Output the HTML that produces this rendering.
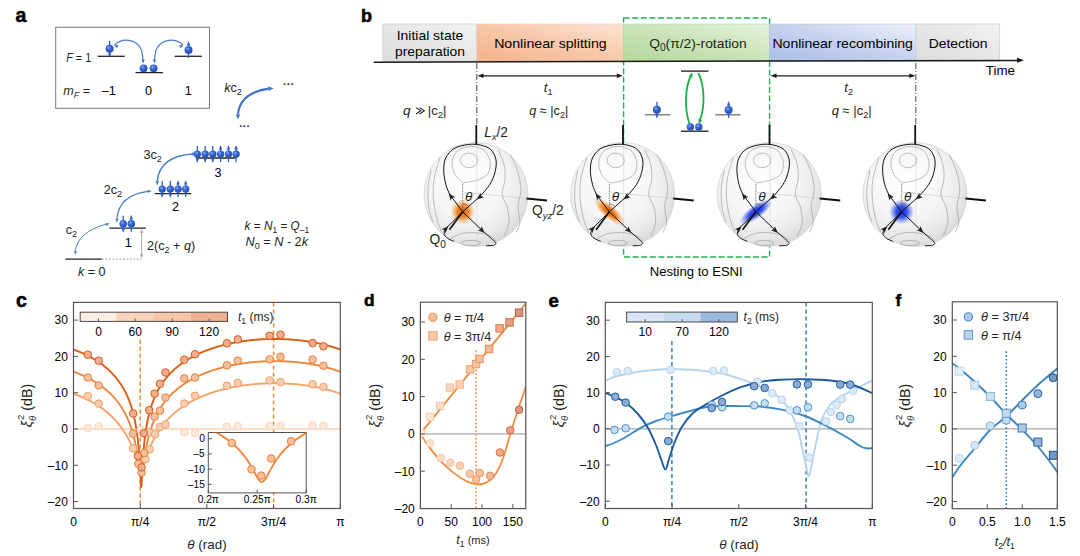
<!DOCTYPE html>
<html><head><meta charset="utf-8"><style>
html,body{margin:0;padding:0;background:#fff;overflow:hidden;width:1080px;height:556px;}
svg{display:block;font-family:"Liberation Sans", sans-serif;}
</style></head><body>
<svg width="1080" height="556" viewBox="0 0 1080 556">
<defs>
<radialGradient id="gAtom" cx="0.38" cy="0.35" r="0.7">
 <stop offset="0" stop-color="#8fb0f0"/><stop offset="0.35" stop-color="#3a6ad6"/><stop offset="1" stop-color="#1f49b0"/>
</radialGradient>
<radialGradient id="gSphere" cx="0.42" cy="0.38" r="0.62">
 <stop offset="0" stop-color="#ffffff"/><stop offset="0.55" stop-color="#f6f6f6"/><stop offset="0.85" stop-color="#e9e9e9"/><stop offset="1" stop-color="#dcdcdc"/>
</radialGradient>
<radialGradient id="gOr" cx="0.5" cy="0.5" r="0.5">
 <stop offset="0" stop-color="#e35f00" stop-opacity="1"/><stop offset="0.45" stop-color="#ee7a10" stop-opacity="0.9"/><stop offset="1" stop-color="#f39a40" stop-opacity="0"/>
</radialGradient>
<radialGradient id="gBl" cx="0.5" cy="0.5" r="0.5">
 <stop offset="0" stop-color="#1030e0" stop-opacity="1"/><stop offset="0.45" stop-color="#2040ee" stop-opacity="0.9"/><stop offset="1" stop-color="#4060f0" stop-opacity="0"/>
</radialGradient>
<linearGradient id="gGray" x1="0" y1="1" x2="1" y2="0">
 <stop offset="0" stop-color="#dcdcdc"/><stop offset="0.5" stop-color="#e6e6e6"/><stop offset="1" stop-color="#f3f3f3"/>
</linearGradient>
<linearGradient id="gOrg" x1="0" y1="1" x2="1" y2="0">
 <stop offset="0" stop-color="#f4b28c"/><stop offset="0.5" stop-color="#f8c8aa"/><stop offset="1" stop-color="#fbe4d6"/>
</linearGradient>
<linearGradient id="gGrn" x1="0" y1="1" x2="1" y2="0">
 <stop offset="0" stop-color="#b3d89a"/><stop offset="0.5" stop-color="#cae4b9"/><stop offset="1" stop-color="#e6f2de"/>
</linearGradient>
<linearGradient id="gBlu" x1="0" y1="1" x2="1" y2="0">
 <stop offset="0" stop-color="#abbfe7"/><stop offset="0.5" stop-color="#c5d1ee"/><stop offset="1" stop-color="#eef1f9"/>
</linearGradient>
</defs>
<rect width="1080" height="556" fill="#fff"/>

<text x="15.60" y="22.30" font-size="19.5" font-weight="bold" fill="#000" stroke="#000" stroke-width="0.55">a</text>
<text x="360.90" y="22.00" font-size="18" font-weight="bold" fill="#000" stroke="#000" stroke-width="0.55">b</text>
<text x="16.00" y="306.60" font-size="19.5" font-weight="bold" fill="#000" stroke="#000" stroke-width="0.55">c</text>
<text x="364.00" y="306.20" font-size="17.3" font-weight="bold" fill="#000" stroke="#000" stroke-width="0.55">d</text>
<text x="548.50" y="306.80" font-size="18.5" font-weight="bold" fill="#000" stroke="#000" stroke-width="0.55">e</text>
<text x="895.40" y="305.90" font-size="17" font-weight="bold" fill="#000" stroke="#000" stroke-width="0.55">f</text>
<rect x="55.7" y="27.3" width="153.8" height="81" fill="none" stroke="#7a7a7a" stroke-width="1"/>
<text x="66.2" y="62.4" font-size="12.6" fill="#231f20" textLength="25" lengthAdjust="spacingAndGlyphs"><tspan font-style="italic">F</tspan> = 1</text>
<text x="63.3" y="94.8" font-size="12.6" fill="#231f20"><tspan font-style="italic">m</tspan><tspan font-size="9" font-style="italic" dy="3">F</tspan><tspan dy="-3"> =</tspan></text>
<text x="108.70" y="94.80" font-size="12.6" text-anchor="middle">–1</text>
<text x="148.60" y="94.80" font-size="12.6" text-anchor="middle">0</text>
<text x="188.20" y="94.80" font-size="12.6" text-anchor="middle">1</text>
<line x1="97.8" y1="56.3" x2="124.8" y2="56.3" stroke="#222" stroke-width="1.3"/>
<line x1="135.5" y1="72.6" x2="162.9" y2="72.6" stroke="#222" stroke-width="1.3"/>
<line x1="174.7" y1="56.3" x2="201.9" y2="56.3" stroke="#222" stroke-width="1.3"/>
<path d="M114.5,45 C122,38 136,38 141.5,50 Q143,56 143,62" fill="none" stroke="#4a7cc8" stroke-width="1.2"/>
<path d="M114.00,45.30 L118.34,45.07 L117.18,48.27Z" fill="#4a7cc8"/>
<path d="M143.00,63.50 L141.44,59.44 L144.84,59.56Z" fill="#4a7cc8"/>
<path d="M183,45 C175.5,38 161.5,38 156,50 Q154.5,56 154.5,62" fill="none" stroke="#4a7cc8" stroke-width="1.2"/>
<path d="M183.50,45.30 L180.32,48.27 L179.16,45.07Z" fill="#4a7cc8"/>
<path d="M154.50,63.50 L152.66,59.56 L156.06,59.44Z" fill="#4a7cc8"/>
<line x1="109.60" y1="40.80" x2="109.60" y2="53.80" stroke="#2f5fc0" stroke-width="1.3"/>
<path d="M109.60,57.80 L107.90,53.30 L111.30,53.30Z" fill="#2f5fc0"/>
<circle cx="109.60" cy="48.80" r="4" fill="url(#gAtom)"/>
<line x1="188.50" y1="58.00" x2="188.50" y2="45.00" stroke="#2f5fc0" stroke-width="1.3"/>
<path d="M188.50,41.00 L190.20,45.50 L186.80,45.50Z" fill="#2f5fc0"/>
<circle cx="188.50" cy="50.00" r="4" fill="url(#gAtom)"/>
<circle cx="143.60" cy="68.30" r="3.9" fill="url(#gAtom)"/>
<circle cx="153.60" cy="68.30" r="3.9" fill="url(#gAtom)"/>
<line x1="65.3" y1="259.1" x2="101.8" y2="259.1" stroke="#222" stroke-width="1.3"/>
<line x1="101.8" y1="259.1" x2="141.6" y2="259.1" stroke="#999" stroke-width="0.9" stroke-dasharray="2,1.5"/>
<line x1="109.4" y1="228.1" x2="145.9" y2="228.1" stroke="#222" stroke-width="1.3"/>
<line x1="154.7" y1="193.6" x2="191.2" y2="193.6" stroke="#222" stroke-width="1.3"/>
<line x1="196.2" y1="158" x2="235.7" y2="158" stroke="#222" stroke-width="1.3"/>
<line x1="141.6" y1="232" x2="141.6" y2="255" stroke="#aaa" stroke-width="1"/>
<path d="M141.60,229.00 L143.20,233.00 L140.00,233.00Z" fill="#aaa"/>
<path d="M141.60,258.30 L140.00,254.30 L143.20,254.30Z" fill="#aaa"/>
<path d="M75.4,250.5 Q78,232 106,224.2" fill="none" stroke="#4a7cc8" stroke-width="1"/>
<path d="M75.20,254.80 L74.05,250.68 L77.04,250.95Z" fill="#4a7cc8"/>
<path d="M109.80,223.60 L106.20,225.90 L105.58,222.96Z" fill="#4a7cc8"/>
<path d="M116.9,218.5 Q119,195 148,191.3" fill="none" stroke="#4a7cc8" stroke-width="1.2"/>
<path d="M116.80,222.80 L115.42,218.52 L118.62,218.69Z" fill="#4a7cc8"/>
<path d="M151.80,191.00 L147.76,192.96 L147.48,189.77Z" fill="#4a7cc8"/>
<path d="M157.2,181 Q160,156 192.5,154" fill="none" stroke="#4a7cc8" stroke-width="1.4"/>
<path d="M157.10,185.50 L155.55,181.04 L158.95,181.16Z" fill="#4a7cc8"/>
<path d="M196.50,153.80 L192.20,155.73 L192.02,152.33Z" fill="#4a7cc8"/>
<path d="M238,114 Q240,93 268.5,88.6" fill="none" stroke="#3f72c6" stroke-width="2.1"/>
<path d="M237.80,119.50 L235.88,114.19 L240.27,114.42Z" fill="#3f72c6"/>
<path d="M273.60,88.20 L268.66,90.93 L268.20,86.56Z" fill="#3f72c6"/>
<line x1="123.20" y1="215.80" x2="123.20" y2="228.80" stroke="#2f5fc0" stroke-width="1.3"/>
<path d="M123.20,232.80 L121.50,228.30 L124.90,228.30Z" fill="#2f5fc0"/>
<circle cx="123.20" cy="223.80" r="3.8" fill="url(#gAtom)"/>
<line x1="131.30" y1="231.80" x2="131.30" y2="218.80" stroke="#2f5fc0" stroke-width="1.3"/>
<path d="M131.30,214.80 L133.00,219.30 L129.60,219.30Z" fill="#2f5fc0"/>
<circle cx="131.30" cy="223.80" r="3.8" fill="url(#gAtom)"/>
<line x1="162.20" y1="181.10" x2="162.20" y2="194.10" stroke="#2f5fc0" stroke-width="1.3"/>
<path d="M162.20,198.10 L160.50,193.60 L163.90,193.60Z" fill="#2f5fc0"/>
<circle cx="162.20" cy="189.10" r="3.7" fill="url(#gAtom)"/>
<line x1="170.30" y1="181.10" x2="170.30" y2="194.10" stroke="#2f5fc0" stroke-width="1.3"/>
<path d="M170.30,198.10 L168.60,193.60 L172.00,193.60Z" fill="#2f5fc0"/>
<circle cx="170.30" cy="189.10" r="3.7" fill="url(#gAtom)"/>
<line x1="178.10" y1="197.10" x2="178.10" y2="184.10" stroke="#2f5fc0" stroke-width="1.3"/>
<path d="M178.10,180.10 L179.80,184.60 L176.40,184.60Z" fill="#2f5fc0"/>
<circle cx="178.10" cy="189.10" r="3.7" fill="url(#gAtom)"/>
<line x1="185.70" y1="197.10" x2="185.70" y2="184.10" stroke="#2f5fc0" stroke-width="1.3"/>
<path d="M185.70,180.10 L187.40,184.60 L184.00,184.60Z" fill="#2f5fc0"/>
<circle cx="185.70" cy="189.10" r="3.7" fill="url(#gAtom)"/>
<line x1="197.30" y1="146.10" x2="197.30" y2="159.10" stroke="#2f5fc0" stroke-width="1.3"/>
<path d="M197.30,163.10 L195.60,158.60 L199.00,158.60Z" fill="#2f5fc0"/>
<circle cx="197.30" cy="154.10" r="3.7" fill="url(#gAtom)"/>
<line x1="205.20" y1="146.10" x2="205.20" y2="159.10" stroke="#2f5fc0" stroke-width="1.3"/>
<path d="M205.20,163.10 L203.50,158.60 L206.90,158.60Z" fill="#2f5fc0"/>
<circle cx="205.20" cy="154.10" r="3.7" fill="url(#gAtom)"/>
<line x1="212.80" y1="146.10" x2="212.80" y2="159.10" stroke="#2f5fc0" stroke-width="1.3"/>
<path d="M212.80,163.10 L211.10,158.60 L214.50,158.60Z" fill="#2f5fc0"/>
<circle cx="212.80" cy="154.10" r="3.7" fill="url(#gAtom)"/>
<line x1="220.60" y1="162.10" x2="220.60" y2="149.10" stroke="#2f5fc0" stroke-width="1.3"/>
<path d="M220.60,145.10 L222.30,149.60 L218.90,149.60Z" fill="#2f5fc0"/>
<circle cx="220.60" cy="154.10" r="3.7" fill="url(#gAtom)"/>
<line x1="228.50" y1="162.10" x2="228.50" y2="149.10" stroke="#2f5fc0" stroke-width="1.3"/>
<path d="M228.50,145.10 L230.20,149.60 L226.80,149.60Z" fill="#2f5fc0"/>
<circle cx="228.50" cy="154.10" r="3.7" fill="url(#gAtom)"/>
<line x1="236.10" y1="162.10" x2="236.10" y2="149.10" stroke="#2f5fc0" stroke-width="1.3"/>
<path d="M236.10,145.10 L237.80,149.60 L234.40,149.60Z" fill="#2f5fc0"/>
<circle cx="236.10" cy="154.10" r="3.7" fill="url(#gAtom)"/>
<text x="65.8" y="234.4" font-size="12.6" fill="#231f20">c<tspan font-size="9" dy="3">2</tspan></text>
<text x="103.8" y="194.1" font-size="12.6" fill="#231f20">2c<tspan font-size="9" dy="3">2</tspan></text>
<text x="143.4" y="158.9" font-size="12.6" fill="#231f20">3c<tspan font-size="9" dy="3">2</tspan></text>
<text x="224.2" y="91.6" font-size="12.6" fill="#231f20"><tspan font-style="italic">k</tspan>c<tspan font-size="9" dy="3">2</tspan></text>
<text x="128.20" y="247.00" font-size="12.6" text-anchor="middle">1</text>
<text x="175.40" y="211.00" font-size="12.6" text-anchor="middle">2</text>
<text x="218.00" y="176.80" font-size="12.6" text-anchor="middle">3</text>
<text x="77.9" y="276" font-size="12.6" fill="#231f20"><tspan font-style="italic">k</tspan> = 0</text>
<text x="147.1" y="249.5" font-size="12.6" fill="#231f20">2(c<tspan font-size="9" dy="3">2</tspan><tspan dy="-3"> + </tspan><tspan font-style="italic">q</tspan>)</text>
<text x="288.60" y="87.50" font-size="11" text-anchor="middle" font-weight="bold" fill="#222">···</text>
<text x="244.70" y="130.00" font-size="11" text-anchor="middle" font-weight="bold" fill="#222">···</text>
<text x="244.6" y="229.7" font-size="12.6" fill="#231f20" font-style="italic" textLength="64.5" lengthAdjust="spacingAndGlyphs">k<tspan font-style="normal"> = </tspan>N<tspan font-size="9" font-style="normal" dy="3">1</tspan><tspan font-style="normal" dy="-3"> = </tspan>Q<tspan font-size="9" font-style="normal" dy="3">–1</tspan></text>
<text x="245.6" y="245.8" font-size="12.6" fill="#231f20" font-style="italic" textLength="62.4" lengthAdjust="spacingAndGlyphs">N<tspan font-size="9" font-style="normal" dy="3">0</tspan><tspan font-style="normal" dy="-3"> = </tspan>N<tspan font-style="normal"> - 2</tspan>k</text>
<rect x="623.6" y="18" width="146" height="239" fill="none" stroke="#27ae50" stroke-width="1.4" stroke-dasharray="6,2.6"/>
<rect x="382.8" y="24" width="94" height="37.2" fill="url(#gGray)" stroke="#d0d0d0" stroke-width="0.8"/>
<rect x="476.8" y="24" width="146.5" height="37.2" fill="url(#gOrg)" stroke="#f3c9ae" stroke-width="0.6"/>
<rect x="623.3" y="24" width="146.4" height="37.2" fill="url(#gGrn)" stroke="#b5d6a2" stroke-width="0.6"/>
<rect x="769.7" y="24" width="146.1" height="37.2" fill="url(#gBlu)" stroke="#b3c2e4" stroke-width="0.6"/>
<rect x="915.8" y="24" width="83.9" height="37.2" fill="url(#gGray)" stroke="#d0d0d0" stroke-width="0.8"/>
<text x="430.00" y="40.00" font-size="13" text-anchor="middle" textLength="66.5" lengthAdjust="spacingAndGlyphs">Initial state</text>
<text x="430.00" y="55.60" font-size="13" text-anchor="middle" textLength="70" lengthAdjust="spacingAndGlyphs">preparation</text>
<text x="550.40" y="48.00" font-size="13" text-anchor="middle" textLength="112.5" lengthAdjust="spacingAndGlyphs">Nonlinear splitting</text>
<text x="649.2" y="47.8" font-size="13.6" fill="#231f20" textLength="97.5" lengthAdjust="spacingAndGlyphs">Q<tspan font-size="10" dy="3.2">0</tspan><tspan dy="-3.2">(π/2)-rotation</tspan></text>
<text x="842.70" y="48.00" font-size="13" text-anchor="middle" textLength="140.5" lengthAdjust="spacingAndGlyphs">Nonlinear recombining</text>
<text x="958.10" y="48.30" font-size="13" text-anchor="middle" textLength="58.8" lengthAdjust="spacingAndGlyphs">Detection</text>
<line x1="373.8" y1="62.2" x2="1018" y2="60.4" stroke="#1a1a1a" stroke-width="1.5"/>
<path d="M1024.00,60.30 L1017.01,62.82 L1016.99,57.82Z" fill="#1a1a1a"/>
<text x="1000.40" y="75.30" font-size="12.6" text-anchor="middle" textLength="29.2" lengthAdjust="spacingAndGlyphs">Time</text>
<line x1="476.8" y1="63" x2="476.8" y2="125" stroke="#333" stroke-width="0.9" stroke-dasharray="6,2,1,2"/>
<line x1="915.8" y1="63" x2="915.8" y2="125" stroke="#333" stroke-width="0.9" stroke-dasharray="6,2,1,2"/>
<line x1="481.5" y1="75.8" x2="618.8" y2="75.8" stroke="#1a1a1a" stroke-width="1.3"/>
<path d="M477.50,75.80 L483.50,73.60 L483.50,78.00Z" fill="#1a1a1a"/>
<path d="M622.80,75.80 L616.80,78.00 L616.80,73.60Z" fill="#1a1a1a"/>
<line x1="774.5" y1="75.8" x2="911.3" y2="75.8" stroke="#1a1a1a" stroke-width="1.3"/>
<path d="M770.50,75.80 L776.50,73.60 L776.50,78.00Z" fill="#1a1a1a"/>
<path d="M915.30,75.80 L909.30,78.00 L909.30,73.60Z" fill="#1a1a1a"/>
<text x="543.8" y="91.6" font-size="13.4" fill="#231f20" font-style="italic">t<tspan font-size="9" font-style="normal" dy="3">1</tspan></text>
<text x="844.3" y="91.6" font-size="13.4" fill="#231f20" font-style="italic">t<tspan font-size="9" font-style="normal" dy="3">2</tspan></text>
<text x="403" y="115" font-size="13.6" fill="#231f20" font-style="italic">q</text>
<path d="M416,107.6 L420.8,110.8 L416,114 M419.6,107.6 L424.4,110.8 L419.6,114" fill="none" stroke="#231f20" stroke-width="1.05"/>
<text x="427.8" y="115" font-size="13" fill="#231f20">|c<tspan font-size="9.4" dy="3">2</tspan><tspan dy="-3">|</tspan></text>
<text x="529.3" y="115" font-size="12.6" fill="#231f20" textLength="39" lengthAdjust="spacingAndGlyphs"><tspan font-style="italic">q</tspan> ≈ |c<tspan font-size="9" dy="3">2</tspan><tspan dy="-3">|</tspan></text>
<text x="831.7" y="115" font-size="12.6" fill="#231f20" textLength="40" lengthAdjust="spacingAndGlyphs"><tspan font-style="italic">q</tspan> ≈ |c<tspan font-size="9" dy="3">2</tspan><tspan dy="-3">|</tspan></text>
<line x1="681" y1="71.1" x2="708.4" y2="71.1" stroke="#1a1a1a" stroke-width="1.3"/>
<line x1="681" y1="131.2" x2="708.4" y2="131.2" stroke="#1a1a1a" stroke-width="1.3"/>
<line x1="645" y1="114.8" x2="670.3" y2="114.8" stroke="#666" stroke-width="1.2"/>
<line x1="715.2" y1="114.8" x2="740.5" y2="114.8" stroke="#666" stroke-width="1.2"/>
<path d="M689.7,124.5 C684.5,110 684.5,88 691.2,75" fill="none" stroke="#1fae48" stroke-width="1.8"/>
<path d="M692.20,72.30 L692.37,77.68 L688.61,76.31Z" fill="#1fae48"/>
<path d="M698.3,73 C705,86 705,108 699.6,120.5" fill="none" stroke="#1fae48" stroke-width="1.8"/>
<path d="M698.80,124.20 L698.44,118.83 L702.25,120.06Z" fill="#1fae48"/>
<line x1="656.90" y1="101.70" x2="656.90" y2="114.70" stroke="#2f5fc0" stroke-width="1.3"/>
<path d="M656.90,118.70 L655.20,114.20 L658.60,114.20Z" fill="#2f5fc0"/>
<circle cx="656.90" cy="109.70" r="4" fill="url(#gAtom)"/>
<line x1="728.60" y1="118.10" x2="728.60" y2="105.10" stroke="#2f5fc0" stroke-width="1.3"/>
<path d="M728.60,101.10 L730.30,105.60 L726.90,105.60Z" fill="#2f5fc0"/>
<circle cx="728.60" cy="110.10" r="4" fill="url(#gAtom)"/>
<circle cx="690.40" cy="126.90" r="3.7" fill="url(#gAtom)"/>
<circle cx="698.80" cy="126.90" r="3.7" fill="url(#gAtom)"/>
<text x="696.20" y="276.00" font-size="13.2" text-anchor="middle" textLength="93" lengthAdjust="spacingAndGlyphs">Nesting to ESNI</text>
<g transform="translate(476.0,194.4)">
<circle r="52" fill="url(#gSphere)" stroke="#d4d4d4" stroke-width="0.8"/>
<line x1="1" y1="-52" x2="1" y2="52" stroke="#d8d8d8" stroke-width="0.7"/>
<line x1="-12" y1="-2" x2="51" y2="4" stroke="#d0d0d0" stroke-width="0.8"/>
<ellipse cx="-7" cy="-34" rx="8.6" ry="7.3" fill="none" stroke="#9a9a9a" stroke-width="0.65"/>
<path d="M-12.50,-11.50 C-13.83,-12.75 -18.58,-15.58 -20.50,-19.00 C-22.42,-22.42 -24.33,-27.92 -24.00,-32.00 C-23.67,-36.08 -21.67,-40.83 -18.50,-43.50 C-15.33,-46.17 -9.42,-47.92 -5.00,-48.00 C-0.58,-48.08 4.83,-46.50 8.00,-44.00 C11.17,-41.50 13.33,-36.83 14.00,-33.00 C14.67,-29.17 14.00,-24.08 12.00,-21.00 C10.00,-17.92 6.08,-16.08 2.00,-14.50 C-2.08,-12.92 -10.08,-12.00 -12.50,-11.50" fill="none" stroke="#9a9a9a" stroke-width="0.65"/>
<ellipse cx="-5" cy="48.6" rx="9.5" ry="2.6" fill="none" stroke="#9a9a9a" stroke-width="0.65"/>
<path d="M-25.00,44.00 C-23.17,43.17 -18.50,39.92 -14.00,39.00 C-9.50,38.08 -2.83,38.00 2.00,38.50 C6.83,39.00 12.00,40.58 15.00,42.00 C18.00,43.42 19.17,46.17 20.00,47.00" fill="none" stroke="#9a9a9a" stroke-width="0.65"/>
<path d="M-36.00,-37.00 C-37.00,-33.33 -40.92,-22.00 -42.00,-15.00 C-43.08,-8.00 -43.00,-1.67 -42.50,5.00 C-42.00,11.67 -40.42,19.50 -39.00,25.00 C-37.58,30.50 -34.83,35.83 -34.00,38.00" fill="none" stroke="#9a9a9a" stroke-width="0.65"/>
<path d="M-45.00,-24.00 C-45.50,-20.83 -47.67,-11.33 -48.00,-5.00 C-48.33,1.33 -47.83,8.50 -47.00,14.00 C-46.17,19.50 -43.67,25.67 -43.00,28.00" fill="none" stroke="#9a9a9a" stroke-width="0.65"/>
<path d="M22.00,-45.00 C23.00,-42.50 26.83,-35.00 28.00,-30.00 C29.17,-25.00 29.33,-20.00 29.00,-15.00 C28.67,-10.00 25.67,-4.50 26.00,0.00 C26.33,4.50 29.83,7.33 31.00,12.00 C32.17,16.67 33.50,23.00 33.00,28.00 C32.50,33.00 28.83,39.67 28.00,42.00" fill="none" stroke="#9a9a9a" stroke-width="0.65"/>
<path d="M34.00,-40.00 C35.17,-37.50 39.17,-30.83 41.00,-25.00 C42.83,-19.17 44.83,-11.17 45.00,-5.00 C45.17,1.17 42.17,6.50 42.00,12.00 C41.83,17.50 44.33,23.67 44.00,28.00 C43.67,32.33 40.67,36.33 40.00,38.00" fill="none" stroke="#9a9a9a" stroke-width="0.65"/>
<g transform="translate(0,1.4)">
<circle cx="-13.3" cy="16" r="12.5" fill="url(#gOr)"/>
<path d="M-13.3,16 L-26.1,-1 C-26.78,-2.72 -29.17,-7.20 -30.20,-11.30 C-31.23,-15.40 -32.30,-21.17 -32.30,-25.60 C-32.30,-30.03 -31.92,-34.30 -30.20,-37.90 C-28.48,-41.50 -25.75,-44.97 -22.00,-47.20 C-18.25,-49.43 -12.13,-50.72 -7.70,-51.30 C-3.27,-51.88 0.83,-51.57 4.60,-50.70 C8.37,-49.83 12.33,-48.57 14.90,-46.10 C17.47,-43.63 19.32,-39.65 20.00,-35.90 C20.68,-32.15 20.03,-27.70 19.00,-23.60 C17.97,-19.50 16.20,-15.23 13.80,-11.30 C11.40,-7.37 6.13,-1.88 4.60,0.00 L-13.3,16" fill="none" stroke="#111" stroke-width="1.0"/>
<path d="M-13.3,16 L6.9,35.3 C8.08,36.33 12.07,39.80 14.00,41.50 C15.93,43.20 17.52,44.42 18.50,45.50 C19.48,46.58 20.23,47.32 19.90,48.00 C19.57,48.68 18.15,49.27 16.50,49.60 C14.85,49.93 11.08,49.93 10.00,50.00" fill="none" stroke="#111" stroke-width="1.0"/>
<path d="M-22.00,45.60 C-23.08,45.08 -26.87,43.68 -28.50,42.50 C-30.13,41.32 -31.38,40.00 -31.80,38.50 C-32.22,37.00 -31.13,34.33 -31.00,33.50 L-13.3,16" fill="none" stroke="#111" stroke-width="1.0"/>
<line x1="-13.3" y1="16" x2="-26.6" y2="33.9" stroke="#111" stroke-width="1.7"/>
<path d="M-27.20,-2.60 L-20.89,1.53 L-24.07,1.87 L-25.48,4.74Z" fill="#231f20"/>
<path d="M0.80,3.60 L4.48,-2.98 L5.04,0.16 L8.00,1.37Z" fill="#231f20"/>
<path d="M8.80,37.20 L1.77,34.47 L4.81,33.48 L5.59,30.38Z" fill="#231f20"/>
<path d="M-27.60,30.40 L-30.57,37.33 L-31.46,34.26 L-34.53,33.37Z" fill="#231f20"/>
<line x1="-13.3" y1="-12" x2="-13.3" y2="16" stroke="#555" stroke-width="0.8" stroke-dasharray="1,0.8"/>
<path d="M-13.3,8 A8,8 0 0 1 -7.2,10.8" fill="none" stroke="#555" stroke-width="0.7"/>
<text x="-10.9" y="5.6" font-size="13.6" font-style="italic" fill="#1a1a1a">θ</text>
</g>
<line x1="0.3" y1="-69.5" x2="0.3" y2="-50" stroke="#111" stroke-width="1.8"/>
<line x1="50.5" y1="4.2" x2="71" y2="6" stroke="#111" stroke-width="2"/>
</g>
<g transform="translate(622.7,194.4)">
<circle r="52" fill="url(#gSphere)" stroke="#d4d4d4" stroke-width="0.8"/>
<line x1="1" y1="-52" x2="1" y2="52" stroke="#d8d8d8" stroke-width="0.7"/>
<line x1="-12" y1="-2" x2="51" y2="4" stroke="#d0d0d0" stroke-width="0.8"/>
<ellipse cx="-7" cy="-34" rx="8.6" ry="7.3" fill="none" stroke="#9a9a9a" stroke-width="0.65"/>
<path d="M-12.50,-11.50 C-13.83,-12.75 -18.58,-15.58 -20.50,-19.00 C-22.42,-22.42 -24.33,-27.92 -24.00,-32.00 C-23.67,-36.08 -21.67,-40.83 -18.50,-43.50 C-15.33,-46.17 -9.42,-47.92 -5.00,-48.00 C-0.58,-48.08 4.83,-46.50 8.00,-44.00 C11.17,-41.50 13.33,-36.83 14.00,-33.00 C14.67,-29.17 14.00,-24.08 12.00,-21.00 C10.00,-17.92 6.08,-16.08 2.00,-14.50 C-2.08,-12.92 -10.08,-12.00 -12.50,-11.50" fill="none" stroke="#9a9a9a" stroke-width="0.65"/>
<ellipse cx="-5" cy="48.6" rx="9.5" ry="2.6" fill="none" stroke="#9a9a9a" stroke-width="0.65"/>
<path d="M-25.00,44.00 C-23.17,43.17 -18.50,39.92 -14.00,39.00 C-9.50,38.08 -2.83,38.00 2.00,38.50 C6.83,39.00 12.00,40.58 15.00,42.00 C18.00,43.42 19.17,46.17 20.00,47.00" fill="none" stroke="#9a9a9a" stroke-width="0.65"/>
<path d="M-36.00,-37.00 C-37.00,-33.33 -40.92,-22.00 -42.00,-15.00 C-43.08,-8.00 -43.00,-1.67 -42.50,5.00 C-42.00,11.67 -40.42,19.50 -39.00,25.00 C-37.58,30.50 -34.83,35.83 -34.00,38.00" fill="none" stroke="#9a9a9a" stroke-width="0.65"/>
<path d="M-45.00,-24.00 C-45.50,-20.83 -47.67,-11.33 -48.00,-5.00 C-48.33,1.33 -47.83,8.50 -47.00,14.00 C-46.17,19.50 -43.67,25.67 -43.00,28.00" fill="none" stroke="#9a9a9a" stroke-width="0.65"/>
<path d="M22.00,-45.00 C23.00,-42.50 26.83,-35.00 28.00,-30.00 C29.17,-25.00 29.33,-20.00 29.00,-15.00 C28.67,-10.00 25.67,-4.50 26.00,0.00 C26.33,4.50 29.83,7.33 31.00,12.00 C32.17,16.67 33.50,23.00 33.00,28.00 C32.50,33.00 28.83,39.67 28.00,42.00" fill="none" stroke="#9a9a9a" stroke-width="0.65"/>
<path d="M34.00,-40.00 C35.17,-37.50 39.17,-30.83 41.00,-25.00 C42.83,-19.17 44.83,-11.17 45.00,-5.00 C45.17,1.17 42.17,6.50 42.00,12.00 C41.83,17.50 44.33,23.67 44.00,28.00 C43.67,32.33 40.67,36.33 40.00,38.00" fill="none" stroke="#9a9a9a" stroke-width="0.65"/>
<g transform="translate(0,1.4)">
<ellipse cx="-13.3" cy="16" rx="20" ry="7" transform="rotate(41 -13.3 16)" fill="url(#gOr)"/>
<path d="M-13.3,16 L-26.1,-1 C-26.78,-2.72 -29.17,-7.20 -30.20,-11.30 C-31.23,-15.40 -32.30,-21.17 -32.30,-25.60 C-32.30,-30.03 -31.92,-34.30 -30.20,-37.90 C-28.48,-41.50 -25.75,-44.97 -22.00,-47.20 C-18.25,-49.43 -12.13,-50.72 -7.70,-51.30 C-3.27,-51.88 0.83,-51.57 4.60,-50.70 C8.37,-49.83 12.33,-48.57 14.90,-46.10 C17.47,-43.63 19.32,-39.65 20.00,-35.90 C20.68,-32.15 20.03,-27.70 19.00,-23.60 C17.97,-19.50 16.20,-15.23 13.80,-11.30 C11.40,-7.37 6.13,-1.88 4.60,0.00 L-13.3,16" fill="none" stroke="#111" stroke-width="1.0"/>
<path d="M-13.3,16 L6.9,35.3 C8.08,36.33 12.07,39.80 14.00,41.50 C15.93,43.20 17.52,44.42 18.50,45.50 C19.48,46.58 20.23,47.32 19.90,48.00 C19.57,48.68 18.15,49.27 16.50,49.60 C14.85,49.93 11.08,49.93 10.00,50.00" fill="none" stroke="#111" stroke-width="1.0"/>
<path d="M-22.00,45.60 C-23.08,45.08 -26.87,43.68 -28.50,42.50 C-30.13,41.32 -31.38,40.00 -31.80,38.50 C-32.22,37.00 -31.13,34.33 -31.00,33.50 L-13.3,16" fill="none" stroke="#111" stroke-width="1.0"/>
<line x1="-13.3" y1="16" x2="-26.6" y2="33.9" stroke="#111" stroke-width="1.7"/>
<path d="M-27.20,-2.60 L-20.89,1.53 L-24.07,1.87 L-25.48,4.74Z" fill="#231f20"/>
<path d="M0.80,3.60 L4.48,-2.98 L5.04,0.16 L8.00,1.37Z" fill="#231f20"/>
<path d="M8.80,37.20 L1.77,34.47 L4.81,33.48 L5.59,30.38Z" fill="#231f20"/>
<path d="M-27.60,30.40 L-30.57,37.33 L-31.46,34.26 L-34.53,33.37Z" fill="#231f20"/>
<line x1="-13.3" y1="-12" x2="-13.3" y2="16" stroke="#555" stroke-width="0.8" stroke-dasharray="1,0.8"/>
<path d="M-13.3,8 A8,8 0 0 1 -7.2,10.8" fill="none" stroke="#555" stroke-width="0.7"/>
<text x="-10.9" y="5.6" font-size="13.6" font-style="italic" fill="#1a1a1a">θ</text>
</g>
<line x1="0.3" y1="-69.5" x2="0.3" y2="-50" stroke="#111" stroke-width="1.8"/>
<line x1="50.5" y1="4.2" x2="71" y2="6" stroke="#111" stroke-width="2"/>
</g>
<g transform="translate(769.2,194.4)">
<circle r="52" fill="url(#gSphere)" stroke="#d4d4d4" stroke-width="0.8"/>
<line x1="1" y1="-52" x2="1" y2="52" stroke="#d8d8d8" stroke-width="0.7"/>
<line x1="-12" y1="-2" x2="51" y2="4" stroke="#d0d0d0" stroke-width="0.8"/>
<ellipse cx="-7" cy="-34" rx="8.6" ry="7.3" fill="none" stroke="#9a9a9a" stroke-width="0.65"/>
<path d="M-12.50,-11.50 C-13.83,-12.75 -18.58,-15.58 -20.50,-19.00 C-22.42,-22.42 -24.33,-27.92 -24.00,-32.00 C-23.67,-36.08 -21.67,-40.83 -18.50,-43.50 C-15.33,-46.17 -9.42,-47.92 -5.00,-48.00 C-0.58,-48.08 4.83,-46.50 8.00,-44.00 C11.17,-41.50 13.33,-36.83 14.00,-33.00 C14.67,-29.17 14.00,-24.08 12.00,-21.00 C10.00,-17.92 6.08,-16.08 2.00,-14.50 C-2.08,-12.92 -10.08,-12.00 -12.50,-11.50" fill="none" stroke="#9a9a9a" stroke-width="0.65"/>
<ellipse cx="-5" cy="48.6" rx="9.5" ry="2.6" fill="none" stroke="#9a9a9a" stroke-width="0.65"/>
<path d="M-25.00,44.00 C-23.17,43.17 -18.50,39.92 -14.00,39.00 C-9.50,38.08 -2.83,38.00 2.00,38.50 C6.83,39.00 12.00,40.58 15.00,42.00 C18.00,43.42 19.17,46.17 20.00,47.00" fill="none" stroke="#9a9a9a" stroke-width="0.65"/>
<path d="M-36.00,-37.00 C-37.00,-33.33 -40.92,-22.00 -42.00,-15.00 C-43.08,-8.00 -43.00,-1.67 -42.50,5.00 C-42.00,11.67 -40.42,19.50 -39.00,25.00 C-37.58,30.50 -34.83,35.83 -34.00,38.00" fill="none" stroke="#9a9a9a" stroke-width="0.65"/>
<path d="M-45.00,-24.00 C-45.50,-20.83 -47.67,-11.33 -48.00,-5.00 C-48.33,1.33 -47.83,8.50 -47.00,14.00 C-46.17,19.50 -43.67,25.67 -43.00,28.00" fill="none" stroke="#9a9a9a" stroke-width="0.65"/>
<path d="M22.00,-45.00 C23.00,-42.50 26.83,-35.00 28.00,-30.00 C29.17,-25.00 29.33,-20.00 29.00,-15.00 C28.67,-10.00 25.67,-4.50 26.00,0.00 C26.33,4.50 29.83,7.33 31.00,12.00 C32.17,16.67 33.50,23.00 33.00,28.00 C32.50,33.00 28.83,39.67 28.00,42.00" fill="none" stroke="#9a9a9a" stroke-width="0.65"/>
<path d="M34.00,-40.00 C35.17,-37.50 39.17,-30.83 41.00,-25.00 C42.83,-19.17 44.83,-11.17 45.00,-5.00 C45.17,1.17 42.17,6.50 42.00,12.00 C41.83,17.50 44.33,23.67 44.00,28.00 C43.67,32.33 40.67,36.33 40.00,38.00" fill="none" stroke="#9a9a9a" stroke-width="0.65"/>
<g transform="translate(0,1.4)">
<ellipse cx="-13.3" cy="16" rx="19.5" ry="7" transform="rotate(-36 -13.3 16)" fill="url(#gBl)"/>
<path d="M-13.3,16 L-26.1,-1 C-26.78,-2.72 -29.17,-7.20 -30.20,-11.30 C-31.23,-15.40 -32.30,-21.17 -32.30,-25.60 C-32.30,-30.03 -31.92,-34.30 -30.20,-37.90 C-28.48,-41.50 -25.75,-44.97 -22.00,-47.20 C-18.25,-49.43 -12.13,-50.72 -7.70,-51.30 C-3.27,-51.88 0.83,-51.57 4.60,-50.70 C8.37,-49.83 12.33,-48.57 14.90,-46.10 C17.47,-43.63 19.32,-39.65 20.00,-35.90 C20.68,-32.15 20.03,-27.70 19.00,-23.60 C17.97,-19.50 16.20,-15.23 13.80,-11.30 C11.40,-7.37 6.13,-1.88 4.60,0.00 L-13.3,16" fill="none" stroke="#111" stroke-width="1.0"/>
<path d="M-13.3,16 L6.9,35.3 C8.08,36.33 12.07,39.80 14.00,41.50 C15.93,43.20 17.52,44.42 18.50,45.50 C19.48,46.58 20.23,47.32 19.90,48.00 C19.57,48.68 18.15,49.27 16.50,49.60 C14.85,49.93 11.08,49.93 10.00,50.00" fill="none" stroke="#111" stroke-width="1.0"/>
<path d="M-22.00,45.60 C-23.08,45.08 -26.87,43.68 -28.50,42.50 C-30.13,41.32 -31.38,40.00 -31.80,38.50 C-32.22,37.00 -31.13,34.33 -31.00,33.50 L-13.3,16" fill="none" stroke="#111" stroke-width="1.0"/>
<line x1="-13.3" y1="16" x2="-26.6" y2="33.9" stroke="#111" stroke-width="1.7"/>
<path d="M-27.20,-2.60 L-20.89,1.53 L-24.07,1.87 L-25.48,4.74Z" fill="#231f20"/>
<path d="M0.80,3.60 L4.48,-2.98 L5.04,0.16 L8.00,1.37Z" fill="#231f20"/>
<path d="M8.80,37.20 L1.77,34.47 L4.81,33.48 L5.59,30.38Z" fill="#231f20"/>
<path d="M-27.60,30.40 L-30.57,37.33 L-31.46,34.26 L-34.53,33.37Z" fill="#231f20"/>
<line x1="-13.3" y1="-12" x2="-13.3" y2="16" stroke="#555" stroke-width="0.8" stroke-dasharray="1,0.8"/>
<path d="M-13.3,8 A8,8 0 0 1 -7.2,10.8" fill="none" stroke="#555" stroke-width="0.7"/>
<text x="-10.9" y="5.6" font-size="13.6" font-style="italic" fill="#1a1a1a">θ</text>
</g>
<line x1="0.3" y1="-69.5" x2="0.3" y2="-50" stroke="#111" stroke-width="1.8"/>
<line x1="50.5" y1="4.2" x2="71" y2="6" stroke="#111" stroke-width="2"/>
</g>
<g transform="translate(914.9,194.4)">
<circle r="52" fill="url(#gSphere)" stroke="#d4d4d4" stroke-width="0.8"/>
<line x1="1" y1="-52" x2="1" y2="52" stroke="#d8d8d8" stroke-width="0.7"/>
<line x1="-12" y1="-2" x2="51" y2="4" stroke="#d0d0d0" stroke-width="0.8"/>
<ellipse cx="-7" cy="-34" rx="8.6" ry="7.3" fill="none" stroke="#9a9a9a" stroke-width="0.65"/>
<path d="M-12.50,-11.50 C-13.83,-12.75 -18.58,-15.58 -20.50,-19.00 C-22.42,-22.42 -24.33,-27.92 -24.00,-32.00 C-23.67,-36.08 -21.67,-40.83 -18.50,-43.50 C-15.33,-46.17 -9.42,-47.92 -5.00,-48.00 C-0.58,-48.08 4.83,-46.50 8.00,-44.00 C11.17,-41.50 13.33,-36.83 14.00,-33.00 C14.67,-29.17 14.00,-24.08 12.00,-21.00 C10.00,-17.92 6.08,-16.08 2.00,-14.50 C-2.08,-12.92 -10.08,-12.00 -12.50,-11.50" fill="none" stroke="#9a9a9a" stroke-width="0.65"/>
<ellipse cx="-5" cy="48.6" rx="9.5" ry="2.6" fill="none" stroke="#9a9a9a" stroke-width="0.65"/>
<path d="M-25.00,44.00 C-23.17,43.17 -18.50,39.92 -14.00,39.00 C-9.50,38.08 -2.83,38.00 2.00,38.50 C6.83,39.00 12.00,40.58 15.00,42.00 C18.00,43.42 19.17,46.17 20.00,47.00" fill="none" stroke="#9a9a9a" stroke-width="0.65"/>
<path d="M-36.00,-37.00 C-37.00,-33.33 -40.92,-22.00 -42.00,-15.00 C-43.08,-8.00 -43.00,-1.67 -42.50,5.00 C-42.00,11.67 -40.42,19.50 -39.00,25.00 C-37.58,30.50 -34.83,35.83 -34.00,38.00" fill="none" stroke="#9a9a9a" stroke-width="0.65"/>
<path d="M-45.00,-24.00 C-45.50,-20.83 -47.67,-11.33 -48.00,-5.00 C-48.33,1.33 -47.83,8.50 -47.00,14.00 C-46.17,19.50 -43.67,25.67 -43.00,28.00" fill="none" stroke="#9a9a9a" stroke-width="0.65"/>
<path d="M22.00,-45.00 C23.00,-42.50 26.83,-35.00 28.00,-30.00 C29.17,-25.00 29.33,-20.00 29.00,-15.00 C28.67,-10.00 25.67,-4.50 26.00,0.00 C26.33,4.50 29.83,7.33 31.00,12.00 C32.17,16.67 33.50,23.00 33.00,28.00 C32.50,33.00 28.83,39.67 28.00,42.00" fill="none" stroke="#9a9a9a" stroke-width="0.65"/>
<path d="M34.00,-40.00 C35.17,-37.50 39.17,-30.83 41.00,-25.00 C42.83,-19.17 44.83,-11.17 45.00,-5.00 C45.17,1.17 42.17,6.50 42.00,12.00 C41.83,17.50 44.33,23.67 44.00,28.00 C43.67,32.33 40.67,36.33 40.00,38.00" fill="none" stroke="#9a9a9a" stroke-width="0.65"/>
<g transform="translate(0,1.4)">
<circle cx="-13.3" cy="16" r="12.5" fill="url(#gBl)"/>
<path d="M-13.3,16 L-26.1,-1 C-26.78,-2.72 -29.17,-7.20 -30.20,-11.30 C-31.23,-15.40 -32.30,-21.17 -32.30,-25.60 C-32.30,-30.03 -31.92,-34.30 -30.20,-37.90 C-28.48,-41.50 -25.75,-44.97 -22.00,-47.20 C-18.25,-49.43 -12.13,-50.72 -7.70,-51.30 C-3.27,-51.88 0.83,-51.57 4.60,-50.70 C8.37,-49.83 12.33,-48.57 14.90,-46.10 C17.47,-43.63 19.32,-39.65 20.00,-35.90 C20.68,-32.15 20.03,-27.70 19.00,-23.60 C17.97,-19.50 16.20,-15.23 13.80,-11.30 C11.40,-7.37 6.13,-1.88 4.60,0.00 L-13.3,16" fill="none" stroke="#111" stroke-width="1.0"/>
<path d="M-13.3,16 L6.9,35.3 C8.08,36.33 12.07,39.80 14.00,41.50 C15.93,43.20 17.52,44.42 18.50,45.50 C19.48,46.58 20.23,47.32 19.90,48.00 C19.57,48.68 18.15,49.27 16.50,49.60 C14.85,49.93 11.08,49.93 10.00,50.00" fill="none" stroke="#111" stroke-width="1.0"/>
<path d="M-22.00,45.60 C-23.08,45.08 -26.87,43.68 -28.50,42.50 C-30.13,41.32 -31.38,40.00 -31.80,38.50 C-32.22,37.00 -31.13,34.33 -31.00,33.50 L-13.3,16" fill="none" stroke="#111" stroke-width="1.0"/>
<line x1="-13.3" y1="16" x2="-26.6" y2="33.9" stroke="#111" stroke-width="1.7"/>
<path d="M-27.20,-2.60 L-20.89,1.53 L-24.07,1.87 L-25.48,4.74Z" fill="#231f20"/>
<path d="M0.80,3.60 L4.48,-2.98 L5.04,0.16 L8.00,1.37Z" fill="#231f20"/>
<path d="M8.80,37.20 L1.77,34.47 L4.81,33.48 L5.59,30.38Z" fill="#231f20"/>
<path d="M-27.60,30.40 L-30.57,37.33 L-31.46,34.26 L-34.53,33.37Z" fill="#231f20"/>
<line x1="-13.3" y1="-12" x2="-13.3" y2="16" stroke="#555" stroke-width="0.8" stroke-dasharray="1,0.8"/>
<path d="M-13.3,8 A8,8 0 0 1 -7.2,10.8" fill="none" stroke="#555" stroke-width="0.7"/>
<text x="-10.9" y="5.6" font-size="13.6" font-style="italic" fill="#1a1a1a">θ</text>
</g>
<line x1="0.3" y1="-69.5" x2="0.3" y2="-50" stroke="#111" stroke-width="1.8"/>
<line x1="50.5" y1="4.2" x2="71" y2="6" stroke="#111" stroke-width="2"/>
</g>
<text x="484.2" y="137.2" font-size="13.8" fill="#231f20" font-style="italic">L<tspan font-size="9" dy="3">x</tspan><tspan font-style="normal" dy="-3">/2</tspan></text>
<text x="532" y="215.3" font-size="13.8" fill="#231f20">Q<tspan font-size="9.5" font-style="italic" dy="3.2">yz</tspan><tspan dy="-3.2">/2</tspan></text>
<text x="429.4" y="244.3" font-size="13.8" fill="#231f20">Q<tspan font-size="10" dy="3.2">0</tspan></text>
<clipPath id="clipC"><rect x="73.5" y="302.4" width="266.8" height="206.10000000000002"/></clipPath>
<clipPath id="clipD"><rect x="420.4" y="302.2" width="105.4" height="206.4"/></clipPath>
<clipPath id="clipE"><rect x="605.3" y="302.4" width="267" height="206.1"/></clipPath>
<clipPath id="clipF"><rect x="952.3" y="301.8" width="105" height="206.9"/></clipPath>
<rect x="80.2" y="312.2" width="36.20" height="9.2" fill="#fdeee4"/>
<rect x="116.4" y="312.2" width="37.50" height="9.2" fill="#f9d3b9"/>
<rect x="153.9" y="312.2" width="36.70" height="9.2" fill="#f7c6a6"/>
<rect x="190.6" y="312.2" width="36.90" height="9.2" fill="#f0b090"/>
<rect x="80.2" y="312.2" width="147.3" height="9.2" fill="none" stroke="#4a4a4a" stroke-width="1"/>
<line x1="98.5" y1="321.4" x2="98.5" y2="318.6" stroke="#4a4a4a" stroke-width="0.9"/>
<text x="98.50" y="335.60" font-size="12" text-anchor="middle">0</text>
<line x1="135.2" y1="321.4" x2="135.2" y2="318.6" stroke="#4a4a4a" stroke-width="0.9"/>
<text x="135.20" y="335.60" font-size="12" text-anchor="middle">60</text>
<line x1="172.3" y1="321.4" x2="172.3" y2="318.6" stroke="#4a4a4a" stroke-width="0.9"/>
<text x="172.30" y="335.60" font-size="12" text-anchor="middle">90</text>
<line x1="209.1" y1="321.4" x2="209.1" y2="318.6" stroke="#4a4a4a" stroke-width="0.9"/>
<text x="209.10" y="335.60" font-size="12" text-anchor="middle">120</text>
<text x="238" y="321.4" font-size="12" fill="#231f20"><tspan font-style="italic">t</tspan><tspan font-size="8.5" dy="3">1</tspan><tspan dy="-3"> (ms)</tspan></text>
<line x1="140.20" y1="339.5" x2="140.20" y2="508.5" stroke="#f08a30" stroke-width="1.5" stroke-dasharray="4.2,2.8"/>
<line x1="273.60" y1="302.4" x2="273.60" y2="508.5" stroke="#f08a30" stroke-width="1.5" stroke-dasharray="4.2,2.8"/>
<g clip-path="url(#clipC)">
<path d="M73.50,429.00 L73.67,429.00 L73.83,429.00 L74.00,429.00 L74.17,429.00 L74.33,429.00 L74.50,429.00 L74.67,429.00 L74.83,429.00 L75.00,429.00 L75.17,429.00 L75.33,429.00 L75.50,429.00 L75.67,429.00 L75.83,429.00 L76.00,429.00 L76.17,429.00 L76.33,429.00 L76.50,429.00 L76.67,429.00 L76.83,429.00 L77.00,429.00 L77.17,429.00 L77.34,429.00 L77.50,429.00 L77.67,429.00 L77.84,429.00 L78.00,429.00 L78.17,429.00 L78.34,429.00 L78.50,429.00 L78.67,429.00 L78.84,429.00 L79.00,429.00 L79.17,429.00 L79.34,429.00 L79.50,429.00 L79.67,429.00 L79.84,429.00 L80.00,429.00 L80.17,429.00 L80.34,429.00 L80.50,429.00 L80.67,429.00 L80.84,429.00 L81.00,429.00 L81.17,429.00 L81.34,429.00 L81.50,429.00 L81.67,429.00 L81.84,429.00 L82.00,429.00 L82.17,429.00 L82.34,429.00 L82.50,429.00 L82.67,429.00 L82.84,429.00 L83.00,429.00 L83.17,429.00 L83.34,429.00 L83.50,429.00 L83.67,429.00 L83.84,429.00 L84.01,429.00 L84.17,429.00 L84.34,429.00 L84.51,429.00 L84.67,429.00 L84.84,429.00 L85.01,429.00 L85.17,429.00 L85.34,429.00 L85.51,429.00 L85.67,429.00 L85.84,429.00 L86.01,429.00 L86.17,429.00 L86.34,429.00 L86.51,429.00 L86.67,429.00 L86.84,429.00 L87.01,429.00 L87.17,429.00 L87.34,429.00 L87.51,429.00 L87.67,429.00 L87.84,429.00 L88.01,429.00 L88.17,429.00 L88.34,429.00 L88.51,429.00 L88.67,429.00 L88.84,429.00 L89.01,429.00 L89.17,429.00 L89.34,429.00 L89.51,429.00 L89.67,429.00 L89.84,429.00 L90.01,429.00 L90.17,429.00 L90.34,429.00 L90.51,429.00 L90.68,429.00 L90.84,429.00 L91.01,429.00 L91.18,429.00 L91.34,429.00 L91.51,429.00 L91.68,429.00 L91.84,429.00 L92.01,429.00 L92.18,429.00 L92.34,429.00 L92.51,429.00 L92.68,429.00 L92.84,429.00 L93.01,429.00 L93.18,429.00 L93.34,429.00 L93.51,429.00 L93.68,429.00 L93.84,429.00 L94.01,429.00 L94.18,429.00 L94.34,429.00 L94.51,429.00 L94.68,429.00 L94.84,429.00 L95.01,429.00 L95.18,429.00 L95.34,429.00 L95.51,429.00 L95.68,429.00 L95.84,429.00 L96.01,429.00 L96.18,429.00 L96.34,429.00 L96.51,429.00 L96.68,429.00 L96.84,429.00 L97.01,429.00 L97.18,429.00 L97.35,429.00 L97.51,429.00 L97.68,429.00 L97.85,429.00 L98.01,429.00 L98.18,429.00 L98.35,429.00 L98.51,429.00 L98.68,429.00 L98.85,429.00 L99.01,429.00 L99.18,429.00 L99.35,429.00 L99.51,429.00 L99.68,429.00 L99.85,429.00 L100.01,429.00 L100.18,429.00 L100.35,429.00 L100.51,429.00 L100.68,429.00 L100.85,429.00 L101.01,429.00 L101.18,429.00 L101.35,429.00 L101.51,429.00 L101.68,429.00 L101.85,429.00 L102.01,429.00 L102.18,429.00 L102.35,429.00 L102.51,429.00 L102.68,429.00 L102.85,429.00 L103.01,429.00 L103.18,429.00 L103.35,429.00 L103.52,429.00 L103.68,429.00 L103.85,429.00 L104.02,429.00 L104.18,429.00 L104.35,429.00 L104.52,429.00 L104.68,429.00 L104.85,429.00 L105.02,429.00 L105.18,429.00 L105.35,429.00 L105.52,429.00 L105.68,429.00 L105.85,429.00 L106.02,429.00 L106.18,429.00 L106.35,429.00 L106.52,429.00 L106.68,429.00 L106.85,429.00 L107.02,429.00 L107.18,429.00 L107.35,429.00 L107.52,429.00 L107.68,429.00 L107.85,429.00 L108.02,429.00 L108.18,429.00 L108.35,429.00 L108.52,429.00 L108.68,429.00 L108.85,429.00 L109.02,429.00 L109.18,429.00 L109.35,429.00 L109.52,429.00 L109.68,429.00 L109.85,429.00 L110.02,429.00 L110.19,429.00 L110.35,429.00 L110.52,429.00 L110.69,429.00 L110.85,429.00 L111.02,429.00 L111.19,429.00 L111.35,429.00 L111.52,429.00 L111.69,429.00 L111.85,429.00 L112.02,429.00 L112.19,429.00 L112.35,429.00 L112.52,429.00 L112.69,429.00 L112.85,429.00 L113.02,429.00 L113.19,429.00 L113.35,429.00 L113.52,429.00 L113.69,429.00 L113.85,429.00 L114.02,429.00 L114.19,429.00 L114.35,429.00 L114.52,429.00 L114.69,429.00 L114.85,429.00 L115.02,429.00 L115.19,429.00 L115.35,429.00 L115.52,429.00 L115.69,429.00 L115.85,429.00 L116.02,429.00 L116.19,429.00 L116.35,429.00 L116.52,429.00 L116.69,429.00 L116.86,429.00 L117.02,429.00 L117.19,429.00 L117.36,429.00 L117.52,429.00 L117.69,429.00 L117.86,429.00 L118.02,429.00 L118.19,429.00 L118.36,429.00 L118.52,429.00 L118.69,429.00 L118.86,429.00 L119.02,429.00 L119.19,429.00 L119.36,429.00 L119.52,429.00 L119.69,429.00 L119.86,429.00 L120.02,429.00 L120.19,429.00 L120.36,429.00 L120.52,429.00 L120.69,429.00 L120.86,429.00 L121.02,429.00 L121.19,429.00 L121.36,429.00 L121.52,429.00 L121.69,429.00 L121.86,429.00 L122.02,429.00 L122.19,429.00 L122.36,429.00 L122.52,429.00 L122.69,429.00 L122.86,429.00 L123.02,429.00 L123.19,429.00 L123.36,429.00 L123.53,429.00 L123.69,429.00 L123.86,429.00 L124.03,429.00 L124.19,429.00 L124.36,429.00 L124.53,429.00 L124.69,429.00 L124.86,429.00 L125.03,429.00 L125.19,429.00 L125.36,429.00 L125.53,429.00 L125.69,429.00 L125.86,429.00 L126.03,429.00 L126.19,429.00 L126.36,429.00 L126.53,429.00 L126.69,429.00 L126.86,429.00 L127.03,429.00 L127.19,429.00 L127.36,429.00 L127.53,429.00 L127.69,429.00 L127.86,429.00 L128.03,429.00 L128.19,429.00 L128.36,429.00 L128.53,429.00 L128.69,429.00 L128.86,429.00 L129.03,429.00 L129.19,429.00 L129.36,429.00 L129.53,429.00 L129.69,429.00 L129.86,429.00 L130.03,429.00 L130.19,429.00 L130.36,429.00 L130.53,429.00 L130.70,429.00 L130.86,429.00 L131.03,429.00 L131.20,429.00 L131.36,429.00 L131.53,429.00 L131.70,429.00 L131.86,429.00 L132.03,429.00 L132.20,429.00 L132.36,429.00 L132.53,429.00 L132.70,429.00 L132.86,429.00 L133.03,429.00 L133.20,429.00 L133.36,429.00 L133.53,429.00 L133.70,429.00 L133.86,429.00 L134.03,429.00 L134.20,429.00 L134.36,429.00 L134.53,429.00 L134.70,429.00 L134.86,429.00 L135.03,429.00 L135.20,429.00 L135.36,429.00 L135.53,429.00 L135.70,429.00 L135.86,429.00 L136.03,429.00 L136.20,429.00 L136.36,429.00 L136.53,429.00 L136.70,429.00 L136.87,429.00 L137.03,429.00 L137.20,429.00 L137.37,429.00 L137.53,429.00 L137.70,429.00 L137.87,429.00 L138.03,429.00 L138.20,429.00 L138.37,429.00 L138.53,429.00 L138.70,429.00 L138.87,429.00 L139.03,429.00 L139.20,429.00 L139.37,429.00 L139.53,429.00 L139.70,429.00 L139.87,429.00 L140.03,429.00 L140.20,429.00 L140.37,429.00 L140.53,429.00 L140.70,429.00 L140.87,429.00 L141.03,429.00 L141.20,429.00 L141.37,429.00 L141.53,429.00 L141.70,429.00 L141.87,429.00 L142.03,429.00 L142.20,429.00 L142.37,429.00 L142.53,429.00 L142.70,429.00 L142.87,429.00 L143.03,429.00 L143.20,429.00 L143.37,429.00 L143.54,429.00 L143.70,429.00 L143.87,429.00 L144.04,429.00 L144.20,429.00 L144.37,429.00 L144.54,429.00 L144.70,429.00 L144.87,429.00 L145.04,429.00 L145.20,429.00 L145.37,429.00 L145.54,429.00 L145.70,429.00 L145.87,429.00 L146.04,429.00 L146.20,429.00 L146.37,429.00 L146.54,429.00 L146.70,429.00 L146.87,429.00 L147.04,429.00 L147.20,429.00 L147.37,429.00 L147.54,429.00 L147.70,429.00 L147.87,429.00 L148.04,429.00 L148.20,429.00 L148.37,429.00 L148.54,429.00 L148.70,429.00 L148.87,429.00 L149.04,429.00 L149.20,429.00 L149.37,429.00 L149.54,429.00 L149.70,429.00 L149.87,429.00 L150.04,429.00 L150.21,429.00 L150.37,429.00 L150.54,429.00 L150.71,429.00 L150.87,429.00 L151.04,429.00 L151.21,429.00 L151.37,429.00 L151.54,429.00 L151.71,429.00 L151.87,429.00 L152.04,429.00 L152.21,429.00 L152.37,429.00 L152.54,429.00 L152.71,429.00 L152.87,429.00 L153.04,429.00 L153.21,429.00 L153.37,429.00 L153.54,429.00 L153.71,429.00 L153.87,429.00 L154.04,429.00 L154.21,429.00 L154.37,429.00 L154.54,429.00 L154.71,429.00 L154.87,429.00 L155.04,429.00 L155.21,429.00 L155.37,429.00 L155.54,429.00 L155.71,429.00 L155.87,429.00 L156.04,429.00 L156.21,429.00 L156.37,429.00 L156.54,429.00 L156.71,429.00 L156.88,429.00 L157.04,429.00 L157.21,429.00 L157.38,429.00 L157.54,429.00 L157.71,429.00 L157.88,429.00 L158.04,429.00 L158.21,429.00 L158.38,429.00 L158.54,429.00 L158.71,429.00 L158.88,429.00 L159.04,429.00 L159.21,429.00 L159.38,429.00 L159.54,429.00 L159.71,429.00 L159.88,429.00 L160.04,429.00 L160.21,429.00 L160.38,429.00 L160.54,429.00 L160.71,429.00 L160.88,429.00 L161.04,429.00 L161.21,429.00 L161.38,429.00 L161.54,429.00 L161.71,429.00 L161.88,429.00 L162.04,429.00 L162.21,429.00 L162.38,429.00 L162.54,429.00 L162.71,429.00 L162.88,429.00 L163.04,429.00 L163.21,429.00 L163.38,429.00 L163.55,429.00 L163.71,429.00 L163.88,429.00 L164.05,429.00 L164.21,429.00 L164.38,429.00 L164.55,429.00 L164.71,429.00 L164.88,429.00 L165.05,429.00 L165.21,429.00 L165.38,429.00 L165.55,429.00 L165.71,429.00 L165.88,429.00 L166.05,429.00 L166.21,429.00 L166.38,429.00 L166.55,429.00 L166.71,429.00 L166.88,429.00 L167.05,429.00 L167.21,429.00 L167.38,429.00 L167.55,429.00 L167.71,429.00 L167.88,429.00 L168.05,429.00 L168.21,429.00 L168.38,429.00 L168.55,429.00 L168.71,429.00 L168.88,429.00 L169.05,429.00 L169.21,429.00 L169.38,429.00 L169.55,429.00 L169.71,429.00 L169.88,429.00 L170.05,429.00 L170.22,429.00 L170.38,429.00 L170.55,429.00 L170.72,429.00 L170.88,429.00 L171.05,429.00 L171.22,429.00 L171.38,429.00 L171.55,429.00 L171.72,429.00 L171.88,429.00 L172.05,429.00 L172.22,429.00 L172.38,429.00 L172.55,429.00 L172.72,429.00 L172.88,429.00 L173.05,429.00 L173.22,429.00 L173.38,429.00 L173.55,429.00 L173.72,429.00 L173.88,429.00 L174.05,429.00 L174.22,429.00 L174.38,429.00 L174.55,429.00 L174.72,429.00 L174.88,429.00 L175.05,429.00 L175.22,429.00 L175.38,429.00 L175.55,429.00 L175.72,429.00 L175.88,429.00 L176.05,429.00 L176.22,429.00 L176.38,429.00 L176.55,429.00 L176.72,429.00 L176.88,429.00 L177.05,429.00 L177.22,429.00 L177.39,429.00 L177.55,429.00 L177.72,429.00 L177.89,429.00 L178.05,429.00 L178.22,429.00 L178.39,429.00 L178.55,429.00 L178.72,429.00 L178.89,429.00 L179.05,429.00 L179.22,429.00 L179.39,429.00 L179.55,429.00 L179.72,429.00 L179.89,429.00 L180.05,429.00 L180.22,429.00 L180.39,429.00 L180.55,429.00 L180.72,429.00 L180.89,429.00 L181.05,429.00 L181.22,429.00 L181.39,429.00 L181.55,429.00 L181.72,429.00 L181.89,429.00 L182.05,429.00 L182.22,429.00 L182.39,429.00 L182.55,429.00 L182.72,429.00 L182.89,429.00 L183.05,429.00 L183.22,429.00 L183.39,429.00 L183.55,429.00 L183.72,429.00 L183.89,429.00 L184.06,429.00 L184.22,429.00 L184.39,429.00 L184.56,429.00 L184.72,429.00 L184.89,429.00 L185.06,429.00 L185.22,429.00 L185.39,429.00 L185.56,429.00 L185.72,429.00 L185.89,429.00 L186.06,429.00 L186.22,429.00 L186.39,429.00 L186.56,429.00 L186.72,429.00 L186.89,429.00 L187.06,429.00 L187.22,429.00 L187.39,429.00 L187.56,429.00 L187.72,429.00 L187.89,429.00 L188.06,429.00 L188.22,429.00 L188.39,429.00 L188.56,429.00 L188.72,429.00 L188.89,429.00 L189.06,429.00 L189.22,429.00 L189.39,429.00 L189.56,429.00 L189.72,429.00 L189.89,429.00 L190.06,429.00 L190.22,429.00 L190.39,429.00 L190.56,429.00 L190.73,429.00 L190.89,429.00 L191.06,429.00 L191.23,429.00 L191.39,429.00 L191.56,429.00 L191.73,429.00 L191.89,429.00 L192.06,429.00 L192.23,429.00 L192.39,429.00 L192.56,429.00 L192.73,429.00 L192.89,429.00 L193.06,429.00 L193.23,429.00 L193.39,429.00 L193.56,429.00 L193.73,429.00 L193.89,429.00 L194.06,429.00 L194.23,429.00 L194.39,429.00 L194.56,429.00 L194.73,429.00 L194.89,429.00 L195.06,429.00 L195.23,429.00 L195.39,429.00 L195.56,429.00 L195.73,429.00 L195.89,429.00 L196.06,429.00 L196.23,429.00 L196.39,429.00 L196.56,429.00 L196.73,429.00 L196.90,429.00 L197.06,429.00 L197.23,429.00 L197.40,429.00 L197.56,429.00 L197.73,429.00 L197.90,429.00 L198.06,429.00 L198.23,429.00 L198.40,429.00 L198.56,429.00 L198.73,429.00 L198.90,429.00 L199.06,429.00 L199.23,429.00 L199.40,429.00 L199.56,429.00 L199.73,429.00 L199.90,429.00 L200.06,429.00 L200.23,429.00 L200.40,429.00 L200.56,429.00 L200.73,429.00 L200.90,429.00 L201.06,429.00 L201.23,429.00 L201.40,429.00 L201.56,429.00 L201.73,429.00 L201.90,429.00 L202.06,429.00 L202.23,429.00 L202.40,429.00 L202.56,429.00 L202.73,429.00 L202.90,429.00 L203.06,429.00 L203.23,429.00 L203.40,429.00 L203.56,429.00 L203.73,429.00 L203.90,429.00 L204.07,429.00 L204.23,429.00 L204.40,429.00 L204.57,429.00 L204.73,429.00 L204.90,429.00 L205.07,429.00 L205.23,429.00 L205.40,429.00 L205.57,429.00 L205.73,429.00 L205.90,429.00 L206.07,429.00 L206.23,429.00 L206.40,429.00 L206.57,429.00 L206.73,429.00 L206.90,429.00 L207.07,429.00 L207.23,429.00 L207.40,429.00 L207.57,429.00 L207.73,429.00 L207.90,429.00 L208.07,429.00 L208.23,429.00 L208.40,429.00 L208.57,429.00 L208.73,429.00 L208.90,429.00 L209.07,429.00 L209.23,429.00 L209.40,429.00 L209.57,429.00 L209.73,429.00 L209.90,429.00 L210.07,429.00 L210.23,429.00 L210.40,429.00 L210.57,429.00 L210.74,429.00 L210.90,429.00 L211.07,429.00 L211.24,429.00 L211.40,429.00 L211.57,429.00 L211.74,429.00 L211.90,429.00 L212.07,429.00 L212.24,429.00 L212.40,429.00 L212.57,429.00 L212.74,429.00 L212.90,429.00 L213.07,429.00 L213.24,429.00 L213.40,429.00 L213.57,429.00 L213.74,429.00 L213.90,429.00 L214.07,429.00 L214.24,429.00 L214.40,429.00 L214.57,429.00 L214.74,429.00 L214.90,429.00 L215.07,429.00 L215.24,429.00 L215.40,429.00 L215.57,429.00 L215.74,429.00 L215.90,429.00 L216.07,429.00 L216.24,429.00 L216.40,429.00 L216.57,429.00 L216.74,429.00 L216.91,429.00 L217.07,429.00 L217.24,429.00 L217.41,429.00 L217.57,429.00 L217.74,429.00 L217.91,429.00 L218.07,429.00 L218.24,429.00 L218.41,429.00 L218.57,429.00 L218.74,429.00 L218.91,429.00 L219.07,429.00 L219.24,429.00 L219.41,429.00 L219.57,429.00 L219.74,429.00 L219.91,429.00 L220.07,429.00 L220.24,429.00 L220.41,429.00 L220.57,429.00 L220.74,429.00 L220.91,429.00 L221.07,429.00 L221.24,429.00 L221.41,429.00 L221.57,429.00 L221.74,429.00 L221.91,429.00 L222.07,429.00 L222.24,429.00 L222.41,429.00 L222.57,429.00 L222.74,429.00 L222.91,429.00 L223.07,429.00 L223.24,429.00 L223.41,429.00 L223.58,429.00 L223.74,429.00 L223.91,429.00 L224.08,429.00 L224.24,429.00 L224.41,429.00 L224.58,429.00 L224.74,429.00 L224.91,429.00 L225.08,429.00 L225.24,429.00 L225.41,429.00 L225.58,429.00 L225.74,429.00 L225.91,429.00 L226.08,429.00 L226.24,429.00 L226.41,429.00 L226.58,429.00 L226.74,429.00 L226.91,429.00 L227.08,429.00 L227.24,429.00 L227.41,429.00 L227.58,429.00 L227.74,429.00 L227.91,429.00 L228.08,429.00 L228.24,429.00 L228.41,429.00 L228.58,429.00 L228.74,429.00 L228.91,429.00 L229.08,429.00 L229.24,429.00 L229.41,429.00 L229.58,429.00 L229.74,429.00 L229.91,429.00 L230.08,429.00 L230.25,429.00 L230.41,429.00 L230.58,429.00 L230.75,429.00 L230.91,429.00 L231.08,429.00 L231.25,429.00 L231.41,429.00 L231.58,429.00 L231.75,429.00 L231.91,429.00 L232.08,429.00 L232.25,429.00 L232.41,429.00 L232.58,429.00 L232.75,429.00 L232.91,429.00 L233.08,429.00 L233.25,429.00 L233.41,429.00 L233.58,429.00 L233.75,429.00 L233.91,429.00 L234.08,429.00 L234.25,429.00 L234.41,429.00 L234.58,429.00 L234.75,429.00 L234.91,429.00 L235.08,429.00 L235.25,429.00 L235.41,429.00 L235.58,429.00 L235.75,429.00 L235.91,429.00 L236.08,429.00 L236.25,429.00 L236.41,429.00 L236.58,429.00 L236.75,429.00 L236.92,429.00 L237.08,429.00 L237.25,429.00 L237.42,429.00 L237.58,429.00 L237.75,429.00 L237.92,429.00 L238.08,429.00 L238.25,429.00 L238.42,429.00 L238.58,429.00 L238.75,429.00 L238.92,429.00 L239.08,429.00 L239.25,429.00 L239.42,429.00 L239.58,429.00 L239.75,429.00 L239.92,429.00 L240.08,429.00 L240.25,429.00 L240.42,429.00 L240.58,429.00 L240.75,429.00 L240.92,429.00 L241.08,429.00 L241.25,429.00 L241.42,429.00 L241.58,429.00 L241.75,429.00 L241.92,429.00 L242.08,429.00 L242.25,429.00 L242.42,429.00 L242.58,429.00 L242.75,429.00 L242.92,429.00 L243.08,429.00 L243.25,429.00 L243.42,429.00 L243.59,429.00 L243.75,429.00 L243.92,429.00 L244.09,429.00 L244.25,429.00 L244.42,429.00 L244.59,429.00 L244.75,429.00 L244.92,429.00 L245.09,429.00 L245.25,429.00 L245.42,429.00 L245.59,429.00 L245.75,429.00 L245.92,429.00 L246.09,429.00 L246.25,429.00 L246.42,429.00 L246.59,429.00 L246.75,429.00 L246.92,429.00 L247.09,429.00 L247.25,429.00 L247.42,429.00 L247.59,429.00 L247.75,429.00 L247.92,429.00 L248.09,429.00 L248.25,429.00 L248.42,429.00 L248.59,429.00 L248.75,429.00 L248.92,429.00 L249.09,429.00 L249.25,429.00 L249.42,429.00 L249.59,429.00 L249.75,429.00 L249.92,429.00 L250.09,429.00 L250.26,429.00 L250.42,429.00 L250.59,429.00 L250.76,429.00 L250.92,429.00 L251.09,429.00 L251.26,429.00 L251.42,429.00 L251.59,429.00 L251.76,429.00 L251.92,429.00 L252.09,429.00 L252.26,429.00 L252.42,429.00 L252.59,429.00 L252.76,429.00 L252.92,429.00 L253.09,429.00 L253.26,429.00 L253.42,429.00 L253.59,429.00 L253.76,429.00 L253.92,429.00 L254.09,429.00 L254.26,429.00 L254.42,429.00 L254.59,429.00 L254.76,429.00 L254.92,429.00 L255.09,429.00 L255.26,429.00 L255.42,429.00 L255.59,429.00 L255.76,429.00 L255.92,429.00 L256.09,429.00 L256.26,429.00 L256.42,429.00 L256.59,429.00 L256.76,429.00 L256.93,429.00 L257.09,429.00 L257.26,429.00 L257.43,429.00 L257.59,429.00 L257.76,429.00 L257.93,429.00 L258.09,429.00 L258.26,429.00 L258.43,429.00 L258.59,429.00 L258.76,429.00 L258.93,429.00 L259.09,429.00 L259.26,429.00 L259.43,429.00 L259.59,429.00 L259.76,429.00 L259.93,429.00 L260.09,429.00 L260.26,429.00 L260.43,429.00 L260.59,429.00 L260.76,429.00 L260.93,429.00 L261.09,429.00 L261.26,429.00 L261.43,429.00 L261.59,429.00 L261.76,429.00 L261.93,429.00 L262.09,429.00 L262.26,429.00 L262.43,429.00 L262.59,429.00 L262.76,429.00 L262.93,429.00 L263.09,429.00 L263.26,429.00 L263.43,429.00 L263.60,429.00 L263.76,429.00 L263.93,429.00 L264.10,429.00 L264.26,429.00 L264.43,429.00 L264.60,429.00 L264.76,429.00 L264.93,429.00 L265.10,429.00 L265.26,429.00 L265.43,429.00 L265.60,429.00 L265.76,429.00 L265.93,429.00 L266.10,429.00 L266.26,429.00 L266.43,429.00 L266.60,429.00 L266.76,429.00 L266.93,429.00 L267.10,429.00 L267.26,429.00 L267.43,429.00 L267.60,429.00 L267.76,429.00 L267.93,429.00 L268.10,429.00 L268.26,429.00 L268.43,429.00 L268.60,429.00 L268.76,429.00 L268.93,429.00 L269.10,429.00 L269.26,429.00 L269.43,429.00 L269.60,429.00 L269.76,429.00 L269.93,429.00 L270.10,429.00 L270.26,429.00 L270.43,429.00 L270.60,429.00 L270.77,429.00 L270.93,429.00 L271.10,429.00 L271.27,429.00 L271.43,429.00 L271.60,429.00 L271.77,429.00 L271.93,429.00 L272.10,429.00 L272.27,429.00 L272.43,429.00 L272.60,429.00 L272.77,429.00 L272.93,429.00 L273.10,429.00 L273.27,429.00 L273.43,429.00 L273.60,429.00 L273.77,429.00 L273.93,429.00 L274.10,429.00 L274.27,429.00 L274.43,429.00 L274.60,429.00 L274.77,429.00 L274.93,429.00 L275.10,429.00 L275.27,429.00 L275.43,429.00 L275.60,429.00 L275.77,429.00 L275.93,429.00 L276.10,429.00 L276.27,429.00 L276.43,429.00 L276.60,429.00 L276.77,429.00 L276.94,429.00 L277.10,429.00 L277.27,429.00 L277.44,429.00 L277.60,429.00 L277.77,429.00 L277.94,429.00 L278.10,429.00 L278.27,429.00 L278.44,429.00 L278.60,429.00 L278.77,429.00 L278.94,429.00 L279.10,429.00 L279.27,429.00 L279.44,429.00 L279.60,429.00 L279.77,429.00 L279.94,429.00 L280.10,429.00 L280.27,429.00 L280.44,429.00 L280.60,429.00 L280.77,429.00 L280.94,429.00 L281.10,429.00 L281.27,429.00 L281.44,429.00 L281.60,429.00 L281.77,429.00 L281.94,429.00 L282.10,429.00 L282.27,429.00 L282.44,429.00 L282.60,429.00 L282.77,429.00 L282.94,429.00 L283.10,429.00 L283.27,429.00 L283.44,429.00 L283.61,429.00 L283.77,429.00 L283.94,429.00 L284.11,429.00 L284.27,429.00 L284.44,429.00 L284.61,429.00 L284.77,429.00 L284.94,429.00 L285.11,429.00 L285.27,429.00 L285.44,429.00 L285.61,429.00 L285.77,429.00 L285.94,429.00 L286.11,429.00 L286.27,429.00 L286.44,429.00 L286.61,429.00 L286.77,429.00 L286.94,429.00 L287.11,429.00 L287.27,429.00 L287.44,429.00 L287.61,429.00 L287.77,429.00 L287.94,429.00 L288.11,429.00 L288.27,429.00 L288.44,429.00 L288.61,429.00 L288.77,429.00 L288.94,429.00 L289.11,429.00 L289.27,429.00 L289.44,429.00 L289.61,429.00 L289.77,429.00 L289.94,429.00 L290.11,429.00 L290.27,429.00 L290.44,429.00 L290.61,429.00 L290.78,429.00 L290.94,429.00 L291.11,429.00 L291.28,429.00 L291.44,429.00 L291.61,429.00 L291.78,429.00 L291.94,429.00 L292.11,429.00 L292.28,429.00 L292.44,429.00 L292.61,429.00 L292.78,429.00 L292.94,429.00 L293.11,429.00 L293.28,429.00 L293.44,429.00 L293.61,429.00 L293.78,429.00 L293.94,429.00 L294.11,429.00 L294.28,429.00 L294.44,429.00 L294.61,429.00 L294.78,429.00 L294.94,429.00 L295.11,429.00 L295.28,429.00 L295.44,429.00 L295.61,429.00 L295.78,429.00 L295.94,429.00 L296.11,429.00 L296.28,429.00 L296.44,429.00 L296.61,429.00 L296.78,429.00 L296.94,429.00 L297.11,429.00 L297.28,429.00 L297.45,429.00 L297.61,429.00 L297.78,429.00 L297.95,429.00 L298.11,429.00 L298.28,429.00 L298.45,429.00 L298.61,429.00 L298.78,429.00 L298.95,429.00 L299.11,429.00 L299.28,429.00 L299.45,429.00 L299.61,429.00 L299.78,429.00 L299.95,429.00 L300.11,429.00 L300.28,429.00 L300.45,429.00 L300.61,429.00 L300.78,429.00 L300.95,429.00 L301.11,429.00 L301.28,429.00 L301.45,429.00 L301.61,429.00 L301.78,429.00 L301.95,429.00 L302.11,429.00 L302.28,429.00 L302.45,429.00 L302.61,429.00 L302.78,429.00 L302.95,429.00 L303.11,429.00 L303.28,429.00 L303.45,429.00 L303.62,429.00 L303.78,429.00 L303.95,429.00 L304.12,429.00 L304.28,429.00 L304.45,429.00 L304.62,429.00 L304.78,429.00 L304.95,429.00 L305.12,429.00 L305.28,429.00 L305.45,429.00 L305.62,429.00 L305.78,429.00 L305.95,429.00 L306.12,429.00 L306.28,429.00 L306.45,429.00 L306.62,429.00 L306.78,429.00 L306.95,429.00 L307.12,429.00 L307.28,429.00 L307.45,429.00 L307.62,429.00 L307.78,429.00 L307.95,429.00 L308.12,429.00 L308.28,429.00 L308.45,429.00 L308.62,429.00 L308.78,429.00 L308.95,429.00 L309.12,429.00 L309.28,429.00 L309.45,429.00 L309.62,429.00 L309.78,429.00 L309.95,429.00 L310.12,429.00 L310.28,429.00 L310.45,429.00 L310.62,429.00 L310.79,429.00 L310.95,429.00 L311.12,429.00 L311.29,429.00 L311.45,429.00 L311.62,429.00 L311.79,429.00 L311.95,429.00 L312.12,429.00 L312.29,429.00 L312.45,429.00 L312.62,429.00 L312.79,429.00 L312.95,429.00 L313.12,429.00 L313.29,429.00 L313.45,429.00 L313.62,429.00 L313.79,429.00 L313.95,429.00 L314.12,429.00 L314.29,429.00 L314.45,429.00 L314.62,429.00 L314.79,429.00 L314.95,429.00 L315.12,429.00 L315.29,429.00 L315.45,429.00 L315.62,429.00 L315.79,429.00 L315.95,429.00 L316.12,429.00 L316.29,429.00 L316.45,429.00 L316.62,429.00 L316.79,429.00 L316.96,429.00 L317.12,429.00 L317.29,429.00 L317.46,429.00 L317.62,429.00 L317.79,429.00 L317.96,429.00 L318.12,429.00 L318.29,429.00 L318.46,429.00 L318.62,429.00 L318.79,429.00 L318.96,429.00 L319.12,429.00 L319.29,429.00 L319.46,429.00 L319.62,429.00 L319.79,429.00 L319.96,429.00 L320.12,429.00 L320.29,429.00 L320.46,429.00 L320.62,429.00 L320.79,429.00 L320.96,429.00 L321.12,429.00 L321.29,429.00 L321.46,429.00 L321.62,429.00 L321.79,429.00 L321.96,429.00 L322.12,429.00 L322.29,429.00 L322.46,429.00 L322.62,429.00 L322.79,429.00 L322.96,429.00 L323.12,429.00 L323.29,429.00 L323.46,429.00 L323.62,429.00 L323.79,429.00 L323.96,429.00 L324.13,429.00 L324.29,429.00 L324.46,429.00 L324.63,429.00 L324.79,429.00 L324.96,429.00 L325.13,429.00 L325.29,429.00 L325.46,429.00 L325.63,429.00 L325.79,429.00 L325.96,429.00 L326.13,429.00 L326.29,429.00 L326.46,429.00 L326.63,429.00 L326.79,429.00 L326.96,429.00 L327.13,429.00 L327.29,429.00 L327.46,429.00 L327.63,429.00 L327.79,429.00 L327.96,429.00 L328.13,429.00 L328.29,429.00 L328.46,429.00 L328.63,429.00 L328.79,429.00 L328.96,429.00 L329.13,429.00 L329.29,429.00 L329.46,429.00 L329.63,429.00 L329.79,429.00 L329.96,429.00 L330.13,429.00 L330.30,429.00 L330.46,429.00 L330.63,429.00 L330.80,429.00 L330.96,429.00 L331.13,429.00 L331.30,429.00 L331.46,429.00 L331.63,429.00 L331.80,429.00 L331.96,429.00 L332.13,429.00 L332.30,429.00 L332.46,429.00 L332.63,429.00 L332.80,429.00 L332.96,429.00 L333.13,429.00 L333.30,429.00 L333.46,429.00 L333.63,429.00 L333.80,429.00 L333.96,429.00 L334.13,429.00 L334.30,429.00 L334.46,429.00 L334.63,429.00 L334.80,429.00 L334.96,429.00 L335.13,429.00 L335.30,429.00 L335.46,429.00 L335.63,429.00 L335.80,429.00 L335.96,429.00 L336.13,429.00 L336.30,429.00 L336.46,429.00 L336.63,429.00 L336.80,429.00 L336.96,429.00 L337.13,429.00 L337.30,429.00 L337.47,429.00 L337.63,429.00 L337.80,429.00 L337.97,429.00 L338.13,429.00 L338.30,429.00 L338.47,429.00 L338.63,429.00 L338.80,429.00 L338.97,429.00 L339.13,429.00 L339.30,429.00 L339.47,429.00 L339.63,429.00 L339.80,429.00 L339.97,429.00 L340.13,429.00 L340.30,429.00" fill="none" stroke="#fcdcc6" stroke-width="1.9" stroke-linejoin="round" stroke-linecap="round" />
<path d="M73.50,393.71 L73.67,393.77 L73.83,393.83 L74.00,393.89 L74.17,393.95 L74.33,394.01 L74.50,394.07 L74.67,394.14 L74.83,394.20 L75.00,394.26 L75.17,394.32 L75.33,394.38 L75.50,394.44 L75.67,394.51 L75.83,394.57 L76.00,394.63 L76.17,394.70 L76.33,394.76 L76.50,394.82 L76.67,394.89 L76.83,394.95 L77.00,395.02 L77.17,395.08 L77.34,395.15 L77.50,395.21 L77.67,395.28 L77.84,395.34 L78.00,395.41 L78.17,395.48 L78.34,395.54 L78.50,395.61 L78.67,395.68 L78.84,395.74 L79.00,395.81 L79.17,395.88 L79.34,395.95 L79.50,396.02 L79.67,396.08 L79.84,396.15 L80.00,396.22 L80.17,396.29 L80.34,396.36 L80.50,396.43 L80.67,396.50 L80.84,396.57 L81.00,396.64 L81.17,396.71 L81.34,396.79 L81.50,396.86 L81.67,396.93 L81.84,397.00 L82.00,397.07 L82.17,397.15 L82.34,397.22 L82.50,397.29 L82.67,397.37 L82.84,397.44 L83.00,397.52 L83.17,397.59 L83.34,397.67 L83.50,397.74 L83.67,397.82 L83.84,397.89 L84.01,397.97 L84.17,398.04 L84.34,398.12 L84.51,398.20 L84.67,398.27 L84.84,398.35 L85.01,398.43 L85.17,398.51 L85.34,398.59 L85.51,398.67 L85.67,398.74 L85.84,398.82 L86.01,398.90 L86.17,398.98 L86.34,399.06 L86.51,399.14 L86.67,399.23 L86.84,399.31 L87.01,399.39 L87.17,399.47 L87.34,399.55 L87.51,399.64 L87.67,399.72 L87.84,399.80 L88.01,399.89 L88.17,399.97 L88.34,400.05 L88.51,400.14 L88.67,400.22 L88.84,400.31 L89.01,400.39 L89.17,400.48 L89.34,400.57 L89.51,400.65 L89.67,400.74 L89.84,400.83 L90.01,400.92 L90.17,401.00 L90.34,401.09 L90.51,401.18 L90.68,401.27 L90.84,401.36 L91.01,401.45 L91.18,401.54 L91.34,401.63 L91.51,401.72 L91.68,401.81 L91.84,401.91 L92.01,402.00 L92.18,402.09 L92.34,402.18 L92.51,402.28 L92.68,402.37 L92.84,402.47 L93.01,402.56 L93.18,402.66 L93.34,402.75 L93.51,402.85 L93.68,402.94 L93.84,403.04 L94.01,403.14 L94.18,403.23 L94.34,403.33 L94.51,403.43 L94.68,403.53 L94.84,403.63 L95.01,403.73 L95.18,403.83 L95.34,403.93 L95.51,404.03 L95.68,404.13 L95.84,404.23 L96.01,404.33 L96.18,404.44 L96.34,404.54 L96.51,404.64 L96.68,404.75 L96.84,404.85 L97.01,404.96 L97.18,405.06 L97.35,405.17 L97.51,405.27 L97.68,405.38 L97.85,405.49 L98.01,405.59 L98.18,405.70 L98.35,405.81 L98.51,405.92 L98.68,406.03 L98.85,406.14 L99.01,406.25 L99.18,406.36 L99.35,406.47 L99.51,406.58 L99.68,406.70 L99.85,406.81 L100.01,406.92 L100.18,407.04 L100.35,407.15 L100.51,407.27 L100.68,407.38 L100.85,407.50 L101.01,407.62 L101.18,407.73 L101.35,407.85 L101.51,407.97 L101.68,408.09 L101.85,408.21 L102.01,408.33 L102.18,408.45 L102.35,408.57 L102.51,408.69 L102.68,408.81 L102.85,408.94 L103.01,409.06 L103.18,409.18 L103.35,409.31 L103.52,409.43 L103.68,409.56 L103.85,409.68 L104.02,409.81 L104.18,409.94 L104.35,410.07 L104.52,410.20 L104.68,410.32 L104.85,410.45 L105.02,410.59 L105.18,410.72 L105.35,410.85 L105.52,410.98 L105.68,411.11 L105.85,411.25 L106.02,411.38 L106.18,411.52 L106.35,411.65 L106.52,411.79 L106.68,411.93 L106.85,412.07 L107.02,412.20 L107.18,412.34 L107.35,412.48 L107.52,412.62 L107.68,412.77 L107.85,412.91 L108.02,413.05 L108.18,413.20 L108.35,413.34 L108.52,413.49 L108.68,413.63 L108.85,413.78 L109.02,413.93 L109.18,414.07 L109.35,414.22 L109.52,414.37 L109.68,414.52 L109.85,414.67 L110.02,414.83 L110.19,414.98 L110.35,415.13 L110.52,415.29 L110.69,415.44 L110.85,415.60 L111.02,415.76 L111.19,415.92 L111.35,416.07 L111.52,416.23 L111.69,416.39 L111.85,416.56 L112.02,416.72 L112.19,416.88 L112.35,417.05 L112.52,417.21 L112.69,417.38 L112.85,417.54 L113.02,417.71 L113.19,417.88 L113.35,418.05 L113.52,418.22 L113.69,418.39 L113.85,418.57 L114.02,418.74 L114.19,418.92 L114.35,419.09 L114.52,419.27 L114.69,419.45 L114.85,419.63 L115.02,419.81 L115.19,419.99 L115.35,420.17 L115.52,420.35 L115.69,420.54 L115.85,420.72 L116.02,420.91 L116.19,421.10 L116.35,421.29 L116.52,421.48 L116.69,421.67 L116.86,421.86 L117.02,422.05 L117.19,422.25 L117.36,422.44 L117.52,422.64 L117.69,422.84 L117.86,423.04 L118.02,423.24 L118.19,423.44 L118.36,423.65 L118.52,423.85 L118.69,424.06 L118.86,424.27 L119.02,424.47 L119.19,424.68 L119.36,424.90 L119.52,425.11 L119.69,425.32 L119.86,425.54 L120.02,425.76 L120.19,425.98 L120.36,426.20 L120.52,426.42 L120.69,426.64 L120.86,426.87 L121.02,427.09 L121.19,427.32 L121.36,427.55 L121.52,427.78 L121.69,428.01 L121.86,428.25 L122.02,428.48 L122.19,428.72 L122.36,428.96 L122.52,429.20 L122.69,429.44 L122.86,429.68 L123.02,429.93 L123.19,430.18 L123.36,430.43 L123.53,430.68 L123.69,430.93 L123.86,431.18 L124.03,431.44 L124.19,431.70 L124.36,431.96 L124.53,432.22 L124.69,432.48 L124.86,432.75 L125.03,433.02 L125.19,433.29 L125.36,433.56 L125.53,433.83 L125.69,434.11 L125.86,434.39 L126.03,434.67 L126.19,434.95 L126.36,435.23 L126.53,435.52 L126.69,435.80 L126.86,436.09 L127.03,436.39 L127.19,436.68 L127.36,436.98 L127.53,437.28 L127.69,437.58 L127.86,437.88 L128.03,438.18 L128.19,438.49 L128.36,438.80 L128.53,439.11 L128.69,439.43 L128.86,439.74 L129.03,440.06 L129.19,440.38 L129.36,440.71 L129.53,441.03 L129.69,441.36 L129.86,441.69 L130.03,442.02 L130.19,442.35 L130.36,442.69 L130.53,443.03 L130.70,443.37 L130.86,443.71 L131.03,444.05 L131.20,444.40 L131.36,444.75 L131.53,445.10 L131.70,445.45 L131.86,445.81 L132.03,446.16 L132.20,446.52 L132.36,446.88 L132.53,447.24 L132.70,447.60 L132.86,447.97 L133.03,448.33 L133.20,448.70 L133.36,449.06 L133.53,449.43 L133.70,449.80 L133.86,450.17 L134.03,450.54 L134.20,450.91 L134.36,451.28 L134.53,451.65 L134.70,452.02 L134.86,452.38 L135.03,452.75 L135.20,453.12 L135.36,453.48 L135.53,453.84 L135.70,454.20 L135.86,454.56 L136.03,454.91 L136.20,455.27 L136.36,455.61 L136.53,455.96 L136.70,456.29 L136.87,456.63 L137.03,456.95 L137.20,457.28 L137.37,457.59 L137.53,457.90 L137.70,458.20 L137.87,458.49 L138.03,458.77 L138.20,459.04 L138.37,459.30 L138.53,459.55 L138.70,459.79 L138.87,460.02 L139.03,460.24 L139.20,460.44 L139.37,460.63 L139.53,460.80 L139.70,460.96 L139.87,461.11 L140.03,461.23 L140.20,461.35 L140.37,461.44 L140.53,461.52 L140.70,461.59 L140.87,461.63 L141.03,461.66 L141.20,461.67 L141.37,461.66 L141.53,461.64 L141.70,461.60 L141.87,461.54 L142.03,461.46 L142.20,461.37 L142.37,461.26 L142.53,461.14 L142.70,461.00 L142.87,460.84 L143.03,460.67 L143.20,460.48 L143.37,460.28 L143.54,460.07 L143.70,459.85 L143.87,459.61 L144.04,459.36 L144.20,459.10 L144.37,458.83 L144.54,458.55 L144.70,458.26 L144.87,457.96 L145.04,457.66 L145.20,457.35 L145.37,457.03 L145.54,456.70 L145.70,456.37 L145.87,456.03 L146.04,455.69 L146.20,455.34 L146.37,454.99 L146.54,454.64 L146.70,454.28 L146.87,453.92 L147.04,453.56 L147.20,453.20 L147.37,452.83 L147.54,452.47 L147.70,452.10 L147.87,451.73 L148.04,451.36 L148.20,450.99 L148.37,450.62 L148.54,450.25 L148.70,449.88 L148.87,449.51 L149.04,449.15 L149.20,448.78 L149.37,448.41 L149.54,448.05 L149.70,447.68 L149.87,447.32 L150.04,446.96 L150.21,446.60 L150.37,446.24 L150.54,445.89 L150.71,445.53 L150.87,445.18 L151.04,444.83 L151.21,444.48 L151.37,444.13 L151.54,443.79 L151.71,443.44 L151.87,443.10 L152.04,442.76 L152.21,442.43 L152.37,442.09 L152.54,441.76 L152.71,441.43 L152.87,441.10 L153.04,440.78 L153.21,440.45 L153.37,440.13 L153.54,439.81 L153.71,439.50 L153.87,439.18 L154.04,438.87 L154.21,438.56 L154.37,438.25 L154.54,437.95 L154.71,437.64 L154.87,437.34 L155.04,437.04 L155.21,436.75 L155.37,436.45 L155.54,436.16 L155.71,435.87 L155.87,435.58 L156.04,435.29 L156.21,435.01 L156.37,434.73 L156.54,434.45 L156.71,434.17 L156.88,433.89 L157.04,433.62 L157.21,433.35 L157.38,433.08 L157.54,432.81 L157.71,432.54 L157.88,432.28 L158.04,432.02 L158.21,431.76 L158.38,431.50 L158.54,431.24 L158.71,430.99 L158.88,430.73 L159.04,430.48 L159.21,430.23 L159.38,429.98 L159.54,429.74 L159.71,429.49 L159.88,429.25 L160.04,429.01 L160.21,428.77 L160.38,428.53 L160.54,428.30 L160.71,428.06 L160.88,427.83 L161.04,427.60 L161.21,427.37 L161.38,427.14 L161.54,426.92 L161.71,426.69 L161.88,426.47 L162.04,426.25 L162.21,426.02 L162.38,425.81 L162.54,425.59 L162.71,425.37 L162.88,425.16 L163.04,424.94 L163.21,424.73 L163.38,424.52 L163.55,424.31 L163.71,424.10 L163.88,423.90 L164.05,423.69 L164.21,423.49 L164.38,423.29 L164.55,423.08 L164.71,422.88 L164.88,422.69 L165.05,422.49 L165.21,422.29 L165.38,422.10 L165.55,421.90 L165.71,421.71 L165.88,421.52 L166.05,421.33 L166.21,421.14 L166.38,420.95 L166.55,420.76 L166.71,420.58 L166.88,420.39 L167.05,420.21 L167.21,420.03 L167.38,419.85 L167.55,419.67 L167.71,419.49 L167.88,419.31 L168.05,419.13 L168.21,418.96 L168.38,418.78 L168.55,418.61 L168.71,418.43 L168.88,418.26 L169.05,418.09 L169.21,417.92 L169.38,417.75 L169.55,417.58 L169.71,417.41 L169.88,417.25 L170.05,417.08 L170.22,416.92 L170.38,416.75 L170.55,416.59 L170.72,416.43 L170.88,416.27 L171.05,416.11 L171.22,415.95 L171.38,415.79 L171.55,415.63 L171.72,415.48 L171.88,415.32 L172.05,415.17 L172.22,415.01 L172.38,414.86 L172.55,414.71 L172.72,414.56 L172.88,414.41 L173.05,414.26 L173.22,414.11 L173.38,413.96 L173.55,413.81 L173.72,413.66 L173.88,413.52 L174.05,413.37 L174.22,413.23 L174.38,413.08 L174.55,412.94 L174.72,412.80 L174.88,412.66 L175.05,412.52 L175.22,412.38 L175.38,412.24 L175.55,412.10 L175.72,411.96 L175.88,411.82 L176.05,411.68 L176.22,411.55 L176.38,411.41 L176.55,411.28 L176.72,411.14 L176.88,411.01 L177.05,410.88 L177.22,410.75 L177.39,410.61 L177.55,410.48 L177.72,410.35 L177.89,410.22 L178.05,410.10 L178.22,409.97 L178.39,409.84 L178.55,409.71 L178.72,409.59 L178.89,409.46 L179.05,409.33 L179.22,409.21 L179.39,409.09 L179.55,408.96 L179.72,408.84 L179.89,408.72 L180.05,408.60 L180.22,408.47 L180.39,408.35 L180.55,408.23 L180.72,408.11 L180.89,408.00 L181.05,407.88 L181.22,407.76 L181.39,407.64 L181.55,407.52 L181.72,407.41 L181.89,407.29 L182.05,407.18 L182.22,407.06 L182.39,406.95 L182.55,406.84 L182.72,406.72 L182.89,406.61 L183.05,406.50 L183.22,406.39 L183.39,406.27 L183.55,406.16 L183.72,406.05 L183.89,405.94 L184.06,405.84 L184.22,405.73 L184.39,405.62 L184.56,405.51 L184.72,405.40 L184.89,405.30 L185.06,405.19 L185.22,405.08 L185.39,404.98 L185.56,404.87 L185.72,404.77 L185.89,404.67 L186.06,404.56 L186.22,404.46 L186.39,404.36 L186.56,404.25 L186.72,404.15 L186.89,404.05 L187.06,403.95 L187.22,403.85 L187.39,403.75 L187.56,403.65 L187.72,403.55 L187.89,403.45 L188.06,403.35 L188.22,403.26 L188.39,403.16 L188.56,403.06 L188.72,402.96 L188.89,402.87 L189.06,402.77 L189.22,402.68 L189.39,402.58 L189.56,402.49 L189.72,402.39 L189.89,402.30 L190.06,402.21 L190.22,402.11 L190.39,402.02 L190.56,401.93 L190.73,401.84 L190.89,401.74 L191.06,401.65 L191.23,401.56 L191.39,401.47 L191.56,401.38 L191.73,401.29 L191.89,401.20 L192.06,401.11 L192.23,401.02 L192.39,400.94 L192.56,400.85 L192.73,400.76 L192.89,400.67 L193.06,400.59 L193.23,400.50 L193.39,400.41 L193.56,400.33 L193.73,400.24 L193.89,400.16 L194.06,400.07 L194.23,399.99 L194.39,399.90 L194.56,399.82 L194.73,399.74 L194.89,399.65 L195.06,399.57 L195.23,399.49 L195.39,399.41 L195.56,399.33 L195.73,399.24 L195.89,399.16 L196.06,399.08 L196.23,399.00 L196.39,398.92 L196.56,398.84 L196.73,398.76 L196.90,398.68 L197.06,398.60 L197.23,398.53 L197.40,398.45 L197.56,398.37 L197.73,398.29 L197.90,398.21 L198.06,398.14 L198.23,398.06 L198.40,397.98 L198.56,397.91 L198.73,397.83 L198.90,397.76 L199.06,397.68 L199.23,397.61 L199.40,397.53 L199.56,397.46 L199.73,397.38 L199.90,397.31 L200.06,397.24 L200.23,397.16 L200.40,397.09 L200.56,397.02 L200.73,396.95 L200.90,396.87 L201.06,396.80 L201.23,396.73 L201.40,396.66 L201.56,396.59 L201.73,396.52 L201.90,396.45 L202.06,396.38 L202.23,396.31 L202.40,396.24 L202.56,396.17 L202.73,396.10 L202.90,396.03 L203.06,395.96 L203.23,395.89 L203.40,395.83 L203.56,395.76 L203.73,395.69 L203.90,395.62 L204.07,395.56 L204.23,395.49 L204.40,395.42 L204.57,395.36 L204.73,395.29 L204.90,395.23 L205.07,395.16 L205.23,395.10 L205.40,395.03 L205.57,394.97 L205.73,394.90 L205.90,394.84 L206.07,394.77 L206.23,394.71 L206.40,394.65 L206.57,394.58 L206.73,394.52 L206.90,394.46 L207.07,394.40 L207.23,394.33 L207.40,394.27 L207.57,394.21 L207.73,394.15 L207.90,394.09 L208.07,394.03 L208.23,393.97 L208.40,393.91 L208.57,393.85 L208.73,393.79 L208.90,393.73 L209.07,393.67 L209.23,393.61 L209.40,393.55 L209.57,393.49 L209.73,393.43 L209.90,393.37 L210.07,393.31 L210.23,393.26 L210.40,393.20 L210.57,393.14 L210.74,393.08 L210.90,393.03 L211.07,392.97 L211.24,392.91 L211.40,392.86 L211.57,392.80 L211.74,392.74 L211.90,392.69 L212.07,392.63 L212.24,392.58 L212.40,392.52 L212.57,392.47 L212.74,392.41 L212.90,392.36 L213.07,392.30 L213.24,392.25 L213.40,392.20 L213.57,392.14 L213.74,392.09 L213.90,392.04 L214.07,391.98 L214.24,391.93 L214.40,391.88 L214.57,391.82 L214.74,391.77 L214.90,391.72 L215.07,391.67 L215.24,391.62 L215.40,391.57 L215.57,391.51 L215.74,391.46 L215.90,391.41 L216.07,391.36 L216.24,391.31 L216.40,391.26 L216.57,391.21 L216.74,391.16 L216.91,391.11 L217.07,391.06 L217.24,391.01 L217.41,390.97 L217.57,390.92 L217.74,390.87 L217.91,390.82 L218.07,390.77 L218.24,390.72 L218.41,390.68 L218.57,390.63 L218.74,390.58 L218.91,390.53 L219.07,390.49 L219.24,390.44 L219.41,390.39 L219.57,390.35 L219.74,390.30 L219.91,390.25 L220.07,390.21 L220.24,390.16 L220.41,390.12 L220.57,390.07 L220.74,390.03 L220.91,389.98 L221.07,389.94 L221.24,389.89 L221.41,389.85 L221.57,389.80 L221.74,389.76 L221.91,389.72 L222.07,389.67 L222.24,389.63 L222.41,389.58 L222.57,389.54 L222.74,389.50 L222.91,389.46 L223.07,389.41 L223.24,389.37 L223.41,389.33 L223.58,389.29 L223.74,389.24 L223.91,389.20 L224.08,389.16 L224.24,389.12 L224.41,389.08 L224.58,389.04 L224.74,389.00 L224.91,388.96 L225.08,388.91 L225.24,388.87 L225.41,388.83 L225.58,388.79 L225.74,388.75 L225.91,388.71 L226.08,388.68 L226.24,388.64 L226.41,388.60 L226.58,388.56 L226.74,388.52 L226.91,388.48 L227.08,388.44 L227.24,388.40 L227.41,388.37 L227.58,388.33 L227.74,388.29 L227.91,388.25 L228.08,388.21 L228.24,388.18 L228.41,388.14 L228.58,388.10 L228.74,388.07 L228.91,388.03 L229.08,387.99 L229.24,387.96 L229.41,387.92 L229.58,387.88 L229.74,387.85 L229.91,387.81 L230.08,387.78 L230.25,387.74 L230.41,387.71 L230.58,387.67 L230.75,387.64 L230.91,387.60 L231.08,387.57 L231.25,387.53 L231.41,387.50 L231.58,387.46 L231.75,387.43 L231.91,387.40 L232.08,387.36 L232.25,387.33 L232.41,387.30 L232.58,387.26 L232.75,387.23 L232.91,387.20 L233.08,387.16 L233.25,387.13 L233.41,387.10 L233.58,387.07 L233.75,387.03 L233.91,387.00 L234.08,386.97 L234.25,386.94 L234.41,386.91 L234.58,386.88 L234.75,386.84 L234.91,386.81 L235.08,386.78 L235.25,386.75 L235.41,386.72 L235.58,386.69 L235.75,386.66 L235.91,386.63 L236.08,386.60 L236.25,386.57 L236.41,386.54 L236.58,386.51 L236.75,386.48 L236.92,386.45 L237.08,386.42 L237.25,386.39 L237.42,386.37 L237.58,386.34 L237.75,386.31 L237.92,386.28 L238.08,386.25 L238.25,386.22 L238.42,386.20 L238.58,386.17 L238.75,386.14 L238.92,386.11 L239.08,386.09 L239.25,386.06 L239.42,386.03 L239.58,386.00 L239.75,385.98 L239.92,385.95 L240.08,385.92 L240.25,385.90 L240.42,385.87 L240.58,385.85 L240.75,385.82 L240.92,385.79 L241.08,385.77 L241.25,385.74 L241.42,385.72 L241.58,385.69 L241.75,385.67 L241.92,385.64 L242.08,385.62 L242.25,385.59 L242.42,385.57 L242.58,385.54 L242.75,385.52 L242.92,385.49 L243.08,385.47 L243.25,385.45 L243.42,385.42 L243.59,385.40 L243.75,385.38 L243.92,385.35 L244.09,385.33 L244.25,385.31 L244.42,385.28 L244.59,385.26 L244.75,385.24 L244.92,385.22 L245.09,385.19 L245.25,385.17 L245.42,385.15 L245.59,385.13 L245.75,385.11 L245.92,385.08 L246.09,385.06 L246.25,385.04 L246.42,385.02 L246.59,385.00 L246.75,384.98 L246.92,384.96 L247.09,384.94 L247.25,384.92 L247.42,384.90 L247.59,384.88 L247.75,384.85 L247.92,384.83 L248.09,384.82 L248.25,384.80 L248.42,384.78 L248.59,384.76 L248.75,384.74 L248.92,384.72 L249.09,384.70 L249.25,384.68 L249.42,384.66 L249.59,384.64 L249.75,384.62 L249.92,384.60 L250.09,384.59 L250.26,384.57 L250.42,384.55 L250.59,384.53 L250.76,384.51 L250.92,384.50 L251.09,384.48 L251.26,384.46 L251.42,384.44 L251.59,384.43 L251.76,384.41 L251.92,384.39 L252.09,384.38 L252.26,384.36 L252.42,384.34 L252.59,384.33 L252.76,384.31 L252.92,384.29 L253.09,384.28 L253.26,384.26 L253.42,384.25 L253.59,384.23 L253.76,384.22 L253.92,384.20 L254.09,384.19 L254.26,384.17 L254.42,384.16 L254.59,384.14 L254.76,384.13 L254.92,384.11 L255.09,384.10 L255.26,384.08 L255.42,384.07 L255.59,384.05 L255.76,384.04 L255.92,384.03 L256.09,384.01 L256.26,384.00 L256.42,383.99 L256.59,383.97 L256.76,383.96 L256.93,383.95 L257.09,383.93 L257.26,383.92 L257.43,383.91 L257.59,383.90 L257.76,383.88 L257.93,383.87 L258.09,383.86 L258.26,383.85 L258.43,383.83 L258.59,383.82 L258.76,383.81 L258.93,383.80 L259.09,383.79 L259.26,383.78 L259.43,383.77 L259.59,383.75 L259.76,383.74 L259.93,383.73 L260.09,383.72 L260.26,383.71 L260.43,383.70 L260.59,383.69 L260.76,383.68 L260.93,383.67 L261.09,383.66 L261.26,383.65 L261.43,383.64 L261.59,383.63 L261.76,383.62 L261.93,383.61 L262.09,383.60 L262.26,383.59 L262.43,383.59 L262.59,383.58 L262.76,383.57 L262.93,383.56 L263.09,383.55 L263.26,383.54 L263.43,383.53 L263.60,383.53 L263.76,383.52 L263.93,383.51 L264.10,383.50 L264.26,383.50 L264.43,383.49 L264.60,383.48 L264.76,383.47 L264.93,383.47 L265.10,383.46 L265.26,383.45 L265.43,383.45 L265.60,383.44 L265.76,383.43 L265.93,383.43 L266.10,383.42 L266.26,383.41 L266.43,383.41 L266.60,383.40 L266.76,383.40 L266.93,383.39 L267.10,383.38 L267.26,383.38 L267.43,383.37 L267.60,383.37 L267.76,383.36 L267.93,383.36 L268.10,383.35 L268.26,383.35 L268.43,383.35 L268.60,383.34 L268.76,383.34 L268.93,383.33 L269.10,383.33 L269.26,383.32 L269.43,383.32 L269.60,383.32 L269.76,383.31 L269.93,383.31 L270.10,383.31 L270.26,383.30 L270.43,383.30 L270.60,383.30 L270.77,383.29 L270.93,383.29 L271.10,383.29 L271.27,383.29 L271.43,383.28 L271.60,383.28 L271.77,383.28 L271.93,383.28 L272.10,383.28 L272.27,383.27 L272.43,383.27 L272.60,383.27 L272.77,383.27 L272.93,383.27 L273.10,383.27 L273.27,383.27 L273.43,383.27 L273.60,383.26 L273.77,383.26 L273.93,383.26 L274.10,383.26 L274.27,383.26 L274.43,383.26 L274.60,383.26 L274.77,383.26 L274.93,383.26 L275.10,383.26 L275.27,383.26 L275.43,383.26 L275.60,383.26 L275.77,383.26 L275.93,383.27 L276.10,383.27 L276.27,383.27 L276.43,383.27 L276.60,383.27 L276.77,383.27 L276.94,383.27 L277.10,383.28 L277.27,383.28 L277.44,383.28 L277.60,383.28 L277.77,383.28 L277.94,383.29 L278.10,383.29 L278.27,383.29 L278.44,383.29 L278.60,383.30 L278.77,383.30 L278.94,383.30 L279.10,383.31 L279.27,383.31 L279.44,383.31 L279.60,383.32 L279.77,383.32 L279.94,383.32 L280.10,383.33 L280.27,383.33 L280.44,383.34 L280.60,383.34 L280.77,383.34 L280.94,383.35 L281.10,383.35 L281.27,383.36 L281.44,383.36 L281.60,383.37 L281.77,383.37 L281.94,383.38 L282.10,383.38 L282.27,383.39 L282.44,383.39 L282.60,383.40 L282.77,383.41 L282.94,383.41 L283.10,383.42 L283.27,383.42 L283.44,383.43 L283.61,383.44 L283.77,383.44 L283.94,383.45 L284.11,383.46 L284.27,383.46 L284.44,383.47 L284.61,383.48 L284.77,383.49 L284.94,383.49 L285.11,383.50 L285.27,383.51 L285.44,383.52 L285.61,383.52 L285.77,383.53 L285.94,383.54 L286.11,383.55 L286.27,383.56 L286.44,383.57 L286.61,383.57 L286.77,383.58 L286.94,383.59 L287.11,383.60 L287.27,383.61 L287.44,383.62 L287.61,383.63 L287.77,383.64 L287.94,383.65 L288.11,383.66 L288.27,383.67 L288.44,383.68 L288.61,383.69 L288.77,383.70 L288.94,383.71 L289.11,383.72 L289.27,383.73 L289.44,383.74 L289.61,383.75 L289.77,383.76 L289.94,383.77 L290.11,383.79 L290.27,383.80 L290.44,383.81 L290.61,383.82 L290.78,383.83 L290.94,383.84 L291.11,383.86 L291.28,383.87 L291.44,383.88 L291.61,383.89 L291.78,383.91 L291.94,383.92 L292.11,383.93 L292.28,383.94 L292.44,383.96 L292.61,383.97 L292.78,383.98 L292.94,384.00 L293.11,384.01 L293.28,384.02 L293.44,384.04 L293.61,384.05 L293.78,384.07 L293.94,384.08 L294.11,384.09 L294.28,384.11 L294.44,384.12 L294.61,384.14 L294.78,384.15 L294.94,384.17 L295.11,384.18 L295.28,384.20 L295.44,384.21 L295.61,384.23 L295.78,384.24 L295.94,384.26 L296.11,384.28 L296.28,384.29 L296.44,384.31 L296.61,384.32 L296.78,384.34 L296.94,384.36 L297.11,384.37 L297.28,384.39 L297.45,384.41 L297.61,384.42 L297.78,384.44 L297.95,384.46 L298.11,384.48 L298.28,384.49 L298.45,384.51 L298.61,384.53 L298.78,384.55 L298.95,384.56 L299.11,384.58 L299.28,384.60 L299.45,384.62 L299.61,384.64 L299.78,384.66 L299.95,384.68 L300.11,384.69 L300.28,384.71 L300.45,384.73 L300.61,384.75 L300.78,384.77 L300.95,384.79 L301.11,384.81 L301.28,384.83 L301.45,384.85 L301.61,384.87 L301.78,384.89 L301.95,384.91 L302.11,384.93 L302.28,384.95 L302.45,384.97 L302.61,384.99 L302.78,385.02 L302.95,385.04 L303.11,385.06 L303.28,385.08 L303.45,385.10 L303.62,385.12 L303.78,385.14 L303.95,385.17 L304.12,385.19 L304.28,385.21 L304.45,385.23 L304.62,385.26 L304.78,385.28 L304.95,385.30 L305.12,385.32 L305.28,385.35 L305.45,385.37 L305.62,385.39 L305.78,385.42 L305.95,385.44 L306.12,385.47 L306.28,385.49 L306.45,385.51 L306.62,385.54 L306.78,385.56 L306.95,385.59 L307.12,385.61 L307.28,385.64 L307.45,385.66 L307.62,385.69 L307.78,385.71 L307.95,385.74 L308.12,385.76 L308.28,385.79 L308.45,385.81 L308.62,385.84 L308.78,385.87 L308.95,385.89 L309.12,385.92 L309.28,385.94 L309.45,385.97 L309.62,386.00 L309.78,386.02 L309.95,386.05 L310.12,386.08 L310.28,386.11 L310.45,386.13 L310.62,386.16 L310.79,386.19 L310.95,386.22 L311.12,386.25 L311.29,386.27 L311.45,386.30 L311.62,386.33 L311.79,386.36 L311.95,386.39 L312.12,386.42 L312.29,386.45 L312.45,386.48 L312.62,386.50 L312.79,386.53 L312.95,386.56 L313.12,386.59 L313.29,386.62 L313.45,386.65 L313.62,386.68 L313.79,386.71 L313.95,386.75 L314.12,386.78 L314.29,386.81 L314.45,386.84 L314.62,386.87 L314.79,386.90 L314.95,386.93 L315.12,386.96 L315.29,387.00 L315.45,387.03 L315.62,387.06 L315.79,387.09 L315.95,387.12 L316.12,387.16 L316.29,387.19 L316.45,387.22 L316.62,387.25 L316.79,387.29 L316.96,387.32 L317.12,387.35 L317.29,387.39 L317.46,387.42 L317.62,387.46 L317.79,387.49 L317.96,387.52 L318.12,387.56 L318.29,387.59 L318.46,387.63 L318.62,387.66 L318.79,387.70 L318.96,387.73 L319.12,387.77 L319.29,387.80 L319.46,387.84 L319.62,387.88 L319.79,387.91 L319.96,387.95 L320.12,387.98 L320.29,388.02 L320.46,388.06 L320.62,388.09 L320.79,388.13 L320.96,388.17 L321.12,388.21 L321.29,388.24 L321.46,388.28 L321.62,388.32 L321.79,388.36 L321.96,388.39 L322.12,388.43 L322.29,388.47 L322.46,388.51 L322.62,388.55 L322.79,388.59 L322.96,388.63 L323.12,388.67 L323.29,388.71 L323.46,388.75 L323.62,388.79 L323.79,388.83 L323.96,388.87 L324.13,388.91 L324.29,388.95 L324.46,388.99 L324.63,389.03 L324.79,389.07 L324.96,389.11 L325.13,389.15 L325.29,389.19 L325.46,389.23 L325.63,389.28 L325.79,389.32 L325.96,389.36 L326.13,389.40 L326.29,389.45 L326.46,389.49 L326.63,389.53 L326.79,389.57 L326.96,389.62 L327.13,389.66 L327.29,389.71 L327.46,389.75 L327.63,389.79 L327.79,389.84 L327.96,389.88 L328.13,389.93 L328.29,389.97 L328.46,390.02 L328.63,390.06 L328.79,390.11 L328.96,390.15 L329.13,390.20 L329.29,390.24 L329.46,390.29 L329.63,390.34 L329.79,390.38 L329.96,390.43 L330.13,390.48 L330.30,390.52 L330.46,390.57 L330.63,390.62 L330.80,390.66 L330.96,390.71 L331.13,390.76 L331.30,390.81 L331.46,390.86 L331.63,390.91 L331.80,390.95 L331.96,391.00 L332.13,391.05 L332.30,391.10 L332.46,391.15 L332.63,391.20 L332.80,391.25 L332.96,391.30 L333.13,391.35 L333.30,391.40 L333.46,391.45 L333.63,391.50 L333.80,391.55 L333.96,391.61 L334.13,391.66 L334.30,391.71 L334.46,391.76 L334.63,391.81 L334.80,391.87 L334.96,391.92 L335.13,391.97 L335.30,392.02 L335.46,392.08 L335.63,392.13 L335.80,392.18 L335.96,392.24 L336.13,392.29 L336.30,392.35 L336.46,392.40 L336.63,392.45 L336.80,392.51 L336.96,392.56 L337.13,392.62 L337.30,392.68 L337.47,392.73 L337.63,392.79 L337.80,392.84 L337.97,392.90 L338.13,392.96 L338.30,393.01 L338.47,393.07 L338.63,393.13 L338.80,393.18 L338.97,393.24 L339.13,393.30 L339.30,393.36 L339.47,393.42 L339.63,393.48 L339.80,393.53 L339.97,393.59 L340.13,393.65 L340.30,393.71" fill="none" stroke="#f6a468" stroke-width="1.9" stroke-linejoin="round" stroke-linecap="round" />
<path d="M73.50,371.66 L73.67,371.72 L73.83,371.78 L74.00,371.85 L74.17,371.91 L74.33,371.97 L74.50,372.03 L74.67,372.09 L74.83,372.15 L75.00,372.22 L75.17,372.28 L75.33,372.34 L75.50,372.41 L75.67,372.47 L75.83,372.53 L76.00,372.60 L76.17,372.66 L76.33,372.72 L76.50,372.79 L76.67,372.85 L76.83,372.92 L77.00,372.98 L77.17,373.05 L77.34,373.12 L77.50,373.18 L77.67,373.25 L77.84,373.32 L78.00,373.38 L78.17,373.45 L78.34,373.52 L78.50,373.59 L78.67,373.65 L78.84,373.72 L79.00,373.79 L79.17,373.86 L79.34,373.93 L79.50,374.00 L79.67,374.07 L79.84,374.14 L80.00,374.21 L80.17,374.28 L80.34,374.35 L80.50,374.42 L80.67,374.49 L80.84,374.56 L81.00,374.63 L81.17,374.71 L81.34,374.78 L81.50,374.85 L81.67,374.93 L81.84,375.00 L82.00,375.07 L82.17,375.15 L82.34,375.22 L82.50,375.30 L82.67,375.37 L82.84,375.45 L83.00,375.52 L83.17,375.60 L83.34,375.67 L83.50,375.75 L83.67,375.83 L83.84,375.90 L84.01,375.98 L84.17,376.06 L84.34,376.14 L84.51,376.21 L84.67,376.29 L84.84,376.37 L85.01,376.45 L85.17,376.53 L85.34,376.61 L85.51,376.69 L85.67,376.77 L85.84,376.85 L86.01,376.93 L86.17,377.01 L86.34,377.10 L86.51,377.18 L86.67,377.26 L86.84,377.34 L87.01,377.43 L87.17,377.51 L87.34,377.59 L87.51,377.68 L87.67,377.76 L87.84,377.85 L88.01,377.93 L88.17,378.02 L88.34,378.10 L88.51,378.19 L88.67,378.28 L88.84,378.36 L89.01,378.45 L89.17,378.54 L89.34,378.63 L89.51,378.71 L89.67,378.80 L89.84,378.89 L90.01,378.98 L90.17,379.07 L90.34,379.16 L90.51,379.25 L90.68,379.34 L90.84,379.44 L91.01,379.53 L91.18,379.62 L91.34,379.71 L91.51,379.81 L91.68,379.90 L91.84,379.99 L92.01,380.09 L92.18,380.18 L92.34,380.28 L92.51,380.37 L92.68,380.47 L92.84,380.56 L93.01,380.66 L93.18,380.76 L93.34,380.85 L93.51,380.95 L93.68,381.05 L93.84,381.15 L94.01,381.25 L94.18,381.35 L94.34,381.45 L94.51,381.55 L94.68,381.65 L94.84,381.75 L95.01,381.85 L95.18,381.96 L95.34,382.06 L95.51,382.16 L95.68,382.27 L95.84,382.37 L96.01,382.47 L96.18,382.58 L96.34,382.69 L96.51,382.79 L96.68,382.90 L96.84,383.00 L97.01,383.11 L97.18,383.22 L97.35,383.33 L97.51,383.44 L97.68,383.55 L97.85,383.66 L98.01,383.77 L98.18,383.88 L98.35,383.99 L98.51,384.10 L98.68,384.21 L98.85,384.33 L99.01,384.44 L99.18,384.56 L99.35,384.67 L99.51,384.79 L99.68,384.90 L99.85,385.02 L100.01,385.13 L100.18,385.25 L100.35,385.37 L100.51,385.49 L100.68,385.61 L100.85,385.73 L101.01,385.85 L101.18,385.97 L101.35,386.09 L101.51,386.21 L101.68,386.33 L101.85,386.46 L102.01,386.58 L102.18,386.70 L102.35,386.83 L102.51,386.96 L102.68,387.08 L102.85,387.21 L103.01,387.34 L103.18,387.46 L103.35,387.59 L103.52,387.72 L103.68,387.85 L103.85,387.98 L104.02,388.11 L104.18,388.25 L104.35,388.38 L104.52,388.51 L104.68,388.65 L104.85,388.78 L105.02,388.92 L105.18,389.05 L105.35,389.19 L105.52,389.33 L105.68,389.47 L105.85,389.60 L106.02,389.74 L106.18,389.89 L106.35,390.03 L106.52,390.17 L106.68,390.31 L106.85,390.45 L107.02,390.60 L107.18,390.74 L107.35,390.89 L107.52,391.04 L107.68,391.18 L107.85,391.33 L108.02,391.48 L108.18,391.63 L108.35,391.78 L108.52,391.93 L108.68,392.09 L108.85,392.24 L109.02,392.39 L109.18,392.55 L109.35,392.71 L109.52,392.86 L109.68,393.02 L109.85,393.18 L110.02,393.34 L110.19,393.50 L110.35,393.66 L110.52,393.82 L110.69,393.99 L110.85,394.15 L111.02,394.32 L111.19,394.48 L111.35,394.65 L111.52,394.82 L111.69,394.99 L111.85,395.16 L112.02,395.33 L112.19,395.50 L112.35,395.68 L112.52,395.85 L112.69,396.03 L112.85,396.20 L113.02,396.38 L113.19,396.56 L113.35,396.74 L113.52,396.92 L113.69,397.10 L113.85,397.29 L114.02,397.47 L114.19,397.66 L114.35,397.85 L114.52,398.04 L114.69,398.23 L114.85,398.42 L115.02,398.61 L115.19,398.80 L115.35,399.00 L115.52,399.19 L115.69,399.39 L115.85,399.59 L116.02,399.79 L116.19,399.99 L116.35,400.20 L116.52,400.40 L116.69,400.61 L116.86,400.81 L117.02,401.02 L117.19,401.23 L117.36,401.45 L117.52,401.66 L117.69,401.87 L117.86,402.09 L118.02,402.31 L118.19,402.53 L118.36,402.75 L118.52,402.97 L118.69,403.20 L118.86,403.43 L119.02,403.65 L119.19,403.88 L119.36,404.12 L119.52,404.35 L119.69,404.59 L119.86,404.82 L120.02,405.06 L120.19,405.31 L120.36,405.55 L120.52,405.79 L120.69,406.04 L120.86,406.29 L121.02,406.54 L121.19,406.80 L121.36,407.05 L121.52,407.31 L121.69,407.57 L121.86,407.83 L122.02,408.10 L122.19,408.37 L122.36,408.63 L122.52,408.91 L122.69,409.18 L122.86,409.46 L123.02,409.74 L123.19,410.02 L123.36,410.30 L123.53,410.59 L123.69,410.88 L123.86,411.18 L124.03,411.47 L124.19,411.77 L124.36,412.07 L124.53,412.38 L124.69,412.68 L124.86,412.99 L125.03,413.31 L125.19,413.62 L125.36,413.94 L125.53,414.27 L125.69,414.60 L125.86,414.93 L126.03,415.26 L126.19,415.60 L126.36,415.94 L126.53,416.29 L126.69,416.63 L126.86,416.99 L127.03,417.34 L127.19,417.71 L127.36,418.07 L127.53,418.44 L127.69,418.82 L127.86,419.19 L128.03,419.58 L128.19,419.97 L128.36,420.36 L128.53,420.76 L128.69,421.16 L128.86,421.57 L129.03,421.98 L129.19,422.40 L129.36,422.82 L129.53,423.25 L129.69,423.69 L129.86,424.13 L130.03,424.58 L130.19,425.03 L130.36,425.49 L130.53,425.96 L130.70,426.44 L130.86,426.92 L131.03,427.41 L131.20,427.90 L131.36,428.41 L131.53,428.92 L131.70,429.44 L131.86,429.97 L132.03,430.51 L132.20,431.05 L132.36,431.61 L132.53,432.17 L132.70,432.75 L132.86,433.33 L133.03,433.93 L133.20,434.54 L133.36,435.15 L133.53,435.78 L133.70,436.42 L133.86,437.08 L134.03,437.74 L134.20,438.42 L134.36,439.12 L134.53,439.82 L134.70,440.55 L134.86,441.28 L135.03,442.04 L135.20,442.81 L135.36,443.59 L135.53,444.40 L135.70,445.22 L135.86,446.06 L136.03,446.92 L136.20,447.81 L136.36,448.71 L136.53,449.63 L136.70,450.58 L136.87,451.55 L137.03,452.54 L137.20,453.56 L137.37,454.60 L137.53,455.67 L137.70,456.76 L137.87,457.88 L138.03,459.02 L138.20,460.19 L138.37,461.38 L138.53,462.59 L138.70,463.82 L138.87,465.06 L139.03,466.32 L139.20,467.58 L139.37,468.83 L139.53,470.08 L139.70,471.29 L139.87,472.47 L140.03,473.59 L140.20,474.63 L140.37,475.57 L140.53,476.39 L140.70,477.06 L140.87,477.56 L141.03,477.88 L141.20,478.00 L141.37,477.93 L141.53,477.65 L141.70,477.19 L141.87,476.55 L142.03,475.76 L142.20,474.85 L142.37,473.83 L142.53,472.72 L142.70,471.56 L142.87,470.35 L143.03,469.11 L143.20,467.86 L143.37,466.60 L143.54,465.34 L143.70,464.09 L143.87,462.86 L144.04,461.64 L144.20,460.45 L144.37,459.28 L144.54,458.13 L144.70,457.01 L144.87,455.91 L145.04,454.84 L145.20,453.79 L145.37,452.77 L145.54,451.77 L145.70,450.79 L145.87,449.84 L146.04,448.91 L146.20,448.01 L146.37,447.12 L146.54,446.25 L146.70,445.41 L146.87,444.58 L147.04,443.77 L147.20,442.98 L147.37,442.21 L147.54,441.45 L147.70,440.71 L147.87,439.98 L148.04,439.27 L148.20,438.58 L148.37,437.89 L148.54,437.23 L148.70,436.57 L148.87,435.93 L149.04,435.29 L149.20,434.67 L149.37,434.06 L149.54,433.47 L149.70,432.88 L149.87,432.30 L150.04,431.73 L150.21,431.18 L150.37,430.63 L150.54,430.09 L150.71,429.56 L150.87,429.04 L151.04,428.52 L151.21,428.02 L151.37,427.52 L151.54,427.03 L151.71,426.54 L151.87,426.07 L152.04,425.60 L152.21,425.14 L152.37,424.68 L152.54,424.23 L152.71,423.79 L152.87,423.35 L153.04,422.92 L153.21,422.49 L153.37,422.07 L153.54,421.66 L153.71,421.25 L153.87,420.85 L154.04,420.45 L154.21,420.05 L154.37,419.66 L154.54,419.28 L154.71,418.90 L154.87,418.52 L155.04,418.15 L155.21,417.79 L155.37,417.42 L155.54,417.07 L155.71,416.71 L155.87,416.36 L156.04,416.02 L156.21,415.67 L156.37,415.34 L156.54,415.00 L156.71,414.67 L156.88,414.34 L157.04,414.02 L157.21,413.70 L157.38,413.38 L157.54,413.06 L157.71,412.75 L157.88,412.44 L158.04,412.14 L158.21,411.84 L158.38,411.54 L158.54,411.24 L158.71,410.95 L158.88,410.66 L159.04,410.37 L159.21,410.08 L159.38,409.80 L159.54,409.52 L159.71,409.24 L159.88,408.97 L160.04,408.70 L160.21,408.43 L160.38,408.16 L160.54,407.89 L160.71,407.63 L160.88,407.37 L161.04,407.11 L161.21,406.85 L161.38,406.60 L161.54,406.35 L161.71,406.10 L161.88,405.85 L162.04,405.60 L162.21,405.36 L162.38,405.12 L162.54,404.88 L162.71,404.64 L162.88,404.40 L163.04,404.17 L163.21,403.94 L163.38,403.71 L163.55,403.48 L163.71,403.25 L163.88,403.02 L164.05,402.80 L164.21,402.58 L164.38,402.36 L164.55,402.14 L164.71,401.92 L164.88,401.71 L165.05,401.49 L165.21,401.28 L165.38,401.07 L165.55,400.86 L165.71,400.65 L165.88,400.45 L166.05,400.24 L166.21,400.04 L166.38,399.84 L166.55,399.63 L166.71,399.44 L166.88,399.24 L167.05,399.04 L167.21,398.85 L167.38,398.65 L167.55,398.46 L167.71,398.27 L167.88,398.08 L168.05,397.89 L168.21,397.70 L168.38,397.51 L168.55,397.33 L168.71,397.15 L168.88,396.96 L169.05,396.78 L169.21,396.60 L169.38,396.42 L169.55,396.24 L169.71,396.07 L169.88,395.89 L170.05,395.72 L170.22,395.54 L170.38,395.37 L170.55,395.20 L170.72,395.03 L170.88,394.86 L171.05,394.69 L171.22,394.52 L171.38,394.35 L171.55,394.19 L171.72,394.02 L171.88,393.86 L172.05,393.70 L172.22,393.54 L172.38,393.37 L172.55,393.21 L172.72,393.06 L172.88,392.90 L173.05,392.74 L173.22,392.58 L173.38,392.43 L173.55,392.27 L173.72,392.12 L173.88,391.97 L174.05,391.82 L174.22,391.67 L174.38,391.52 L174.55,391.37 L174.72,391.22 L174.88,391.07 L175.05,390.92 L175.22,390.78 L175.38,390.63 L175.55,390.49 L175.72,390.34 L175.88,390.20 L176.05,390.06 L176.22,389.92 L176.38,389.78 L176.55,389.64 L176.72,389.50 L176.88,389.36 L177.05,389.22 L177.22,389.08 L177.39,388.95 L177.55,388.81 L177.72,388.68 L177.89,388.54 L178.05,388.41 L178.22,388.28 L178.39,388.14 L178.55,388.01 L178.72,387.88 L178.89,387.75 L179.05,387.62 L179.22,387.49 L179.39,387.36 L179.55,387.24 L179.72,387.11 L179.89,386.98 L180.05,386.86 L180.22,386.73 L180.39,386.61 L180.55,386.48 L180.72,386.36 L180.89,386.24 L181.05,386.12 L181.22,385.99 L181.39,385.87 L181.55,385.75 L181.72,385.63 L181.89,385.51 L182.05,385.40 L182.22,385.28 L182.39,385.16 L182.55,385.04 L182.72,384.93 L182.89,384.81 L183.05,384.70 L183.22,384.58 L183.39,384.47 L183.55,384.35 L183.72,384.24 L183.89,384.13 L184.06,384.01 L184.22,383.90 L184.39,383.79 L184.56,383.68 L184.72,383.57 L184.89,383.46 L185.06,383.35 L185.22,383.24 L185.39,383.14 L185.56,383.03 L185.72,382.92 L185.89,382.81 L186.06,382.71 L186.22,382.60 L186.39,382.50 L186.56,382.39 L186.72,382.29 L186.89,382.19 L187.06,382.08 L187.22,381.98 L187.39,381.88 L187.56,381.77 L187.72,381.67 L187.89,381.57 L188.06,381.47 L188.22,381.37 L188.39,381.27 L188.56,381.17 L188.72,381.07 L188.89,380.97 L189.06,380.88 L189.22,380.78 L189.39,380.68 L189.56,380.59 L189.72,380.49 L189.89,380.39 L190.06,380.30 L190.22,380.20 L190.39,380.11 L190.56,380.01 L190.73,379.92 L190.89,379.83 L191.06,379.73 L191.23,379.64 L191.39,379.55 L191.56,379.46 L191.73,379.36 L191.89,379.27 L192.06,379.18 L192.23,379.09 L192.39,379.00 L192.56,378.91 L192.73,378.82 L192.89,378.73 L193.06,378.65 L193.23,378.56 L193.39,378.47 L193.56,378.38 L193.73,378.30 L193.89,378.21 L194.06,378.12 L194.23,378.04 L194.39,377.95 L194.56,377.87 L194.73,377.78 L194.89,377.70 L195.06,377.61 L195.23,377.53 L195.39,377.44 L195.56,377.36 L195.73,377.28 L195.89,377.20 L196.06,377.11 L196.23,377.03 L196.39,376.95 L196.56,376.87 L196.73,376.79 L196.90,376.71 L197.06,376.63 L197.23,376.55 L197.40,376.47 L197.56,376.39 L197.73,376.31 L197.90,376.23 L198.06,376.15 L198.23,376.07 L198.40,376.00 L198.56,375.92 L198.73,375.84 L198.90,375.77 L199.06,375.69 L199.23,375.61 L199.40,375.54 L199.56,375.46 L199.73,375.39 L199.90,375.31 L200.06,375.24 L200.23,375.16 L200.40,375.09 L200.56,375.02 L200.73,374.94 L200.90,374.87 L201.06,374.80 L201.23,374.72 L201.40,374.65 L201.56,374.58 L201.73,374.51 L201.90,374.44 L202.06,374.36 L202.23,374.29 L202.40,374.22 L202.56,374.15 L202.73,374.08 L202.90,374.01 L203.06,373.94 L203.23,373.87 L203.40,373.81 L203.56,373.74 L203.73,373.67 L203.90,373.60 L204.07,373.53 L204.23,373.47 L204.40,373.40 L204.57,373.33 L204.73,373.26 L204.90,373.20 L205.07,373.13 L205.23,373.07 L205.40,373.00 L205.57,372.93 L205.73,372.87 L205.90,372.80 L206.07,372.74 L206.23,372.67 L206.40,372.61 L206.57,372.55 L206.73,372.48 L206.90,372.42 L207.07,372.36 L207.23,372.29 L207.40,372.23 L207.57,372.17 L207.73,372.11 L207.90,372.04 L208.07,371.98 L208.23,371.92 L208.40,371.86 L208.57,371.80 L208.73,371.74 L208.90,371.68 L209.07,371.62 L209.23,371.56 L209.40,371.50 L209.57,371.44 L209.73,371.38 L209.90,371.32 L210.07,371.26 L210.23,371.20 L210.40,371.14 L210.57,371.08 L210.74,371.03 L210.90,370.97 L211.07,370.91 L211.24,370.85 L211.40,370.80 L211.57,370.74 L211.74,370.68 L211.90,370.63 L212.07,370.57 L212.24,370.51 L212.40,370.46 L212.57,370.40 L212.74,370.35 L212.90,370.29 L213.07,370.24 L213.24,370.18 L213.40,370.13 L213.57,370.07 L213.74,370.02 L213.90,369.97 L214.07,369.91 L214.24,369.86 L214.40,369.81 L214.57,369.75 L214.74,369.70 L214.90,369.65 L215.07,369.60 L215.24,369.54 L215.40,369.49 L215.57,369.44 L215.74,369.39 L215.90,369.34 L216.07,369.29 L216.24,369.24 L216.40,369.19 L216.57,369.13 L216.74,369.08 L216.91,369.03 L217.07,368.98 L217.24,368.93 L217.41,368.89 L217.57,368.84 L217.74,368.79 L217.91,368.74 L218.07,368.69 L218.24,368.64 L218.41,368.59 L218.57,368.54 L218.74,368.50 L218.91,368.45 L219.07,368.40 L219.24,368.35 L219.41,368.31 L219.57,368.26 L219.74,368.21 L219.91,368.17 L220.07,368.12 L220.24,368.07 L220.41,368.03 L220.57,367.98 L220.74,367.94 L220.91,367.89 L221.07,367.85 L221.24,367.80 L221.41,367.76 L221.57,367.71 L221.74,367.67 L221.91,367.62 L222.07,367.58 L222.24,367.53 L222.41,367.49 L222.57,367.45 L222.74,367.40 L222.91,367.36 L223.07,367.32 L223.24,367.27 L223.41,367.23 L223.58,367.19 L223.74,367.15 L223.91,367.11 L224.08,367.06 L224.24,367.02 L224.41,366.98 L224.58,366.94 L224.74,366.90 L224.91,366.86 L225.08,366.82 L225.24,366.77 L225.41,366.73 L225.58,366.69 L225.74,366.65 L225.91,366.61 L226.08,366.57 L226.24,366.53 L226.41,366.49 L226.58,366.45 L226.74,366.42 L226.91,366.38 L227.08,366.34 L227.24,366.30 L227.41,366.26 L227.58,366.22 L227.74,366.18 L227.91,366.15 L228.08,366.11 L228.24,366.07 L228.41,366.03 L228.58,366.00 L228.74,365.96 L228.91,365.92 L229.08,365.88 L229.24,365.85 L229.41,365.81 L229.58,365.78 L229.74,365.74 L229.91,365.70 L230.08,365.67 L230.25,365.63 L230.41,365.60 L230.58,365.56 L230.75,365.53 L230.91,365.49 L231.08,365.46 L231.25,365.42 L231.41,365.39 L231.58,365.35 L231.75,365.32 L231.91,365.28 L232.08,365.25 L232.25,365.22 L232.41,365.18 L232.58,365.15 L232.75,365.11 L232.91,365.08 L233.08,365.05 L233.25,365.02 L233.41,364.98 L233.58,364.95 L233.75,364.92 L233.91,364.89 L234.08,364.85 L234.25,364.82 L234.41,364.79 L234.58,364.76 L234.75,364.73 L234.91,364.70 L235.08,364.66 L235.25,364.63 L235.41,364.60 L235.58,364.57 L235.75,364.54 L235.91,364.51 L236.08,364.48 L236.25,364.45 L236.41,364.42 L236.58,364.39 L236.75,364.36 L236.92,364.33 L237.08,364.30 L237.25,364.27 L237.42,364.24 L237.58,364.22 L237.75,364.19 L237.92,364.16 L238.08,364.13 L238.25,364.10 L238.42,364.07 L238.58,364.05 L238.75,364.02 L238.92,363.99 L239.08,363.96 L239.25,363.93 L239.42,363.91 L239.58,363.88 L239.75,363.85 L239.92,363.83 L240.08,363.80 L240.25,363.77 L240.42,363.75 L240.58,363.72 L240.75,363.69 L240.92,363.67 L241.08,363.64 L241.25,363.62 L241.42,363.59 L241.58,363.57 L241.75,363.54 L241.92,363.52 L242.08,363.49 L242.25,363.47 L242.42,363.44 L242.58,363.42 L242.75,363.39 L242.92,363.37 L243.08,363.34 L243.25,363.32 L243.42,363.30 L243.59,363.27 L243.75,363.25 L243.92,363.22 L244.09,363.20 L244.25,363.18 L244.42,363.15 L244.59,363.13 L244.75,363.11 L244.92,363.09 L245.09,363.06 L245.25,363.04 L245.42,363.02 L245.59,363.00 L245.75,362.98 L245.92,362.95 L246.09,362.93 L246.25,362.91 L246.42,362.89 L246.59,362.87 L246.75,362.85 L246.92,362.83 L247.09,362.80 L247.25,362.78 L247.42,362.76 L247.59,362.74 L247.75,362.72 L247.92,362.70 L248.09,362.68 L248.25,362.66 L248.42,362.64 L248.59,362.62 L248.75,362.60 L248.92,362.58 L249.09,362.56 L249.25,362.55 L249.42,362.53 L249.59,362.51 L249.75,362.49 L249.92,362.47 L250.09,362.45 L250.26,362.43 L250.42,362.42 L250.59,362.40 L250.76,362.38 L250.92,362.36 L251.09,362.34 L251.26,362.33 L251.42,362.31 L251.59,362.29 L251.76,362.27 L251.92,362.26 L252.09,362.24 L252.26,362.22 L252.42,362.21 L252.59,362.19 L252.76,362.17 L252.92,362.16 L253.09,362.14 L253.26,362.13 L253.42,362.11 L253.59,362.10 L253.76,362.08 L253.92,362.06 L254.09,362.05 L254.26,362.03 L254.42,362.02 L254.59,362.00 L254.76,361.99 L254.92,361.97 L255.09,361.96 L255.26,361.95 L255.42,361.93 L255.59,361.92 L255.76,361.90 L255.92,361.89 L256.09,361.87 L256.26,361.86 L256.42,361.85 L256.59,361.83 L256.76,361.82 L256.93,361.81 L257.09,361.79 L257.26,361.78 L257.43,361.77 L257.59,361.76 L257.76,361.74 L257.93,361.73 L258.09,361.72 L258.26,361.71 L258.43,361.70 L258.59,361.68 L258.76,361.67 L258.93,361.66 L259.09,361.65 L259.26,361.64 L259.43,361.63 L259.59,361.61 L259.76,361.60 L259.93,361.59 L260.09,361.58 L260.26,361.57 L260.43,361.56 L260.59,361.55 L260.76,361.54 L260.93,361.53 L261.09,361.52 L261.26,361.51 L261.43,361.50 L261.59,361.49 L261.76,361.48 L261.93,361.47 L262.09,361.46 L262.26,361.45 L262.43,361.44 L262.59,361.44 L262.76,361.43 L262.93,361.42 L263.09,361.41 L263.26,361.40 L263.43,361.39 L263.60,361.39 L263.76,361.38 L263.93,361.37 L264.10,361.36 L264.26,361.35 L264.43,361.35 L264.60,361.34 L264.76,361.33 L264.93,361.32 L265.10,361.32 L265.26,361.31 L265.43,361.30 L265.60,361.30 L265.76,361.29 L265.93,361.28 L266.10,361.28 L266.26,361.27 L266.43,361.27 L266.60,361.26 L266.76,361.25 L266.93,361.25 L267.10,361.24 L267.26,361.24 L267.43,361.23 L267.60,361.23 L267.76,361.22 L267.93,361.22 L268.10,361.21 L268.26,361.21 L268.43,361.20 L268.60,361.20 L268.76,361.19 L268.93,361.19 L269.10,361.19 L269.26,361.18 L269.43,361.18 L269.60,361.17 L269.76,361.17 L269.93,361.17 L270.10,361.16 L270.26,361.16 L270.43,361.16 L270.60,361.15 L270.77,361.15 L270.93,361.15 L271.10,361.15 L271.27,361.14 L271.43,361.14 L271.60,361.14 L271.77,361.14 L271.93,361.13 L272.10,361.13 L272.27,361.13 L272.43,361.13 L272.60,361.13 L272.77,361.13 L272.93,361.13 L273.10,361.12 L273.27,361.12 L273.43,361.12 L273.60,361.12 L273.77,361.12 L273.93,361.12 L274.10,361.12 L274.27,361.12 L274.43,361.12 L274.60,361.12 L274.77,361.12 L274.93,361.12 L275.10,361.12 L275.27,361.12 L275.43,361.12 L275.60,361.12 L275.77,361.12 L275.93,361.12 L276.10,361.12 L276.27,361.12 L276.43,361.13 L276.60,361.13 L276.77,361.13 L276.94,361.13 L277.10,361.13 L277.27,361.13 L277.44,361.14 L277.60,361.14 L277.77,361.14 L277.94,361.14 L278.10,361.15 L278.27,361.15 L278.44,361.15 L278.60,361.15 L278.77,361.16 L278.94,361.16 L279.10,361.16 L279.27,361.17 L279.44,361.17 L279.60,361.17 L279.77,361.18 L279.94,361.18 L280.10,361.18 L280.27,361.19 L280.44,361.19 L280.60,361.20 L280.77,361.20 L280.94,361.21 L281.10,361.21 L281.27,361.22 L281.44,361.22 L281.60,361.23 L281.77,361.23 L281.94,361.24 L282.10,361.24 L282.27,361.25 L282.44,361.25 L282.60,361.26 L282.77,361.26 L282.94,361.27 L283.10,361.28 L283.27,361.28 L283.44,361.29 L283.61,361.30 L283.77,361.30 L283.94,361.31 L284.11,361.32 L284.27,361.32 L284.44,361.33 L284.61,361.34 L284.77,361.34 L284.94,361.35 L285.11,361.36 L285.27,361.37 L285.44,361.38 L285.61,361.38 L285.77,361.39 L285.94,361.40 L286.11,361.41 L286.27,361.42 L286.44,361.43 L286.61,361.43 L286.77,361.44 L286.94,361.45 L287.11,361.46 L287.27,361.47 L287.44,361.48 L287.61,361.49 L287.77,361.50 L287.94,361.51 L288.11,361.52 L288.27,361.53 L288.44,361.54 L288.61,361.55 L288.77,361.56 L288.94,361.57 L289.11,361.58 L289.27,361.59 L289.44,361.60 L289.61,361.61 L289.77,361.62 L289.94,361.63 L290.11,361.65 L290.27,361.66 L290.44,361.67 L290.61,361.68 L290.78,361.69 L290.94,361.70 L291.11,361.72 L291.28,361.73 L291.44,361.74 L291.61,361.75 L291.78,361.77 L291.94,361.78 L292.11,361.79 L292.28,361.81 L292.44,361.82 L292.61,361.83 L292.78,361.84 L292.94,361.86 L293.11,361.87 L293.28,361.89 L293.44,361.90 L293.61,361.91 L293.78,361.93 L293.94,361.94 L294.11,361.96 L294.28,361.97 L294.44,361.99 L294.61,362.00 L294.78,362.02 L294.94,362.03 L295.11,362.05 L295.28,362.06 L295.44,362.08 L295.61,362.09 L295.78,362.11 L295.94,362.12 L296.11,362.14 L296.28,362.16 L296.44,362.17 L296.61,362.19 L296.78,362.20 L296.94,362.22 L297.11,362.24 L297.28,362.25 L297.45,362.27 L297.61,362.29 L297.78,362.31 L297.95,362.32 L298.11,362.34 L298.28,362.36 L298.45,362.38 L298.61,362.39 L298.78,362.41 L298.95,362.43 L299.11,362.45 L299.28,362.47 L299.45,362.49 L299.61,362.50 L299.78,362.52 L299.95,362.54 L300.11,362.56 L300.28,362.58 L300.45,362.60 L300.61,362.62 L300.78,362.64 L300.95,362.66 L301.11,362.68 L301.28,362.70 L301.45,362.72 L301.61,362.74 L301.78,362.76 L301.95,362.78 L302.11,362.80 L302.28,362.82 L302.45,362.84 L302.61,362.86 L302.78,362.88 L302.95,362.91 L303.11,362.93 L303.28,362.95 L303.45,362.97 L303.62,362.99 L303.78,363.01 L303.95,363.04 L304.12,363.06 L304.28,363.08 L304.45,363.10 L304.62,363.13 L304.78,363.15 L304.95,363.17 L305.12,363.20 L305.28,363.22 L305.45,363.24 L305.62,363.27 L305.78,363.29 L305.95,363.31 L306.12,363.34 L306.28,363.36 L306.45,363.39 L306.62,363.41 L306.78,363.44 L306.95,363.46 L307.12,363.48 L307.28,363.51 L307.45,363.53 L307.62,363.56 L307.78,363.59 L307.95,363.61 L308.12,363.64 L308.28,363.66 L308.45,363.69 L308.62,363.71 L308.78,363.74 L308.95,363.77 L309.12,363.79 L309.28,363.82 L309.45,363.85 L309.62,363.87 L309.78,363.90 L309.95,363.93 L310.12,363.96 L310.28,363.98 L310.45,364.01 L310.62,364.04 L310.79,364.07 L310.95,364.10 L311.12,364.12 L311.29,364.15 L311.45,364.18 L311.62,364.21 L311.79,364.24 L311.95,364.27 L312.12,364.30 L312.29,364.33 L312.45,364.35 L312.62,364.38 L312.79,364.41 L312.95,364.44 L313.12,364.47 L313.29,364.50 L313.45,364.53 L313.62,364.57 L313.79,364.60 L313.95,364.63 L314.12,364.66 L314.29,364.69 L314.45,364.72 L314.62,364.75 L314.79,364.78 L314.95,364.81 L315.12,364.85 L315.29,364.88 L315.45,364.91 L315.62,364.94 L315.79,364.98 L315.95,365.01 L316.12,365.04 L316.29,365.07 L316.45,365.11 L316.62,365.14 L316.79,365.17 L316.96,365.21 L317.12,365.24 L317.29,365.28 L317.46,365.31 L317.62,365.34 L317.79,365.38 L317.96,365.41 L318.12,365.45 L318.29,365.48 L318.46,365.52 L318.62,365.55 L318.79,365.59 L318.96,365.62 L319.12,365.66 L319.29,365.69 L319.46,365.73 L319.62,365.77 L319.79,365.80 L319.96,365.84 L320.12,365.88 L320.29,365.91 L320.46,365.95 L320.62,365.99 L320.79,366.02 L320.96,366.06 L321.12,366.10 L321.29,366.14 L321.46,366.18 L321.62,366.21 L321.79,366.25 L321.96,366.29 L322.12,366.33 L322.29,366.37 L322.46,366.41 L322.62,366.45 L322.79,366.49 L322.96,366.52 L323.12,366.56 L323.29,366.60 L323.46,366.64 L323.62,366.68 L323.79,366.72 L323.96,366.77 L324.13,366.81 L324.29,366.85 L324.46,366.89 L324.63,366.93 L324.79,366.97 L324.96,367.01 L325.13,367.05 L325.29,367.10 L325.46,367.14 L325.63,367.18 L325.79,367.22 L325.96,367.27 L326.13,367.31 L326.29,367.35 L326.46,367.39 L326.63,367.44 L326.79,367.48 L326.96,367.53 L327.13,367.57 L327.29,367.61 L327.46,367.66 L327.63,367.70 L327.79,367.75 L327.96,367.79 L328.13,367.84 L328.29,367.88 L328.46,367.93 L328.63,367.97 L328.79,368.02 L328.96,368.06 L329.13,368.11 L329.29,368.16 L329.46,368.20 L329.63,368.25 L329.79,368.30 L329.96,368.34 L330.13,368.39 L330.30,368.44 L330.46,368.49 L330.63,368.53 L330.80,368.58 L330.96,368.63 L331.13,368.68 L331.30,368.73 L331.46,368.78 L331.63,368.83 L331.80,368.87 L331.96,368.92 L332.13,368.97 L332.30,369.02 L332.46,369.07 L332.63,369.12 L332.80,369.17 L332.96,369.22 L333.13,369.28 L333.30,369.33 L333.46,369.38 L333.63,369.43 L333.80,369.48 L333.96,369.53 L334.13,369.58 L334.30,369.64 L334.46,369.69 L334.63,369.74 L334.80,369.80 L334.96,369.85 L335.13,369.90 L335.30,369.96 L335.46,370.01 L335.63,370.06 L335.80,370.12 L335.96,370.17 L336.13,370.23 L336.30,370.28 L336.46,370.34 L336.63,370.39 L336.80,370.45 L336.96,370.50 L337.13,370.56 L337.30,370.61 L337.47,370.67 L337.63,370.73 L337.80,370.78 L337.97,370.84 L338.13,370.90 L338.30,370.96 L338.47,371.01 L338.63,371.07 L338.80,371.13 L338.97,371.19 L339.13,371.25 L339.30,371.31 L339.47,371.36 L339.63,371.42 L339.80,371.48 L339.97,371.54 L340.13,371.60 L340.30,371.66" fill="none" stroke="#f0863a" stroke-width="1.9" stroke-linejoin="round" stroke-linecap="round" />
<path d="M73.50,349.53 L73.67,349.59 L73.83,349.65 L74.00,349.71 L74.17,349.77 L74.33,349.83 L74.50,349.90 L74.67,349.96 L74.83,350.02 L75.00,350.08 L75.17,350.14 L75.33,350.21 L75.50,350.27 L75.67,350.33 L75.83,350.40 L76.00,350.46 L76.17,350.53 L76.33,350.59 L76.50,350.66 L76.67,350.72 L76.83,350.79 L77.00,350.85 L77.17,350.92 L77.34,350.98 L77.50,351.05 L77.67,351.12 L77.84,351.18 L78.00,351.25 L78.17,351.32 L78.34,351.38 L78.50,351.45 L78.67,351.52 L78.84,351.59 L79.00,351.66 L79.17,351.73 L79.34,351.80 L79.50,351.87 L79.67,351.93 L79.84,352.00 L80.00,352.08 L80.17,352.15 L80.34,352.22 L80.50,352.29 L80.67,352.36 L80.84,352.43 L81.00,352.50 L81.17,352.58 L81.34,352.65 L81.50,352.72 L81.67,352.79 L81.84,352.87 L82.00,352.94 L82.17,353.02 L82.34,353.09 L82.50,353.16 L82.67,353.24 L82.84,353.31 L83.00,353.39 L83.17,353.47 L83.34,353.54 L83.50,353.62 L83.67,353.70 L83.84,353.77 L84.01,353.85 L84.17,353.93 L84.34,354.01 L84.51,354.08 L84.67,354.16 L84.84,354.24 L85.01,354.32 L85.17,354.40 L85.34,354.48 L85.51,354.56 L85.67,354.64 L85.84,354.72 L86.01,354.80 L86.17,354.88 L86.34,354.97 L86.51,355.05 L86.67,355.13 L86.84,355.21 L87.01,355.30 L87.17,355.38 L87.34,355.46 L87.51,355.55 L87.67,355.63 L87.84,355.72 L88.01,355.80 L88.17,355.89 L88.34,355.98 L88.51,356.06 L88.67,356.15 L88.84,356.24 L89.01,356.32 L89.17,356.41 L89.34,356.50 L89.51,356.59 L89.67,356.68 L89.84,356.77 L90.01,356.86 L90.17,356.95 L90.34,357.04 L90.51,357.13 L90.68,357.22 L90.84,357.31 L91.01,357.40 L91.18,357.49 L91.34,357.59 L91.51,357.68 L91.68,357.77 L91.84,357.87 L92.01,357.96 L92.18,358.06 L92.34,358.15 L92.51,358.25 L92.68,358.34 L92.84,358.44 L93.01,358.54 L93.18,358.63 L93.34,358.73 L93.51,358.83 L93.68,358.93 L93.84,359.03 L94.01,359.13 L94.18,359.23 L94.34,359.33 L94.51,359.43 L94.68,359.53 L94.84,359.63 L95.01,359.73 L95.18,359.84 L95.34,359.94 L95.51,360.04 L95.68,360.15 L95.84,360.25 L96.01,360.36 L96.18,360.46 L96.34,360.57 L96.51,360.67 L96.68,360.78 L96.84,360.89 L97.01,360.99 L97.18,361.10 L97.35,361.21 L97.51,361.32 L97.68,361.43 L97.85,361.54 L98.01,361.65 L98.18,361.76 L98.35,361.87 L98.51,361.99 L98.68,362.10 L98.85,362.21 L99.01,362.33 L99.18,362.44 L99.35,362.56 L99.51,362.67 L99.68,362.79 L99.85,362.90 L100.01,363.02 L100.18,363.14 L100.35,363.26 L100.51,363.37 L100.68,363.49 L100.85,363.61 L101.01,363.73 L101.18,363.86 L101.35,363.98 L101.51,364.10 L101.68,364.22 L101.85,364.35 L102.01,364.47 L102.18,364.59 L102.35,364.72 L102.51,364.85 L102.68,364.97 L102.85,365.10 L103.01,365.23 L103.18,365.36 L103.35,365.49 L103.52,365.62 L103.68,365.75 L103.85,365.88 L104.02,366.01 L104.18,366.14 L104.35,366.27 L104.52,366.41 L104.68,366.54 L104.85,366.68 L105.02,366.81 L105.18,366.95 L105.35,367.09 L105.52,367.23 L105.68,367.36 L105.85,367.50 L106.02,367.64 L106.18,367.78 L106.35,367.93 L106.52,368.07 L106.68,368.21 L106.85,368.36 L107.02,368.50 L107.18,368.65 L107.35,368.79 L107.52,368.94 L107.68,369.09 L107.85,369.24 L108.02,369.39 L108.18,369.54 L108.35,369.69 L108.52,369.84 L108.68,369.99 L108.85,370.15 L109.02,370.30 L109.18,370.46 L109.35,370.62 L109.52,370.77 L109.68,370.93 L109.85,371.09 L110.02,371.25 L110.19,371.41 L110.35,371.57 L110.52,371.74 L110.69,371.90 L110.85,372.07 L111.02,372.23 L111.19,372.40 L111.35,372.57 L111.52,372.74 L111.69,372.91 L111.85,373.08 L112.02,373.25 L112.19,373.42 L112.35,373.60 L112.52,373.77 L112.69,373.95 L112.85,374.13 L113.02,374.31 L113.19,374.49 L113.35,374.67 L113.52,374.85 L113.69,375.03 L113.85,375.22 L114.02,375.40 L114.19,375.59 L114.35,375.78 L114.52,375.97 L114.69,376.16 L114.85,376.35 L115.02,376.55 L115.19,376.74 L115.35,376.94 L115.52,377.13 L115.69,377.33 L115.85,377.53 L116.02,377.73 L116.19,377.94 L116.35,378.14 L116.52,378.35 L116.69,378.56 L116.86,378.76 L117.02,378.97 L117.19,379.19 L117.36,379.40 L117.52,379.62 L117.69,379.83 L117.86,380.05 L118.02,380.27 L118.19,380.49 L118.36,380.72 L118.52,380.94 L118.69,381.17 L118.86,381.40 L119.02,381.63 L119.19,381.86 L119.36,382.09 L119.52,382.33 L119.69,382.56 L119.86,382.80 L120.02,383.05 L120.19,383.29 L120.36,383.54 L120.52,383.78 L120.69,384.03 L120.86,384.28 L121.02,384.54 L121.19,384.79 L121.36,385.05 L121.52,385.31 L121.69,385.58 L121.86,385.84 L122.02,386.11 L122.19,386.38 L122.36,386.65 L122.52,386.93 L122.69,387.20 L122.86,387.48 L123.02,387.77 L123.19,388.05 L123.36,388.34 L123.53,388.63 L123.69,388.92 L123.86,389.22 L124.03,389.52 L124.19,389.82 L124.36,390.13 L124.53,390.44 L124.69,390.75 L124.86,391.06 L125.03,391.38 L125.19,391.70 L125.36,392.03 L125.53,392.36 L125.69,392.69 L125.86,393.03 L126.03,393.37 L126.19,393.71 L126.36,394.06 L126.53,394.41 L126.69,394.76 L126.86,395.12 L127.03,395.49 L127.19,395.85 L127.36,396.23 L127.53,396.60 L127.69,396.99 L127.86,397.37 L128.03,397.76 L128.19,398.16 L128.36,398.56 L128.53,398.97 L128.69,399.38 L128.86,399.80 L129.03,400.22 L129.19,400.65 L129.36,401.09 L129.53,401.53 L129.69,401.98 L129.86,402.43 L130.03,402.89 L130.19,403.36 L130.36,403.84 L130.53,404.32 L130.70,404.81 L130.86,405.31 L131.03,405.82 L131.20,406.33 L131.36,406.85 L131.53,407.39 L131.70,407.93 L131.86,408.48 L132.03,409.04 L132.20,409.61 L132.36,410.19 L132.53,410.78 L132.70,411.39 L132.86,412.00 L133.03,412.63 L133.20,413.27 L133.36,413.93 L133.53,414.59 L133.70,415.28 L133.86,415.97 L134.03,416.69 L134.20,417.42 L134.36,418.16 L134.53,418.93 L134.70,419.71 L134.86,420.52 L135.03,421.34 L135.20,422.19 L135.36,423.05 L135.53,423.95 L135.70,424.87 L135.86,425.81 L136.03,426.79 L136.20,427.79 L136.36,428.83 L136.53,429.91 L136.70,431.01 L136.87,432.16 L137.03,433.35 L137.20,434.59 L137.37,435.88 L137.53,437.21 L137.70,438.61 L137.87,440.06 L138.03,441.58 L138.20,443.18 L138.37,444.85 L138.53,446.61 L138.70,448.47 L138.87,450.43 L139.03,452.50 L139.20,454.70 L139.37,457.04 L139.53,459.54 L139.70,462.20 L139.87,465.03 L140.03,468.05 L140.20,471.24 L140.37,474.57 L140.53,477.96 L140.70,481.24 L140.87,484.12 L141.03,486.20 L141.20,487.07 L141.37,486.51 L141.53,484.67 L141.70,481.93 L141.87,478.71 L142.03,475.33 L142.20,471.97 L142.37,468.75 L142.53,465.69 L142.70,462.81 L142.87,460.12 L143.03,457.59 L143.20,455.21 L143.37,452.98 L143.54,450.88 L143.70,448.89 L143.87,447.02 L144.04,445.24 L144.20,443.54 L144.37,441.93 L144.54,440.40 L144.70,438.93 L144.87,437.52 L145.04,436.17 L145.20,434.87 L145.37,433.63 L145.54,432.43 L145.70,431.27 L145.87,430.15 L146.04,429.07 L146.20,428.02 L146.37,427.01 L146.54,426.03 L146.70,425.08 L146.87,424.15 L147.04,423.25 L147.20,422.38 L147.37,421.53 L147.54,420.70 L147.70,419.89 L147.87,419.10 L148.04,418.33 L148.20,417.58 L148.37,416.85 L148.54,416.13 L148.70,415.43 L148.87,414.75 L149.04,414.07 L149.20,413.42 L149.37,412.77 L149.54,412.14 L149.70,411.52 L149.87,410.92 L150.04,410.32 L150.21,409.74 L150.37,409.17 L150.54,408.60 L150.71,408.05 L150.87,407.51 L151.04,406.97 L151.21,406.45 L151.37,405.93 L151.54,405.42 L151.71,404.92 L151.87,404.43 L152.04,403.94 L152.21,403.47 L152.37,403.00 L152.54,402.53 L152.71,402.08 L152.87,401.63 L153.04,401.19 L153.21,400.75 L153.37,400.32 L153.54,399.89 L153.71,399.47 L153.87,399.06 L154.04,398.65 L154.21,398.25 L154.37,397.85 L154.54,397.46 L154.71,397.07 L154.87,396.69 L155.04,396.31 L155.21,395.94 L155.37,395.57 L155.54,395.20 L155.71,394.84 L155.87,394.49 L156.04,394.13 L156.21,393.79 L156.37,393.44 L156.54,393.10 L156.71,392.76 L156.88,392.43 L157.04,392.10 L157.21,391.78 L157.38,391.45 L157.54,391.13 L157.71,390.82 L157.88,390.51 L158.04,390.20 L158.21,389.89 L158.38,389.59 L158.54,389.29 L158.71,388.99 L158.88,388.70 L159.04,388.40 L159.21,388.12 L159.38,387.83 L159.54,387.55 L159.71,387.27 L159.88,386.99 L160.04,386.71 L160.21,386.44 L160.38,386.17 L160.54,385.90 L160.71,385.64 L160.88,385.37 L161.04,385.11 L161.21,384.85 L161.38,384.60 L161.54,384.34 L161.71,384.09 L161.88,383.84 L162.04,383.59 L162.21,383.34 L162.38,383.10 L162.54,382.86 L162.71,382.62 L162.88,382.38 L163.04,382.14 L163.21,381.91 L163.38,381.68 L163.55,381.45 L163.71,381.22 L163.88,380.99 L164.05,380.77 L164.21,380.54 L164.38,380.32 L164.55,380.10 L164.71,379.88 L164.88,379.66 L165.05,379.45 L165.21,379.23 L165.38,379.02 L165.55,378.81 L165.71,378.60 L165.88,378.39 L166.05,378.19 L166.21,377.98 L166.38,377.78 L166.55,377.58 L166.71,377.38 L166.88,377.18 L167.05,376.98 L167.21,376.78 L167.38,376.59 L167.55,376.40 L167.71,376.20 L167.88,376.01 L168.05,375.82 L168.21,375.63 L168.38,375.45 L168.55,375.26 L168.71,375.08 L168.88,374.89 L169.05,374.71 L169.21,374.53 L169.38,374.35 L169.55,374.17 L169.71,373.99 L169.88,373.81 L170.05,373.64 L170.22,373.46 L170.38,373.29 L170.55,373.12 L170.72,372.95 L170.88,372.78 L171.05,372.61 L171.22,372.44 L171.38,372.27 L171.55,372.10 L171.72,371.94 L171.88,371.77 L172.05,371.61 L172.22,371.45 L172.38,371.29 L172.55,371.13 L172.72,370.97 L172.88,370.81 L173.05,370.65 L173.22,370.49 L173.38,370.34 L173.55,370.18 L173.72,370.03 L173.88,369.88 L174.05,369.72 L174.22,369.57 L174.38,369.42 L174.55,369.27 L174.72,369.12 L174.88,368.97 L175.05,368.83 L175.22,368.68 L175.38,368.53 L175.55,368.39 L175.72,368.24 L175.88,368.10 L176.05,367.96 L176.22,367.82 L176.38,367.68 L176.55,367.53 L176.72,367.40 L176.88,367.26 L177.05,367.12 L177.22,366.98 L177.39,366.84 L177.55,366.71 L177.72,366.57 L177.89,366.44 L178.05,366.30 L178.22,366.17 L178.39,366.04 L178.55,365.91 L178.72,365.77 L178.89,365.64 L179.05,365.51 L179.22,365.38 L179.39,365.26 L179.55,365.13 L179.72,365.00 L179.89,364.87 L180.05,364.75 L180.22,364.62 L180.39,364.50 L180.55,364.37 L180.72,364.25 L180.89,364.13 L181.05,364.00 L181.22,363.88 L181.39,363.76 L181.55,363.64 L181.72,363.52 L181.89,363.40 L182.05,363.28 L182.22,363.16 L182.39,363.05 L182.55,362.93 L182.72,362.81 L182.89,362.70 L183.05,362.58 L183.22,362.47 L183.39,362.35 L183.55,362.24 L183.72,362.12 L183.89,362.01 L184.06,361.90 L184.22,361.79 L184.39,361.68 L184.56,361.56 L184.72,361.45 L184.89,361.34 L185.06,361.24 L185.22,361.13 L185.39,361.02 L185.56,360.91 L185.72,360.80 L185.89,360.70 L186.06,360.59 L186.22,360.48 L186.39,360.38 L186.56,360.27 L186.72,360.17 L186.89,360.07 L187.06,359.96 L187.22,359.86 L187.39,359.76 L187.56,359.65 L187.72,359.55 L187.89,359.45 L188.06,359.35 L188.22,359.25 L188.39,359.15 L188.56,359.05 L188.72,358.95 L188.89,358.85 L189.06,358.75 L189.22,358.66 L189.39,358.56 L189.56,358.46 L189.72,358.37 L189.89,358.27 L190.06,358.17 L190.22,358.08 L190.39,357.98 L190.56,357.89 L190.73,357.80 L190.89,357.70 L191.06,357.61 L191.23,357.52 L191.39,357.42 L191.56,357.33 L191.73,357.24 L191.89,357.15 L192.06,357.06 L192.23,356.97 L192.39,356.88 L192.56,356.79 L192.73,356.70 L192.89,356.61 L193.06,356.52 L193.23,356.43 L193.39,356.34 L193.56,356.26 L193.73,356.17 L193.89,356.08 L194.06,356.00 L194.23,355.91 L194.39,355.82 L194.56,355.74 L194.73,355.65 L194.89,355.57 L195.06,355.48 L195.23,355.40 L195.39,355.32 L195.56,355.23 L195.73,355.15 L195.89,355.07 L196.06,354.98 L196.23,354.90 L196.39,354.82 L196.56,354.74 L196.73,354.66 L196.90,354.58 L197.06,354.50 L197.23,354.42 L197.40,354.34 L197.56,354.26 L197.73,354.18 L197.90,354.10 L198.06,354.02 L198.23,353.94 L198.40,353.87 L198.56,353.79 L198.73,353.71 L198.90,353.64 L199.06,353.56 L199.23,353.48 L199.40,353.41 L199.56,353.33 L199.73,353.26 L199.90,353.18 L200.06,353.11 L200.23,353.03 L200.40,352.96 L200.56,352.88 L200.73,352.81 L200.90,352.74 L201.06,352.66 L201.23,352.59 L201.40,352.52 L201.56,352.45 L201.73,352.38 L201.90,352.30 L202.06,352.23 L202.23,352.16 L202.40,352.09 L202.56,352.02 L202.73,351.95 L202.90,351.88 L203.06,351.81 L203.23,351.74 L203.40,351.67 L203.56,351.60 L203.73,351.54 L203.90,351.47 L204.07,351.40 L204.23,351.33 L204.40,351.26 L204.57,351.20 L204.73,351.13 L204.90,351.06 L205.07,351.00 L205.23,350.93 L205.40,350.87 L205.57,350.80 L205.73,350.73 L205.90,350.67 L206.07,350.61 L206.23,350.54 L206.40,350.48 L206.57,350.41 L206.73,350.35 L206.90,350.28 L207.07,350.22 L207.23,350.16 L207.40,350.10 L207.57,350.03 L207.73,349.97 L207.90,349.91 L208.07,349.85 L208.23,349.79 L208.40,349.72 L208.57,349.66 L208.73,349.60 L208.90,349.54 L209.07,349.48 L209.23,349.42 L209.40,349.36 L209.57,349.30 L209.73,349.24 L209.90,349.18 L210.07,349.12 L210.23,349.07 L210.40,349.01 L210.57,348.95 L210.74,348.89 L210.90,348.83 L211.07,348.78 L211.24,348.72 L211.40,348.66 L211.57,348.60 L211.74,348.55 L211.90,348.49 L212.07,348.43 L212.24,348.38 L212.40,348.32 L212.57,348.27 L212.74,348.21 L212.90,348.16 L213.07,348.10 L213.24,348.05 L213.40,347.99 L213.57,347.94 L213.74,347.88 L213.90,347.83 L214.07,347.78 L214.24,347.72 L214.40,347.67 L214.57,347.62 L214.74,347.56 L214.90,347.51 L215.07,347.46 L215.24,347.41 L215.40,347.36 L215.57,347.30 L215.74,347.25 L215.90,347.20 L216.07,347.15 L216.24,347.10 L216.40,347.05 L216.57,347.00 L216.74,346.95 L216.91,346.90 L217.07,346.85 L217.24,346.80 L217.41,346.75 L217.57,346.70 L217.74,346.65 L217.91,346.60 L218.07,346.55 L218.24,346.50 L218.41,346.45 L218.57,346.41 L218.74,346.36 L218.91,346.31 L219.07,346.26 L219.24,346.22 L219.41,346.17 L219.57,346.12 L219.74,346.08 L219.91,346.03 L220.07,345.98 L220.24,345.94 L220.41,345.89 L220.57,345.84 L220.74,345.80 L220.91,345.75 L221.07,345.71 L221.24,345.66 L221.41,345.62 L221.57,345.57 L221.74,345.53 L221.91,345.48 L222.07,345.44 L222.24,345.40 L222.41,345.35 L222.57,345.31 L222.74,345.27 L222.91,345.22 L223.07,345.18 L223.24,345.14 L223.41,345.09 L223.58,345.05 L223.74,345.01 L223.91,344.97 L224.08,344.92 L224.24,344.88 L224.41,344.84 L224.58,344.80 L224.74,344.76 L224.91,344.72 L225.08,344.68 L225.24,344.64 L225.41,344.59 L225.58,344.55 L225.74,344.51 L225.91,344.47 L226.08,344.43 L226.24,344.39 L226.41,344.35 L226.58,344.32 L226.74,344.28 L226.91,344.24 L227.08,344.20 L227.24,344.16 L227.41,344.12 L227.58,344.08 L227.74,344.04 L227.91,344.01 L228.08,343.97 L228.24,343.93 L228.41,343.89 L228.58,343.86 L228.74,343.82 L228.91,343.78 L229.08,343.74 L229.24,343.71 L229.41,343.67 L229.58,343.63 L229.74,343.60 L229.91,343.56 L230.08,343.53 L230.25,343.49 L230.41,343.46 L230.58,343.42 L230.75,343.38 L230.91,343.35 L231.08,343.31 L231.25,343.28 L231.41,343.25 L231.58,343.21 L231.75,343.18 L231.91,343.14 L232.08,343.11 L232.25,343.07 L232.41,343.04 L232.58,343.01 L232.75,342.97 L232.91,342.94 L233.08,342.91 L233.25,342.88 L233.41,342.84 L233.58,342.81 L233.75,342.78 L233.91,342.75 L234.08,342.71 L234.25,342.68 L234.41,342.65 L234.58,342.62 L234.75,342.59 L234.91,342.56 L235.08,342.52 L235.25,342.49 L235.41,342.46 L235.58,342.43 L235.75,342.40 L235.91,342.37 L236.08,342.34 L236.25,342.31 L236.41,342.28 L236.58,342.25 L236.75,342.22 L236.92,342.19 L237.08,342.16 L237.25,342.13 L237.42,342.10 L237.58,342.07 L237.75,342.05 L237.92,342.02 L238.08,341.99 L238.25,341.96 L238.42,341.93 L238.58,341.90 L238.75,341.88 L238.92,341.85 L239.08,341.82 L239.25,341.79 L239.42,341.77 L239.58,341.74 L239.75,341.71 L239.92,341.68 L240.08,341.66 L240.25,341.63 L240.42,341.61 L240.58,341.58 L240.75,341.55 L240.92,341.53 L241.08,341.50 L241.25,341.47 L241.42,341.45 L241.58,341.42 L241.75,341.40 L241.92,341.37 L242.08,341.35 L242.25,341.32 L242.42,341.30 L242.58,341.27 L242.75,341.25 L242.92,341.23 L243.08,341.20 L243.25,341.18 L243.42,341.15 L243.59,341.13 L243.75,341.11 L243.92,341.08 L244.09,341.06 L244.25,341.04 L244.42,341.01 L244.59,340.99 L244.75,340.97 L244.92,340.94 L245.09,340.92 L245.25,340.90 L245.42,340.88 L245.59,340.86 L245.75,340.83 L245.92,340.81 L246.09,340.79 L246.25,340.77 L246.42,340.75 L246.59,340.73 L246.75,340.70 L246.92,340.68 L247.09,340.66 L247.25,340.64 L247.42,340.62 L247.59,340.60 L247.75,340.58 L247.92,340.56 L248.09,340.54 L248.25,340.52 L248.42,340.50 L248.59,340.48 L248.75,340.46 L248.92,340.44 L249.09,340.42 L249.25,340.40 L249.42,340.38 L249.59,340.37 L249.75,340.35 L249.92,340.33 L250.09,340.31 L250.26,340.29 L250.42,340.27 L250.59,340.26 L250.76,340.24 L250.92,340.22 L251.09,340.20 L251.26,340.18 L251.42,340.17 L251.59,340.15 L251.76,340.13 L251.92,340.12 L252.09,340.10 L252.26,340.08 L252.42,340.07 L252.59,340.05 L252.76,340.03 L252.92,340.02 L253.09,340.00 L253.26,339.98 L253.42,339.97 L253.59,339.95 L253.76,339.94 L253.92,339.92 L254.09,339.91 L254.26,339.89 L254.42,339.88 L254.59,339.86 L254.76,339.85 L254.92,339.83 L255.09,339.82 L255.26,339.80 L255.42,339.79 L255.59,339.77 L255.76,339.76 L255.92,339.75 L256.09,339.73 L256.26,339.72 L256.42,339.71 L256.59,339.69 L256.76,339.68 L256.93,339.67 L257.09,339.65 L257.26,339.64 L257.43,339.63 L257.59,339.61 L257.76,339.60 L257.93,339.59 L258.09,339.58 L258.26,339.56 L258.43,339.55 L258.59,339.54 L258.76,339.53 L258.93,339.52 L259.09,339.51 L259.26,339.49 L259.43,339.48 L259.59,339.47 L259.76,339.46 L259.93,339.45 L260.09,339.44 L260.26,339.43 L260.43,339.42 L260.59,339.41 L260.76,339.40 L260.93,339.39 L261.09,339.38 L261.26,339.37 L261.43,339.36 L261.59,339.35 L261.76,339.34 L261.93,339.33 L262.09,339.32 L262.26,339.31 L262.43,339.30 L262.59,339.29 L262.76,339.28 L262.93,339.28 L263.09,339.27 L263.26,339.26 L263.43,339.25 L263.60,339.24 L263.76,339.23 L263.93,339.23 L264.10,339.22 L264.26,339.21 L264.43,339.20 L264.60,339.20 L264.76,339.19 L264.93,339.18 L265.10,339.17 L265.26,339.17 L265.43,339.16 L265.60,339.15 L265.76,339.15 L265.93,339.14 L266.10,339.14 L266.26,339.13 L266.43,339.12 L266.60,339.12 L266.76,339.11 L266.93,339.11 L267.10,339.10 L267.26,339.09 L267.43,339.09 L267.60,339.08 L267.76,339.08 L267.93,339.07 L268.10,339.07 L268.26,339.06 L268.43,339.06 L268.60,339.06 L268.76,339.05 L268.93,339.05 L269.10,339.04 L269.26,339.04 L269.43,339.03 L269.60,339.03 L269.76,339.03 L269.93,339.02 L270.10,339.02 L270.26,339.02 L270.43,339.01 L270.60,339.01 L270.77,339.01 L270.93,339.01 L271.10,339.00 L271.27,339.00 L271.43,339.00 L271.60,339.00 L271.77,338.99 L271.93,338.99 L272.10,338.99 L272.27,338.99 L272.43,338.99 L272.60,338.98 L272.77,338.98 L272.93,338.98 L273.10,338.98 L273.27,338.98 L273.43,338.98 L273.60,338.98 L273.77,338.98 L273.93,338.98 L274.10,338.98 L274.27,338.98 L274.43,338.98 L274.60,338.98 L274.77,338.98 L274.93,338.98 L275.10,338.98 L275.27,338.98 L275.43,338.98 L275.60,338.98 L275.77,338.98 L275.93,338.98 L276.10,338.98 L276.27,338.98 L276.43,338.98 L276.60,338.98 L276.77,338.99 L276.94,338.99 L277.10,338.99 L277.27,338.99 L277.44,338.99 L277.60,339.00 L277.77,339.00 L277.94,339.00 L278.10,339.00 L278.27,339.01 L278.44,339.01 L278.60,339.01 L278.77,339.01 L278.94,339.02 L279.10,339.02 L279.27,339.02 L279.44,339.03 L279.60,339.03 L279.77,339.03 L279.94,339.04 L280.10,339.04 L280.27,339.05 L280.44,339.05 L280.60,339.05 L280.77,339.06 L280.94,339.06 L281.10,339.07 L281.27,339.07 L281.44,339.08 L281.60,339.08 L281.77,339.09 L281.94,339.09 L282.10,339.10 L282.27,339.10 L282.44,339.11 L282.60,339.12 L282.77,339.12 L282.94,339.13 L283.10,339.13 L283.27,339.14 L283.44,339.15 L283.61,339.15 L283.77,339.16 L283.94,339.17 L284.11,339.17 L284.27,339.18 L284.44,339.19 L284.61,339.19 L284.77,339.20 L284.94,339.21 L285.11,339.22 L285.27,339.22 L285.44,339.23 L285.61,339.24 L285.77,339.25 L285.94,339.26 L286.11,339.27 L286.27,339.27 L286.44,339.28 L286.61,339.29 L286.77,339.30 L286.94,339.31 L287.11,339.32 L287.27,339.33 L287.44,339.34 L287.61,339.35 L287.77,339.36 L287.94,339.37 L288.11,339.38 L288.27,339.39 L288.44,339.40 L288.61,339.41 L288.77,339.42 L288.94,339.43 L289.11,339.44 L289.27,339.45 L289.44,339.46 L289.61,339.47 L289.77,339.48 L289.94,339.49 L290.11,339.50 L290.27,339.51 L290.44,339.53 L290.61,339.54 L290.78,339.55 L290.94,339.56 L291.11,339.57 L291.28,339.59 L291.44,339.60 L291.61,339.61 L291.78,339.62 L291.94,339.64 L292.11,339.65 L292.28,339.66 L292.44,339.68 L292.61,339.69 L292.78,339.70 L292.94,339.72 L293.11,339.73 L293.28,339.74 L293.44,339.76 L293.61,339.77 L293.78,339.79 L293.94,339.80 L294.11,339.81 L294.28,339.83 L294.44,339.84 L294.61,339.86 L294.78,339.87 L294.94,339.89 L295.11,339.90 L295.28,339.92 L295.44,339.93 L295.61,339.95 L295.78,339.96 L295.94,339.98 L296.11,340.00 L296.28,340.01 L296.44,340.03 L296.61,340.05 L296.78,340.06 L296.94,340.08 L297.11,340.09 L297.28,340.11 L297.45,340.13 L297.61,340.15 L297.78,340.16 L297.95,340.18 L298.11,340.20 L298.28,340.22 L298.45,340.23 L298.61,340.25 L298.78,340.27 L298.95,340.29 L299.11,340.31 L299.28,340.32 L299.45,340.34 L299.61,340.36 L299.78,340.38 L299.95,340.40 L300.11,340.42 L300.28,340.44 L300.45,340.46 L300.61,340.48 L300.78,340.50 L300.95,340.52 L301.11,340.54 L301.28,340.56 L301.45,340.58 L301.61,340.60 L301.78,340.62 L301.95,340.64 L302.11,340.66 L302.28,340.68 L302.45,340.70 L302.61,340.72 L302.78,340.74 L302.95,340.76 L303.11,340.79 L303.28,340.81 L303.45,340.83 L303.62,340.85 L303.78,340.87 L303.95,340.89 L304.12,340.92 L304.28,340.94 L304.45,340.96 L304.62,340.98 L304.78,341.01 L304.95,341.03 L305.12,341.05 L305.28,341.08 L305.45,341.10 L305.62,341.12 L305.78,341.15 L305.95,341.17 L306.12,341.20 L306.28,341.22 L306.45,341.24 L306.62,341.27 L306.78,341.29 L306.95,341.32 L307.12,341.34 L307.28,341.37 L307.45,341.39 L307.62,341.42 L307.78,341.44 L307.95,341.47 L308.12,341.49 L308.28,341.52 L308.45,341.55 L308.62,341.57 L308.78,341.60 L308.95,341.63 L309.12,341.65 L309.28,341.68 L309.45,341.71 L309.62,341.73 L309.78,341.76 L309.95,341.79 L310.12,341.81 L310.28,341.84 L310.45,341.87 L310.62,341.90 L310.79,341.93 L310.95,341.95 L311.12,341.98 L311.29,342.01 L311.45,342.04 L311.62,342.07 L311.79,342.10 L311.95,342.13 L312.12,342.15 L312.29,342.18 L312.45,342.21 L312.62,342.24 L312.79,342.27 L312.95,342.30 L313.12,342.33 L313.29,342.36 L313.45,342.39 L313.62,342.42 L313.79,342.46 L313.95,342.49 L314.12,342.52 L314.29,342.55 L314.45,342.58 L314.62,342.61 L314.79,342.64 L314.95,342.67 L315.12,342.71 L315.29,342.74 L315.45,342.77 L315.62,342.80 L315.79,342.84 L315.95,342.87 L316.12,342.90 L316.29,342.93 L316.45,342.97 L316.62,343.00 L316.79,343.03 L316.96,343.07 L317.12,343.10 L317.29,343.13 L317.46,343.17 L317.62,343.20 L317.79,343.24 L317.96,343.27 L318.12,343.31 L318.29,343.34 L318.46,343.38 L318.62,343.41 L318.79,343.45 L318.96,343.48 L319.12,343.52 L319.29,343.55 L319.46,343.59 L319.62,343.63 L319.79,343.66 L319.96,343.70 L320.12,343.74 L320.29,343.77 L320.46,343.81 L320.62,343.85 L320.79,343.88 L320.96,343.92 L321.12,343.96 L321.29,344.00 L321.46,344.04 L321.62,344.07 L321.79,344.11 L321.96,344.15 L322.12,344.19 L322.29,344.23 L322.46,344.27 L322.62,344.31 L322.79,344.35 L322.96,344.39 L323.12,344.42 L323.29,344.46 L323.46,344.50 L323.62,344.55 L323.79,344.59 L323.96,344.63 L324.13,344.67 L324.29,344.71 L324.46,344.75 L324.63,344.79 L324.79,344.83 L324.96,344.87 L325.13,344.91 L325.29,344.96 L325.46,345.00 L325.63,345.04 L325.79,345.08 L325.96,345.13 L326.13,345.17 L326.29,345.21 L326.46,345.26 L326.63,345.30 L326.79,345.34 L326.96,345.39 L327.13,345.43 L327.29,345.47 L327.46,345.52 L327.63,345.56 L327.79,345.61 L327.96,345.65 L328.13,345.70 L328.29,345.74 L328.46,345.79 L328.63,345.83 L328.79,345.88 L328.96,345.93 L329.13,345.97 L329.29,346.02 L329.46,346.06 L329.63,346.11 L329.79,346.16 L329.96,346.21 L330.13,346.25 L330.30,346.30 L330.46,346.35 L330.63,346.40 L330.80,346.44 L330.96,346.49 L331.13,346.54 L331.30,346.59 L331.46,346.64 L331.63,346.69 L331.80,346.74 L331.96,346.79 L332.13,346.84 L332.30,346.89 L332.46,346.94 L332.63,346.99 L332.80,347.04 L332.96,347.09 L333.13,347.14 L333.30,347.19 L333.46,347.24 L333.63,347.29 L333.80,347.34 L333.96,347.40 L334.13,347.45 L334.30,347.50 L334.46,347.55 L334.63,347.61 L334.80,347.66 L334.96,347.71 L335.13,347.76 L335.30,347.82 L335.46,347.87 L335.63,347.93 L335.80,347.98 L335.96,348.03 L336.13,348.09 L336.30,348.14 L336.46,348.20 L336.63,348.25 L336.80,348.31 L336.96,348.37 L337.13,348.42 L337.30,348.48 L337.47,348.53 L337.63,348.59 L337.80,348.65 L337.97,348.71 L338.13,348.76 L338.30,348.82 L338.47,348.88 L338.63,348.94 L338.80,348.99 L338.97,349.05 L339.13,349.11 L339.30,349.17 L339.47,349.23 L339.63,349.29 L339.80,349.35 L339.97,349.41 L340.13,349.47 L340.30,349.53" fill="none" stroke="#dc5c16" stroke-width="1.9" stroke-linejoin="round" stroke-linecap="round" />
<circle cx="87.80" cy="427.90" r="3.8" fill="#fde9db" stroke="#f9d5bb" stroke-width="1.0"/>
<circle cx="98.70" cy="426.30" r="3.8" fill="#fde9db" stroke="#f9d5bb" stroke-width="1.0"/>
<circle cx="140.60" cy="429.70" r="3.8" fill="#fde9db" stroke="#f9d5bb" stroke-width="1.0"/>
<circle cx="184.30" cy="432.20" r="3.8" fill="#fde9db" stroke="#f9d5bb" stroke-width="1.0"/>
<circle cx="195.00" cy="432.80" r="3.8" fill="#fde9db" stroke="#f9d5bb" stroke-width="1.0"/>
<circle cx="227.00" cy="426.80" r="3.8" fill="#fde9db" stroke="#f9d5bb" stroke-width="1.0"/>
<circle cx="237.80" cy="426.40" r="3.8" fill="#fde9db" stroke="#f9d5bb" stroke-width="1.0"/>
<circle cx="269.70" cy="426.40" r="3.8" fill="#fde9db" stroke="#f9d5bb" stroke-width="1.0"/>
<circle cx="280.50" cy="425.70" r="3.8" fill="#fde9db" stroke="#f9d5bb" stroke-width="1.0"/>
<circle cx="312.60" cy="425.70" r="3.8" fill="#fde9db" stroke="#f9d5bb" stroke-width="1.0"/>
<circle cx="323.40" cy="425.70" r="3.8" fill="#fde9db" stroke="#f9d5bb" stroke-width="1.0"/>
<circle cx="87.80" cy="396.20" r="3.8" fill="#f9cdb2" stroke="#f3a063" stroke-width="1.0"/>
<circle cx="98.70" cy="403.60" r="3.8" fill="#f9cdb2" stroke="#f3a063" stroke-width="1.0"/>
<circle cx="133.00" cy="448.20" r="3.8" fill="#f9cdb2" stroke="#f3a063" stroke-width="1.0"/>
<circle cx="149.60" cy="449.40" r="3.8" fill="#f9cdb2" stroke="#f3a063" stroke-width="1.0"/>
<circle cx="145.60" cy="459.30" r="3.8" fill="#f9cdb2" stroke="#f3a063" stroke-width="1.0"/>
<circle cx="149.60" cy="432.40" r="3.8" fill="#f9cdb2" stroke="#f3a063" stroke-width="1.0"/>
<circle cx="155.00" cy="434.20" r="3.8" fill="#f9cdb2" stroke="#f3a063" stroke-width="1.0"/>
<circle cx="160.00" cy="426.90" r="3.8" fill="#f9cdb2" stroke="#f3a063" stroke-width="1.0"/>
<circle cx="165.50" cy="424.50" r="3.8" fill="#f9cdb2" stroke="#f3a063" stroke-width="1.0"/>
<circle cx="184.30" cy="403.60" r="3.8" fill="#f9cdb2" stroke="#f3a063" stroke-width="1.0"/>
<circle cx="195.00" cy="395.80" r="3.8" fill="#f9cdb2" stroke="#f3a063" stroke-width="1.0"/>
<circle cx="227.00" cy="385.80" r="3.8" fill="#f9cdb2" stroke="#f3a063" stroke-width="1.0"/>
<circle cx="237.80" cy="383.00" r="3.8" fill="#f9cdb2" stroke="#f3a063" stroke-width="1.0"/>
<circle cx="269.70" cy="380.40" r="3.8" fill="#f9cdb2" stroke="#f3a063" stroke-width="1.0"/>
<circle cx="280.50" cy="382.10" r="3.8" fill="#f9cdb2" stroke="#f3a063" stroke-width="1.0"/>
<circle cx="312.60" cy="384.30" r="3.8" fill="#f9cdb2" stroke="#f3a063" stroke-width="1.0"/>
<circle cx="323.40" cy="386.90" r="3.8" fill="#f9cdb2" stroke="#f3a063" stroke-width="1.0"/>
<circle cx="87.80" cy="377.50" r="3.8" fill="#f6bf9f" stroke="#ec8038" stroke-width="1.0"/>
<circle cx="98.70" cy="385.40" r="3.8" fill="#f6bf9f" stroke="#ec8038" stroke-width="1.0"/>
<circle cx="132.90" cy="433.80" r="3.8" fill="#f6bf9f" stroke="#ec8038" stroke-width="1.0"/>
<circle cx="144.20" cy="453.00" r="3.8" fill="#f6bf9f" stroke="#ec8038" stroke-width="1.0"/>
<circle cx="138.40" cy="463.80" r="3.8" fill="#f6bf9f" stroke="#ec8038" stroke-width="1.0"/>
<circle cx="141.50" cy="472.80" r="3.8" fill="#f6bf9f" stroke="#ec8038" stroke-width="1.0"/>
<circle cx="154.60" cy="416.60" r="3.8" fill="#f6bf9f" stroke="#ec8038" stroke-width="1.0"/>
<circle cx="160.00" cy="410.70" r="3.8" fill="#f6bf9f" stroke="#ec8038" stroke-width="1.0"/>
<circle cx="165.50" cy="397.60" r="3.8" fill="#f6bf9f" stroke="#ec8038" stroke-width="1.0"/>
<circle cx="184.30" cy="378.40" r="3.8" fill="#f6bf9f" stroke="#ec8038" stroke-width="1.0"/>
<circle cx="195.00" cy="377.50" r="3.8" fill="#f6bf9f" stroke="#ec8038" stroke-width="1.0"/>
<circle cx="227.00" cy="365.30" r="3.8" fill="#f6bf9f" stroke="#ec8038" stroke-width="1.0"/>
<circle cx="237.80" cy="360.60" r="3.8" fill="#f6bf9f" stroke="#ec8038" stroke-width="1.0"/>
<circle cx="269.70" cy="359.30" r="3.8" fill="#f6bf9f" stroke="#ec8038" stroke-width="1.0"/>
<circle cx="280.50" cy="356.70" r="3.8" fill="#f6bf9f" stroke="#ec8038" stroke-width="1.0"/>
<circle cx="312.60" cy="359.50" r="3.8" fill="#f6bf9f" stroke="#ec8038" stroke-width="1.0"/>
<circle cx="323.40" cy="365.70" r="3.8" fill="#f6bf9f" stroke="#ec8038" stroke-width="1.0"/>
<circle cx="87.80" cy="354.70" r="3.8" fill="#f0ae8e" stroke="#d85c1c" stroke-width="1.0"/>
<circle cx="98.70" cy="360.70" r="3.8" fill="#f0ae8e" stroke="#d85c1c" stroke-width="1.0"/>
<circle cx="133.20" cy="413.50" r="3.8" fill="#f0ae8e" stroke="#d85c1c" stroke-width="1.0"/>
<circle cx="137.90" cy="456.10" r="3.8" fill="#f0ae8e" stroke="#d85c1c" stroke-width="1.0"/>
<circle cx="141.50" cy="467.40" r="3.8" fill="#f0ae8e" stroke="#d85c1c" stroke-width="1.0"/>
<circle cx="143.80" cy="433.30" r="3.8" fill="#f0ae8e" stroke="#d85c1c" stroke-width="1.0"/>
<circle cx="149.20" cy="410.20" r="3.8" fill="#f0ae8e" stroke="#d85c1c" stroke-width="1.0"/>
<circle cx="154.60" cy="393.70" r="3.8" fill="#f0ae8e" stroke="#d85c1c" stroke-width="1.0"/>
<circle cx="160.00" cy="383.80" r="3.8" fill="#f0ae8e" stroke="#d85c1c" stroke-width="1.0"/>
<circle cx="165.50" cy="372.50" r="3.8" fill="#f0ae8e" stroke="#d85c1c" stroke-width="1.0"/>
<circle cx="184.30" cy="359.70" r="3.8" fill="#f0ae8e" stroke="#d85c1c" stroke-width="1.0"/>
<circle cx="195.00" cy="354.30" r="3.8" fill="#f0ae8e" stroke="#d85c1c" stroke-width="1.0"/>
<circle cx="227.00" cy="343.30" r="3.8" fill="#f0ae8e" stroke="#d85c1c" stroke-width="1.0"/>
<circle cx="237.80" cy="339.40" r="3.8" fill="#f0ae8e" stroke="#d85c1c" stroke-width="1.0"/>
<circle cx="269.70" cy="335.80" r="3.8" fill="#f0ae8e" stroke="#d85c1c" stroke-width="1.0"/>
<circle cx="280.50" cy="334.70" r="3.8" fill="#f0ae8e" stroke="#d85c1c" stroke-width="1.0"/>
<circle cx="312.60" cy="343.10" r="3.8" fill="#f0ae8e" stroke="#d85c1c" stroke-width="1.0"/>
<circle cx="323.40" cy="346.30" r="3.8" fill="#f0ae8e" stroke="#d85c1c" stroke-width="1.0"/>
</g>
<rect x="208.3" y="432.5" width="97.9" height="60.4" fill="#fff" stroke="#555555" stroke-width="1"/>
<clipPath id="clipI"><rect x="208.3" y="432.5" width="97.9" height="60.4"/></clipPath>
<g clip-path="url(#clipI)">
<path d="M198.51,423.99 L198.66,424.05 L198.80,424.11 L198.95,424.17 L199.10,424.23 L199.24,424.29 L199.39,424.35 L199.54,424.41 L199.68,424.47 L199.83,424.53 L199.98,424.59 L200.13,424.65 L200.27,424.71 L200.42,424.77 L200.57,424.84 L200.71,424.90 L200.86,424.96 L201.01,425.02 L201.15,425.08 L201.30,425.15 L201.45,425.21 L201.59,425.27 L201.74,425.33 L201.89,425.40 L202.03,425.46 L202.18,425.52 L202.33,425.59 L202.47,425.65 L202.62,425.71 L202.77,425.78 L202.92,425.84 L203.06,425.91 L203.21,425.97 L203.36,426.04 L203.50,426.10 L203.65,426.17 L203.80,426.23 L203.94,426.30 L204.09,426.36 L204.24,426.43 L204.38,426.49 L204.53,426.56 L204.68,426.62 L204.82,426.69 L204.97,426.76 L205.12,426.82 L205.27,426.89 L205.41,426.96 L205.56,427.02 L205.71,427.09 L205.85,427.16 L206.00,427.23 L206.15,427.29 L206.29,427.36 L206.44,427.43 L206.59,427.50 L206.73,427.57 L206.88,427.64 L207.03,427.71 L207.17,427.77 L207.32,427.84 L207.47,427.91 L207.61,427.98 L207.76,428.05 L207.91,428.12 L208.06,428.19 L208.20,428.26 L208.35,428.33 L208.50,428.40 L208.64,428.48 L208.79,428.55 L208.94,428.62 L209.08,428.69 L209.23,428.76 L209.38,428.83 L209.52,428.90 L209.67,428.98 L209.82,429.05 L209.96,429.12 L210.11,429.20 L210.26,429.27 L210.40,429.34 L210.55,429.42 L210.70,429.49 L210.85,429.56 L210.99,429.64 L211.14,429.71 L211.29,429.79 L211.43,429.86 L211.58,429.94 L211.73,430.01 L211.87,430.09 L212.02,430.16 L212.17,430.24 L212.31,430.31 L212.46,430.39 L212.61,430.47 L212.75,430.54 L212.90,430.62 L213.05,430.70 L213.20,430.78 L213.34,430.85 L213.49,430.93 L213.64,431.01 L213.78,431.09 L213.93,431.17 L214.08,431.24 L214.22,431.32 L214.37,431.40 L214.52,431.48 L214.66,431.56 L214.81,431.64 L214.96,431.72 L215.10,431.80 L215.25,431.88 L215.40,431.97 L215.54,432.05 L215.69,432.13 L215.84,432.21 L215.99,432.29 L216.13,432.37 L216.28,432.46 L216.43,432.54 L216.57,432.62 L216.72,432.71 L216.87,432.79 L217.01,432.87 L217.16,432.96 L217.31,433.04 L217.45,433.13 L217.60,433.21 L217.75,433.30 L217.89,433.38 L218.04,433.47 L218.19,433.55 L218.33,433.64 L218.48,433.73 L218.63,433.81 L218.78,433.90 L218.92,433.99 L219.07,434.08 L219.22,434.16 L219.36,434.25 L219.51,434.34 L219.66,434.43 L219.80,434.52 L219.95,434.61 L220.10,434.70 L220.24,434.79 L220.39,434.88 L220.54,434.97 L220.68,435.06 L220.83,435.15 L220.98,435.24 L221.12,435.33 L221.27,435.43 L221.42,435.52 L221.57,435.61 L221.71,435.71 L221.86,435.80 L222.01,435.89 L222.15,435.99 L222.30,436.08 L222.45,436.18 L222.59,436.27 L222.74,436.37 L222.89,436.46 L223.03,436.56 L223.18,436.66 L223.33,436.75 L223.47,436.85 L223.62,436.95 L223.77,437.05 L223.92,437.14 L224.06,437.24 L224.21,437.34 L224.36,437.44 L224.50,437.54 L224.65,437.64 L224.80,437.74 L224.94,437.84 L225.09,437.94 L225.24,438.05 L225.38,438.15 L225.53,438.25 L225.68,438.35 L225.82,438.46 L225.97,438.56 L226.12,438.66 L226.26,438.77 L226.41,438.87 L226.56,438.98 L226.71,439.08 L226.85,439.19 L227.00,439.30 L227.15,439.40 L227.29,439.51 L227.44,439.62 L227.59,439.73 L227.73,439.84 L227.88,439.94 L228.03,440.05 L228.17,440.16 L228.32,440.27 L228.47,440.39 L228.61,440.50 L228.76,440.61 L228.91,440.72 L229.05,440.83 L229.20,440.95 L229.35,441.06 L229.50,441.17 L229.64,441.29 L229.79,441.40 L229.94,441.52 L230.08,441.63 L230.23,441.75 L230.38,441.87 L230.52,441.99 L230.67,442.10 L230.82,442.22 L230.96,442.34 L231.11,442.46 L231.26,442.58 L231.40,442.70 L231.55,442.82 L231.70,442.94 L231.84,443.07 L231.99,443.19 L232.14,443.31 L232.29,443.44 L232.43,443.56 L232.58,443.68 L232.73,443.81 L232.87,443.94 L233.02,444.06 L233.17,444.19 L233.31,444.32 L233.46,444.45 L233.61,444.58 L233.75,444.70 L233.90,444.83 L234.05,444.97 L234.19,445.10 L234.34,445.23 L234.49,445.36 L234.64,445.49 L234.78,445.63 L234.93,445.76 L235.08,445.90 L235.22,446.03 L235.37,446.17 L235.52,446.31 L235.66,446.45 L235.81,446.58 L235.96,446.72 L236.10,446.86 L236.25,447.00 L236.40,447.14 L236.54,447.29 L236.69,447.43 L236.84,447.57 L236.98,447.72 L237.13,447.86 L237.28,448.01 L237.43,448.15 L237.57,448.30 L237.72,448.45 L237.87,448.60 L238.01,448.75 L238.16,448.90 L238.31,449.05 L238.45,449.20 L238.60,449.35 L238.75,449.51 L238.89,449.66 L239.04,449.81 L239.19,449.97 L239.33,450.13 L239.48,450.28 L239.63,450.44 L239.77,450.60 L239.92,450.76 L240.07,450.92 L240.22,451.08 L240.36,451.25 L240.51,451.41 L240.66,451.58 L240.80,451.74 L240.95,451.91 L241.10,452.07 L241.24,452.24 L241.39,452.41 L241.54,452.58 L241.68,452.75 L241.83,452.93 L241.98,453.10 L242.12,453.27 L242.27,453.45 L242.42,453.62 L242.56,453.80 L242.71,453.98 L242.86,454.16 L243.01,454.34 L243.15,454.52 L243.30,454.70 L243.45,454.89 L243.59,455.07 L243.74,455.26 L243.89,455.44 L244.03,455.63 L244.18,455.82 L244.33,456.01 L244.47,456.20 L244.62,456.40 L244.77,456.59 L244.91,456.79 L245.06,456.98 L245.21,457.18 L245.36,457.38 L245.50,457.58 L245.65,457.78 L245.80,457.98 L245.94,458.18 L246.09,458.39 L246.24,458.60 L246.38,458.80 L246.53,459.01 L246.68,459.22 L246.82,459.43 L246.97,459.65 L247.12,459.86 L247.26,460.08 L247.41,460.29 L247.56,460.51 L247.70,460.73 L247.85,460.95 L248.00,461.17 L248.15,461.40 L248.29,461.62 L248.44,461.85 L248.59,462.08 L248.73,462.31 L248.88,462.54 L249.03,462.77 L249.17,463.00 L249.32,463.24 L249.47,463.47 L249.61,463.71 L249.76,463.95 L249.91,464.19 L250.05,464.43 L250.20,464.68 L250.35,464.92 L250.49,465.17 L250.64,465.42 L250.79,465.67 L250.94,465.92 L251.08,466.17 L251.23,466.42 L251.38,466.68 L251.52,466.93 L251.67,467.19 L251.82,467.45 L251.96,467.71 L252.11,467.97 L252.26,468.23 L252.40,468.49 L252.55,468.76 L252.70,469.02 L252.84,469.29 L252.99,469.56 L253.14,469.83 L253.29,470.10 L253.43,470.37 L253.58,470.64 L253.73,470.91 L253.87,471.18 L254.02,471.46 L254.17,471.73 L254.31,472.01 L254.46,472.28 L254.61,472.55 L254.75,472.83 L254.90,473.10 L255.05,473.38 L255.19,473.65 L255.34,473.92 L255.49,474.20 L255.63,474.47 L255.78,474.74 L255.93,475.01 L256.08,475.28 L256.22,475.55 L256.37,475.81 L256.52,476.08 L256.66,476.34 L256.81,476.60 L256.96,476.86 L257.10,477.11 L257.25,477.36 L257.40,477.61 L257.54,477.85 L257.69,478.09 L257.84,478.33 L257.98,478.56 L258.13,478.78 L258.28,479.00 L258.42,479.22 L258.57,479.43 L258.72,479.63 L258.87,479.82 L259.01,480.01 L259.16,480.20 L259.31,480.37 L259.45,480.54 L259.60,480.69 L259.75,480.84 L259.89,480.98 L260.04,481.11 L260.19,481.23 L260.33,481.34 L260.48,481.45 L260.63,481.54 L260.77,481.62 L260.92,481.69 L261.07,481.74 L261.21,481.79 L261.36,481.83 L261.51,481.85 L261.66,481.87 L261.80,481.87 L261.95,481.86 L262.10,481.84 L262.24,481.80 L262.39,481.76 L262.54,481.71 L262.68,481.64 L262.83,481.56 L262.98,481.48 L263.12,481.38 L263.27,481.27 L263.42,481.15 L263.56,481.03 L263.71,480.89 L263.86,480.74 L264.01,480.59 L264.15,480.43 L264.30,480.25 L264.45,480.08 L264.59,479.89 L264.74,479.69 L264.89,479.49 L265.03,479.29 L265.18,479.07 L265.33,478.86 L265.47,478.63 L265.62,478.40 L265.77,478.17 L265.91,477.93 L266.06,477.69 L266.21,477.44 L266.35,477.19 L266.50,476.94 L266.65,476.68 L266.80,476.43 L266.94,476.17 L267.09,475.90 L267.24,475.64 L267.38,475.37 L267.53,475.10 L267.68,474.83 L267.82,474.56 L267.97,474.29 L268.12,474.02 L268.26,473.74 L268.41,473.47 L268.56,473.19 L268.70,472.92 L268.85,472.65 L269.00,472.37 L269.14,472.10 L269.29,471.82 L269.44,471.55 L269.59,471.28 L269.73,471.00 L269.88,470.73 L270.03,470.46 L270.17,470.19 L270.32,469.92 L270.47,469.65 L270.61,469.38 L270.76,469.11 L270.91,468.85 L271.05,468.58 L271.20,468.32 L271.35,468.06 L271.49,467.79 L271.64,467.53 L271.79,467.28 L271.94,467.02 L272.08,466.76 L272.23,466.51 L272.38,466.25 L272.52,466.00 L272.67,465.75 L272.82,465.50 L272.96,465.25 L273.11,465.00 L273.26,464.76 L273.40,464.51 L273.55,464.27 L273.70,464.03 L273.84,463.79 L273.99,463.55 L274.14,463.32 L274.28,463.08 L274.43,462.85 L274.58,462.61 L274.73,462.38 L274.87,462.15 L275.02,461.92 L275.17,461.70 L275.31,461.47 L275.46,461.25 L275.61,461.03 L275.75,460.80 L275.90,460.58 L276.05,460.37 L276.19,460.15 L276.34,459.93 L276.49,459.72 L276.63,459.50 L276.78,459.29 L276.93,459.08 L277.07,458.87 L277.22,458.66 L277.37,458.46 L277.52,458.25 L277.66,458.05 L277.81,457.85 L277.96,457.64 L278.10,457.44 L278.25,457.25 L278.40,457.05 L278.54,456.85 L278.69,456.66 L278.84,456.46 L278.98,456.27 L279.13,456.08 L279.28,455.89 L279.42,455.70 L279.57,455.51 L279.72,455.32 L279.86,455.13 L280.01,454.95 L280.16,454.76 L280.31,454.58 L280.45,454.40 L280.60,454.22 L280.75,454.04 L280.89,453.86 L281.04,453.68 L281.19,453.51 L281.33,453.33 L281.48,453.16 L281.63,452.98 L281.77,452.81 L281.92,452.64 L282.07,452.47 L282.21,452.30 L282.36,452.13 L282.51,451.96 L282.66,451.80 L282.80,451.63 L282.95,451.47 L283.10,451.30 L283.24,451.14 L283.39,450.98 L283.54,450.82 L283.68,450.66 L283.83,450.50 L283.98,450.34 L284.12,450.18 L284.27,450.02 L284.42,449.87 L284.56,449.71 L284.71,449.56 L284.86,449.40 L285.00,449.25 L285.15,449.10 L285.30,448.95 L285.45,448.80 L285.59,448.65 L285.74,448.50 L285.89,448.35 L286.03,448.20 L286.18,448.06 L286.33,447.91 L286.47,447.77 L286.62,447.62 L286.77,447.48 L286.91,447.33 L287.06,447.19 L287.21,447.05 L287.35,446.91 L287.50,446.77 L287.65,446.63 L287.79,446.49 L287.94,446.35 L288.09,446.22 L288.24,446.08 L288.38,445.94 L288.53,445.81 L288.68,445.67 L288.82,445.54 L288.97,445.41 L289.12,445.27 L289.26,445.14 L289.41,445.01 L289.56,444.88 L289.70,444.75 L289.85,444.62 L290.00,444.49 L290.14,444.36 L290.29,444.23 L290.44,444.11 L290.58,443.98 L290.73,443.85 L290.88,443.73 L291.03,443.60 L291.17,443.48 L291.32,443.35 L291.47,443.23 L291.61,443.11 L291.76,442.98 L291.91,442.86 L292.05,442.74 L292.20,442.62 L292.35,442.50 L292.49,442.38 L292.64,442.26 L292.79,442.14 L292.93,442.03 L293.08,441.91 L293.23,441.79 L293.38,441.67 L293.52,441.56 L293.67,441.44 L293.82,441.33 L293.96,441.21 L294.11,441.10 L294.26,440.98 L294.40,440.87 L294.55,440.76 L294.70,440.65 L294.84,440.53 L294.99,440.42 L295.14,440.31 L295.28,440.20 L295.43,440.09 L295.58,439.98 L295.72,439.87 L295.87,439.76 L296.02,439.66 L296.17,439.55 L296.31,439.44 L296.46,439.33 L296.61,439.23 L296.75,439.12 L296.90,439.01 L297.05,438.91 L297.19,438.80 L297.34,438.70 L297.49,438.59 L297.63,438.49 L297.78,438.39 L297.93,438.28 L298.07,438.18 L298.22,438.08 L298.37,437.98 L298.51,437.88 L298.66,437.78 L298.81,437.68 L298.96,437.57 L299.10,437.47 L299.25,437.38 L299.40,437.28 L299.54,437.18 L299.69,437.08 L299.84,436.98 L299.98,436.88 L300.13,436.79 L300.28,436.69 L300.42,436.59 L300.57,436.50 L300.72,436.40 L300.86,436.30 L301.01,436.21 L301.16,436.11 L301.30,436.02 L301.45,435.92 L301.60,435.83 L301.75,435.74 L301.89,435.64 L302.04,435.55 L302.19,435.46 L302.33,435.37 L302.48,435.27 L302.63,435.18 L302.77,435.09 L302.92,435.00 L303.07,434.91 L303.21,434.82 L303.36,434.73 L303.51,434.64 L303.65,434.55 L303.80,434.46 L303.95,434.37 L304.10,434.28 L304.24,434.19 L304.39,434.10 L304.54,434.02 L304.68,433.93 L304.83,433.84 L304.98,433.76 L305.12,433.67 L305.27,433.58 L305.42,433.50 L305.56,433.41 L305.71,433.32 L305.86,433.24 L306.00,433.15 L306.15,433.07 L306.30,432.99 L306.44,432.90 L306.59,432.82 L306.74,432.73 L306.89,432.65 L307.03,432.57 L307.18,432.48 L307.33,432.40 L307.47,432.32 L307.62,432.24 L307.77,432.16 L307.91,432.07 L308.06,431.99 L308.21,431.91 L308.35,431.83 L308.50,431.75 L308.65,431.67 L308.79,431.59 L308.94,431.51 L309.09,431.43 L309.23,431.35 L309.38,431.27 L309.53,431.19 L309.68,431.11 L309.82,431.04 L309.97,430.96 L310.12,430.88 L310.26,430.80 L310.41,430.72 L310.56,430.65 L310.70,430.57 L310.85,430.49 L311.00,430.42 L311.14,430.34 L311.29,430.26 L311.44,430.19 L311.58,430.11 L311.73,430.04 L311.88,429.96 L312.03,429.89 L312.17,429.81 L312.32,429.74 L312.47,429.66 L312.61,429.59 L312.76,429.51 L312.91,429.44 L313.05,429.37 L313.20,429.29 L313.35,429.22 L313.49,429.15 L313.64,429.07 L313.79,429.00 L313.93,428.93 L314.08,428.86 L314.23,428.78 L314.37,428.71 L314.52,428.64 L314.67,428.57 L314.82,428.50 L314.96,428.43 L315.11,428.36 L315.26,428.29 L315.40,428.22 L315.55,428.15 L315.70,428.08 L315.84,428.01 L315.99,427.94" fill="none" stroke="#f0863a" stroke-width="1.9" stroke-linejoin="round" stroke-linecap="round" />
<circle cx="231.70" cy="443.00" r="3.8" fill="#f6bf9f" stroke="#ec8038" stroke-width="1.0"/>
<circle cx="251.50" cy="469.30" r="3.8" fill="#f6bf9f" stroke="#ec8038" stroke-width="1.0"/>
<circle cx="261.20" cy="475.60" r="3.8" fill="#f6bf9f" stroke="#ec8038" stroke-width="1.0"/>
<circle cx="271.20" cy="458.50" r="3.8" fill="#f6bf9f" stroke="#ec8038" stroke-width="1.0"/>
<circle cx="291.10" cy="441.20" r="3.8" fill="#f6bf9f" stroke="#ec8038" stroke-width="1.0"/>
</g>
<line x1="208.3" y1="438.70" x2="211.8" y2="438.70" stroke="#555555" stroke-width="1"/>
<text x="204.80" y="442.20" font-size="10.2" text-anchor="end">0</text>
<line x1="208.3" y1="453.90" x2="211.8" y2="453.90" stroke="#555555" stroke-width="1"/>
<text x="204.80" y="457.40" font-size="10.2" text-anchor="end">–5</text>
<line x1="208.3" y1="469.10" x2="211.8" y2="469.10" stroke="#555555" stroke-width="1"/>
<text x="204.80" y="472.60" font-size="10.2" text-anchor="end">–10</text>
<line x1="208.3" y1="484.30" x2="211.8" y2="484.30" stroke="#555555" stroke-width="1"/>
<text x="204.80" y="487.80" font-size="10.2" text-anchor="end">–15</text>
<line x1="208.30" y1="492.9" x2="208.30" y2="489.4" stroke="#555555" stroke-width="1"/>
<text x="208.30" y="502.70" font-size="10.2" text-anchor="middle">0.2π</text>
<line x1="257.25" y1="492.9" x2="257.25" y2="489.4" stroke="#555555" stroke-width="1"/>
<text x="257.25" y="502.70" font-size="10.2" text-anchor="middle">0.25π</text>
<line x1="306.20" y1="492.9" x2="306.20" y2="489.4" stroke="#555555" stroke-width="1"/>
<text x="306.20" y="502.70" font-size="10.2" text-anchor="middle">0.3π</text>
<rect x="73.5" y="302.4" width="266.80" height="206.10" fill="none" stroke="#555555" stroke-width="1.2"/>
<line x1="73.5" y1="320.10" x2="78.0" y2="320.10" stroke="#555555" stroke-width="1"/>
<text x="67.90" y="324.40" font-size="12" text-anchor="end">30</text>
<line x1="73.5" y1="356.40" x2="78.0" y2="356.40" stroke="#555555" stroke-width="1"/>
<text x="67.90" y="360.70" font-size="12" text-anchor="end">20</text>
<line x1="73.5" y1="392.70" x2="78.0" y2="392.70" stroke="#555555" stroke-width="1"/>
<text x="67.90" y="397.00" font-size="12" text-anchor="end">10</text>
<line x1="73.5" y1="429.00" x2="78.0" y2="429.00" stroke="#555555" stroke-width="1"/>
<text x="67.90" y="433.30" font-size="12" text-anchor="end">0</text>
<line x1="73.5" y1="465.30" x2="78.0" y2="465.30" stroke="#555555" stroke-width="1"/>
<text x="67.90" y="469.60" font-size="12" text-anchor="end">–10</text>
<line x1="73.5" y1="501.60" x2="78.0" y2="501.60" stroke="#555555" stroke-width="1"/>
<text x="67.90" y="505.90" font-size="12" text-anchor="end">–20</text>
<line x1="73.50" y1="508.5" x2="73.50" y2="504.0" stroke="#555555" stroke-width="1"/>
<text x="73.50" y="525.60" font-size="12" text-anchor="middle">0</text>
<line x1="140.20" y1="508.5" x2="140.20" y2="504.0" stroke="#555555" stroke-width="1"/>
<text x="140.20" y="525.60" font-size="12" text-anchor="middle">π/4</text>
<line x1="206.90" y1="508.5" x2="206.90" y2="504.0" stroke="#555555" stroke-width="1"/>
<text x="206.90" y="525.60" font-size="12" text-anchor="middle">π/2</text>
<line x1="273.60" y1="508.5" x2="273.60" y2="504.0" stroke="#555555" stroke-width="1"/>
<text x="273.60" y="525.60" font-size="12" text-anchor="middle">3π/4</text>
<line x1="340.30" y1="508.5" x2="340.30" y2="504.0" stroke="#555555" stroke-width="1"/>
<text x="340.30" y="525.60" font-size="12" text-anchor="middle">π</text>
<g transform="translate(32,405.6) rotate(-90)"><text x="0" y="0" font-size="14.2" text-anchor="middle" fill="#231f20"><tspan font-style="italic">ξ</tspan><tspan font-size="9.6" font-style="italic" dy="3.6">θ</tspan><tspan font-size="9.6" dx="-4.2" dy="-11.8">2</tspan><tspan dy="8.2"> (dB)</tspan></text></g>
<text x="207" y="549.3" font-size="13.4" text-anchor="middle" fill="#231f20"><tspan font-style="italic">θ</tspan> (rad)</text>
<line x1="420.4" y1="433.90" x2="525.8" y2="433.90" stroke="#a8a8a8" stroke-width="1.3"/>
<line x1="476.1" y1="350.6" x2="476.1" y2="508.6" stroke="#f08a30" stroke-width="1.6" stroke-dasharray="1.6,2.2"/>
<g clip-path="url(#clipD)">
<path d="M418.40,436.00 L527.80,301.00" fill="none" stroke="#f08a3c" stroke-width="1.8" stroke-linejoin="round" stroke-linecap="round" />
<path d="M420.40,433.50 C421.82,435.73 425.43,442.22 428.90,446.90 C432.37,451.58 437.12,457.32 441.20,461.60 C445.28,465.88 449.33,469.42 453.40,472.60 C457.47,475.78 461.82,478.78 465.60,480.70 C469.38,482.62 472.83,483.70 476.10,484.10 C479.37,484.50 482.38,484.20 485.20,483.10 C488.02,482.00 490.53,480.35 493.00,477.50 C495.47,474.65 497.83,470.75 500.00,466.00 C502.17,461.25 504.08,455.00 506.00,449.00 C507.92,443.00 509.42,436.83 511.50,430.00 C513.58,423.17 516.12,415.17 518.50,408.00 C520.88,400.83 524.58,390.50 525.80,387.00" fill="none" stroke="#f08a3c" stroke-width="1.8"/>
<circle cx="421.50" cy="433.00" r="3.8" fill="#fde7d9" stroke="#f9d6be" stroke-width="1.0"/>
<circle cx="430.20" cy="443.20" r="3.8" fill="#fce2d1" stroke="#f8cfb2" stroke-width="1.0"/>
<circle cx="440.70" cy="457.90" r="3.8" fill="#fbdcc7" stroke="#f7c6a4" stroke-width="1.0"/>
<circle cx="450.20" cy="462.80" r="3.8" fill="#fbd6bf" stroke="#f6be97" stroke-width="1.0"/>
<circle cx="460.00" cy="465.70" r="3.8" fill="#fad0b5" stroke="#f4b488" stroke-width="1.0"/>
<circle cx="469.80" cy="473.80" r="3.8" fill="#f8c8aa" stroke="#f2a571" stroke-width="1.0"/>
<circle cx="476.10" cy="479.40" r="3.8" fill="#f7c3a3" stroke="#f19b62" stroke-width="1.0"/>
<circle cx="479.80" cy="473.10" r="3.8" fill="#f7c09f" stroke="#f09559" stroke-width="1.0"/>
<circle cx="490.10" cy="475.80" r="3.8" fill="#f3b695" stroke="#e8864a" stroke-width="1.0"/>
<circle cx="499.90" cy="452.50" r="3.8" fill="#efaa8b" stroke="#de7841" stroke-width="1.0"/>
<circle cx="510.20" cy="430.30" r="3.8" fill="#e59f83" stroke="#cc6b3c" stroke-width="1.0"/>
<circle cx="519.10" cy="409.80" r="3.8" fill="#d9967f" stroke="#b8613c" stroke-width="1.0"/>
<rect x="426.20" y="413.10" width="7.4" height="7.4" fill="#fce2d1" stroke="#f8cfb2" stroke-width="1.0"/>
<rect x="436.40" y="402.20" width="7.4" height="7.4" fill="#fbdcc8" stroke="#f7c6a5" stroke-width="1.0"/>
<rect x="446.30" y="383.90" width="7.4" height="7.4" fill="#fbd6bf" stroke="#f6be98" stroke-width="1.0"/>
<rect x="456.00" y="380.80" width="7.4" height="7.4" fill="#fad0b5" stroke="#f4b488" stroke-width="1.0"/>
<rect x="466.40" y="365.70" width="7.4" height="7.4" fill="#f8c8aa" stroke="#f2a470" stroke-width="1.0"/>
<rect x="472.40" y="360.40" width="7.4" height="7.4" fill="#f7c3a3" stroke="#f19b62" stroke-width="1.0"/>
<rect x="475.80" y="355.20" width="7.4" height="7.4" fill="#f7c0a0" stroke="#f0955a" stroke-width="1.0"/>
<rect x="485.40" y="345.30" width="7.4" height="7.4" fill="#f4b796" stroke="#e9874b" stroke-width="1.0"/>
<rect x="495.90" y="324.70" width="7.4" height="7.4" fill="#efab8b" stroke="#de7841" stroke-width="1.0"/>
<rect x="505.80" y="318.70" width="7.4" height="7.4" fill="#e6a084" stroke="#ce6c3c" stroke-width="1.0"/>
<rect x="515.40" y="309.00" width="7.4" height="7.4" fill="#d9967f" stroke="#b8613c" stroke-width="1.0"/>
</g>
<rect x="420.4" y="302.2" width="105.40" height="206.40" fill="none" stroke="#555555" stroke-width="1.2"/>
<line x1="420.4" y1="322.00" x2="424.9" y2="322.00" stroke="#555555" stroke-width="1"/>
<text x="414.80" y="326.30" font-size="12" text-anchor="end">30</text>
<line x1="420.4" y1="359.30" x2="424.9" y2="359.30" stroke="#555555" stroke-width="1"/>
<text x="414.80" y="363.60" font-size="12" text-anchor="end">20</text>
<line x1="420.4" y1="396.60" x2="424.9" y2="396.60" stroke="#555555" stroke-width="1"/>
<text x="414.80" y="400.90" font-size="12" text-anchor="end">10</text>
<line x1="420.4" y1="433.90" x2="424.9" y2="433.90" stroke="#555555" stroke-width="1"/>
<text x="414.80" y="438.20" font-size="12" text-anchor="end">0</text>
<line x1="420.4" y1="471.20" x2="424.9" y2="471.20" stroke="#555555" stroke-width="1"/>
<text x="414.80" y="475.50" font-size="12" text-anchor="end">–10</text>
<line x1="420.4" y1="508.50" x2="424.9" y2="508.50" stroke="#555555" stroke-width="1"/>
<text x="414.80" y="512.80" font-size="12" text-anchor="end">–20</text>
<line x1="420.40" y1="508.6" x2="420.40" y2="504.1" stroke="#555555" stroke-width="1"/>
<text x="420.40" y="525.60" font-size="12" text-anchor="middle">0</text>
<line x1="451.20" y1="508.6" x2="451.20" y2="504.1" stroke="#555555" stroke-width="1"/>
<text x="451.20" y="525.60" font-size="12" text-anchor="middle">50</text>
<line x1="482.00" y1="508.6" x2="482.00" y2="504.1" stroke="#555555" stroke-width="1"/>
<text x="482.00" y="525.60" font-size="12" text-anchor="middle">100</text>
<line x1="512.80" y1="508.6" x2="512.80" y2="504.1" stroke="#555555" stroke-width="1"/>
<text x="512.80" y="525.60" font-size="12" text-anchor="middle">150</text>
<circle cx="432.90" cy="317.30" r="4.1" fill="#f6bd9b" stroke="#ef8f50" stroke-width="1.0"/>
<rect x="428.70" y="331.70" width="8.4" height="8.4" fill="#f8c9ab" stroke="#f2a06a" stroke-width="1.0"/>
<text x="443.7" y="322" font-size="12.8" fill="#231f20" textLength="40.4" lengthAdjust="spacingAndGlyphs"><tspan font-style="italic">θ</tspan> = π/4</text>
<text x="443.7" y="340.7" font-size="12.8" fill="#231f20" textLength="47.5" lengthAdjust="spacingAndGlyphs"><tspan font-style="italic">θ</tspan> = 3π/4</text>
<g transform="translate(379.9,405.6) rotate(-90)"><text x="0" y="0" font-size="14.2" text-anchor="middle" fill="#231f20"><tspan font-style="italic">ξ</tspan><tspan font-size="9.6" font-style="italic" dy="3.6">θ</tspan><tspan font-size="9.6" dx="-4.2" dy="-11.8">2</tspan><tspan dy="8.2"> (dB)</tspan></text></g>
<text x="473" y="543.5" font-size="12.6" text-anchor="middle" fill="#231f20"><tspan font-style="italic">t</tspan><tspan font-size="8.5" dy="3">1</tspan><tspan font-size="11" dy="-3"> (ms)</tspan></text>
<line x1="605.3" y1="428.80" x2="872.3" y2="428.80" stroke="#a8a8a8" stroke-width="1.3"/>
<rect x="626.6" y="312.1" width="36.70" height="9.9" fill="#d6e6f4"/>
<rect x="663.3" y="312.1" width="37.00" height="9.9" fill="#c6dbef"/>
<rect x="700.3" y="312.1" width="37.00" height="9.9" fill="#9cb8dc"/>
<rect x="626.6" y="312.1" width="110.7" height="9.9" fill="none" stroke="#4a4a4a" stroke-width="1"/>
<line x1="645.2" y1="322" x2="645.2" y2="319.2" stroke="#4a4a4a" stroke-width="0.9"/>
<text x="645.20" y="336.00" font-size="12" text-anchor="middle">10</text>
<line x1="682.2" y1="322" x2="682.2" y2="319.2" stroke="#4a4a4a" stroke-width="0.9"/>
<text x="682.20" y="336.00" font-size="12" text-anchor="middle">70</text>
<line x1="718.9" y1="322" x2="718.9" y2="319.2" stroke="#4a4a4a" stroke-width="0.9"/>
<text x="718.90" y="336.00" font-size="12" text-anchor="middle">120</text>
<text x="743.6" y="320.7" font-size="12" fill="#231f20"><tspan font-style="italic">t</tspan><tspan font-size="8.5" dy="3">2</tspan><tspan dy="-3"> (ms)</tspan></text>
<line x1="671.9" y1="341" x2="671.9" y2="508.5" stroke="#2f7fbf" stroke-width="1.5" stroke-dasharray="4.2,2.8"/>
<line x1="806.1" y1="302.4" x2="806.1" y2="508.5" stroke="#2f7fbf" stroke-width="1.5" stroke-dasharray="4.2,2.8"/>
<g clip-path="url(#clipE)">
<path d="M605.30,381.00 C607.25,380.17 611.22,377.58 617.00,376.00 C622.78,374.42 631.00,372.67 640.00,371.50 C649.00,370.33 661.00,369.17 671.00,369.00 C681.00,368.83 691.17,369.67 700.00,370.50 C708.83,371.33 717.17,372.55 724.00,374.00 C730.83,375.45 735.50,377.37 741.00,379.20 C746.50,381.03 751.83,382.70 757.00,385.00 C762.17,387.30 767.83,390.50 772.00,393.00 C776.17,395.50 778.82,396.65 782.00,400.00 C785.18,403.35 788.43,408.10 791.10,413.10 C793.77,418.10 796.02,423.52 798.00,430.00 C799.98,436.48 801.58,445.67 803.00,452.00 C804.42,458.33 805.57,463.92 806.50,468.00 C807.43,472.08 807.85,476.50 808.60,476.50 C809.35,476.50 809.93,472.75 811.00,468.00 C812.07,463.25 813.25,455.98 815.00,448.00 C816.75,440.02 819.00,427.27 821.50,420.10 C824.00,412.93 826.92,408.85 830.00,405.00 C833.08,401.15 836.35,399.35 840.00,397.00 C843.65,394.65 848.23,392.82 851.90,390.90 C855.57,388.98 858.50,387.25 862.00,385.50 C865.50,383.75 871.08,381.25 872.90,380.40" fill="none" stroke="#b8d4ec" stroke-width="1.9"/>
<path d="M605.30,446.00 C606.75,445.50 610.72,444.42 614.00,443.00 C617.28,441.58 620.33,440.15 625.00,437.50 C629.67,434.85 636.83,429.85 642.00,427.10 C647.17,424.35 651.32,422.75 656.00,421.00 C660.68,419.25 664.43,418.27 670.10,416.60 C675.77,414.93 684.15,412.55 690.00,411.00 C695.85,409.45 699.87,408.13 705.20,407.30 C710.53,406.47 716.17,406.20 722.00,406.00 C727.83,405.80 733.87,406.02 740.20,406.10 C746.53,406.18 753.08,405.92 760.00,406.50 C766.92,407.08 774.20,408.02 781.70,409.60 C789.20,411.18 797.20,413.08 805.00,416.00 C812.80,418.92 821.33,423.43 828.50,427.10 C835.67,430.77 842.75,434.85 848.00,438.00 C853.25,441.15 857.00,444.28 860.00,446.00 C863.00,447.72 863.85,447.93 866.00,448.30 C868.15,448.67 871.75,448.22 872.90,448.20" fill="none" stroke="#3d8ac4" stroke-width="1.9"/>
<path d="M605.30,393.00 C606.92,393.67 611.55,395.33 615.00,397.00 C618.45,398.67 622.17,400.17 626.00,403.00 C629.83,405.83 634.33,409.83 638.00,414.00 C641.67,418.17 645.00,422.83 648.00,428.00 C651.00,433.17 653.83,439.83 656.00,445.00 C658.17,450.17 659.43,454.92 661.00,459.00 C662.57,463.08 664.07,469.50 665.40,469.50 C666.73,469.50 667.57,463.25 669.00,459.00 C670.43,454.75 671.87,449.32 674.00,444.00 C676.13,438.68 678.80,432.10 681.80,427.10 C684.80,422.10 688.10,417.70 692.00,414.00 C695.90,410.30 700.20,407.98 705.20,404.90 C710.20,401.82 716.17,398.42 722.00,395.50 C727.83,392.58 733.87,389.65 740.20,387.40 C746.53,385.15 753.37,383.27 760.00,382.00 C766.63,380.73 772.48,380.27 780.00,379.80 C787.52,379.33 796.77,379.08 805.10,379.20 C813.43,379.32 822.52,379.70 830.00,380.50 C837.48,381.30 842.85,381.88 850.00,384.00 C857.15,386.12 869.08,391.67 872.90,393.20" fill="none" stroke="#1c5b9e" stroke-width="1.9"/>
<circle cx="616.80" cy="372.20" r="3.8" fill="#dbeaf6" stroke="#b9d4ec" stroke-width="1.0"/>
<circle cx="627.60" cy="371.00" r="3.8" fill="#dbeaf6" stroke="#b9d4ec" stroke-width="1.0"/>
<circle cx="670.60" cy="369.90" r="3.8" fill="#dbeaf6" stroke="#b9d4ec" stroke-width="1.0"/>
<circle cx="713.30" cy="371.00" r="3.8" fill="#dbeaf6" stroke="#b9d4ec" stroke-width="1.0"/>
<circle cx="723.90" cy="370.60" r="3.8" fill="#dbeaf6" stroke="#b9d4ec" stroke-width="1.0"/>
<circle cx="757.20" cy="381.50" r="3.8" fill="#dbeaf6" stroke="#b9d4ec" stroke-width="1.0"/>
<circle cx="772.40" cy="393.20" r="3.8" fill="#dbeaf6" stroke="#b9d4ec" stroke-width="1.0"/>
<circle cx="781.70" cy="399.80" r="3.8" fill="#dbeaf6" stroke="#b9d4ec" stroke-width="1.0"/>
<circle cx="789.90" cy="410.30" r="3.8" fill="#dbeaf6" stroke="#b9d4ec" stroke-width="1.0"/>
<circle cx="799.30" cy="426.00" r="3.8" fill="#dbeaf6" stroke="#b9d4ec" stroke-width="1.0"/>
<circle cx="809.30" cy="457.50" r="3.8" fill="#dbeaf6" stroke="#b9d4ec" stroke-width="1.0"/>
<circle cx="826.10" cy="421.30" r="3.8" fill="#dbeaf6" stroke="#b9d4ec" stroke-width="1.0"/>
<circle cx="830.80" cy="411.90" r="3.8" fill="#dbeaf6" stroke="#b9d4ec" stroke-width="1.0"/>
<circle cx="836.70" cy="404.90" r="3.8" fill="#dbeaf6" stroke="#b9d4ec" stroke-width="1.0"/>
<circle cx="842.00" cy="399.10" r="3.8" fill="#dbeaf6" stroke="#b9d4ec" stroke-width="1.0"/>
<circle cx="853.00" cy="390.90" r="3.8" fill="#dbeaf6" stroke="#b9d4ec" stroke-width="1.0"/>
<circle cx="614.50" cy="429.90" r="3.8" fill="#c4dcf0" stroke="#4b92c9" stroke-width="1.0"/>
<circle cx="625.70" cy="428.30" r="3.8" fill="#c4dcf0" stroke="#4b92c9" stroke-width="1.0"/>
<circle cx="668.20" cy="416.60" r="3.8" fill="#c4dcf0" stroke="#4b92c9" stroke-width="1.0"/>
<circle cx="711.70" cy="404.90" r="3.8" fill="#c4dcf0" stroke="#4b92c9" stroke-width="1.0"/>
<circle cx="722.00" cy="407.30" r="3.8" fill="#c4dcf0" stroke="#4b92c9" stroke-width="1.0"/>
<circle cx="754.20" cy="405.40" r="3.8" fill="#c4dcf0" stroke="#4b92c9" stroke-width="1.0"/>
<circle cx="764.70" cy="403.30" r="3.8" fill="#c4dcf0" stroke="#4b92c9" stroke-width="1.0"/>
<circle cx="796.90" cy="410.30" r="3.8" fill="#c4dcf0" stroke="#4b92c9" stroke-width="1.0"/>
<circle cx="807.90" cy="407.30" r="3.8" fill="#c4dcf0" stroke="#4b92c9" stroke-width="1.0"/>
<circle cx="840.20" cy="416.10" r="3.8" fill="#c4dcf0" stroke="#4b92c9" stroke-width="1.0"/>
<circle cx="850.20" cy="418.90" r="3.8" fill="#c4dcf0" stroke="#4b92c9" stroke-width="1.0"/>
<circle cx="615.20" cy="396.70" r="3.8" fill="#88acd6" stroke="#23609f" stroke-width="1.0"/>
<circle cx="625.70" cy="402.60" r="3.8" fill="#88acd6" stroke="#23609f" stroke-width="1.0"/>
<circle cx="668.20" cy="441.10" r="3.8" fill="#88acd6" stroke="#23609f" stroke-width="1.0"/>
<circle cx="711.70" cy="408.00" r="3.8" fill="#88acd6" stroke="#23609f" stroke-width="1.0"/>
<circle cx="722.00" cy="401.90" r="3.8" fill="#88acd6" stroke="#23609f" stroke-width="1.0"/>
<circle cx="754.20" cy="386.20" r="3.8" fill="#88acd6" stroke="#23609f" stroke-width="1.0"/>
<circle cx="764.70" cy="387.90" r="3.8" fill="#88acd6" stroke="#23609f" stroke-width="1.0"/>
<circle cx="796.90" cy="384.40" r="3.8" fill="#88acd6" stroke="#23609f" stroke-width="1.0"/>
<circle cx="807.90" cy="384.40" r="3.8" fill="#88acd6" stroke="#23609f" stroke-width="1.0"/>
<circle cx="840.20" cy="384.60" r="3.8" fill="#88acd6" stroke="#23609f" stroke-width="1.0"/>
<circle cx="850.20" cy="384.60" r="3.8" fill="#88acd6" stroke="#23609f" stroke-width="1.0"/>
</g>
<rect x="605.3" y="302.4" width="267.00" height="206.10" fill="none" stroke="#555555" stroke-width="1.2"/>
<line x1="605.3" y1="320.20" x2="609.8" y2="320.20" stroke="#555555" stroke-width="1"/>
<text x="599.70" y="324.50" font-size="12" text-anchor="end">30</text>
<line x1="605.3" y1="356.40" x2="609.8" y2="356.40" stroke="#555555" stroke-width="1"/>
<text x="599.70" y="360.70" font-size="12" text-anchor="end">20</text>
<line x1="605.3" y1="392.60" x2="609.8" y2="392.60" stroke="#555555" stroke-width="1"/>
<text x="599.70" y="396.90" font-size="12" text-anchor="end">10</text>
<line x1="605.3" y1="428.80" x2="609.8" y2="428.80" stroke="#555555" stroke-width="1"/>
<text x="599.70" y="433.10" font-size="12" text-anchor="end">0</text>
<line x1="605.3" y1="465.00" x2="609.8" y2="465.00" stroke="#555555" stroke-width="1"/>
<text x="599.70" y="469.30" font-size="12" text-anchor="end">–10</text>
<line x1="605.3" y1="501.20" x2="609.8" y2="501.20" stroke="#555555" stroke-width="1"/>
<text x="599.70" y="505.50" font-size="12" text-anchor="end">–20</text>
<line x1="605.30" y1="508.5" x2="605.30" y2="504.0" stroke="#555555" stroke-width="1"/>
<text x="605.30" y="525.60" font-size="12" text-anchor="middle">0</text>
<line x1="672.05" y1="508.5" x2="672.05" y2="504.0" stroke="#555555" stroke-width="1"/>
<text x="672.05" y="525.60" font-size="12" text-anchor="middle">π/4</text>
<line x1="738.80" y1="508.5" x2="738.80" y2="504.0" stroke="#555555" stroke-width="1"/>
<text x="738.80" y="525.60" font-size="12" text-anchor="middle">π/2</text>
<line x1="805.55" y1="508.5" x2="805.55" y2="504.0" stroke="#555555" stroke-width="1"/>
<text x="805.55" y="525.60" font-size="12" text-anchor="middle">3π/4</text>
<line x1="872.30" y1="508.5" x2="872.30" y2="504.0" stroke="#555555" stroke-width="1"/>
<text x="872.30" y="525.60" font-size="12" text-anchor="middle">π</text>
<g transform="translate(564,405.6) rotate(-90)"><text x="0" y="0" font-size="14.2" text-anchor="middle" fill="#231f20"><tspan font-style="italic">ξ</tspan><tspan font-size="9.6" font-style="italic" dy="3.6">θ</tspan><tspan font-size="9.6" dx="-4.2" dy="-11.8">2</tspan><tspan dy="8.2"> (dB)</tspan></text></g>
<text x="739" y="549.3" font-size="13.4" text-anchor="middle" fill="#231f20"><tspan font-style="italic">θ</tspan> (rad)</text>
<line x1="952.3" y1="428.90" x2="1057.3" y2="428.90" stroke="#a8a8a8" stroke-width="1.3"/>
<line x1="1006.3" y1="351.3" x2="1006.3" y2="508.7" stroke="#2f7fbf" stroke-width="1.6" stroke-dasharray="1.6,2.2"/>
<g clip-path="url(#clipF)">
<path d="M951.00,479.50 C952.50,477.25 956.00,471.25 960.00,466.00 C964.00,460.75 970.00,454.00 975.00,448.00 C980.00,442.00 984.80,435.25 990.00,430.00 C995.20,424.75 1000.87,421.42 1006.20,416.50 C1011.53,411.58 1016.37,406.08 1022.00,400.50 C1027.63,394.92 1033.92,388.50 1040.00,383.00 C1046.08,377.50 1055.42,370.08 1058.50,367.50" fill="none" stroke="#3a86c0" stroke-width="1.9"/>
<path d="M951.00,362.50 C952.50,363.58 956.00,365.75 960.00,369.00 C964.00,372.25 970.00,377.42 975.00,382.00 C980.00,386.58 984.80,391.17 990.00,396.50 C995.20,401.83 1000.87,408.50 1006.20,414.00 C1011.53,419.50 1016.37,423.67 1022.00,429.50 C1027.63,435.33 1033.92,441.67 1040.00,449.00 C1046.08,456.33 1055.42,469.42 1058.50,473.50" fill="none" stroke="#3a86c0" stroke-width="1.9"/>
<circle cx="959.40" cy="458.30" r="4.0" fill="#e1edf8" stroke="#bdd6ed" stroke-width="1.0"/>
<circle cx="974.80" cy="445.40" r="4.0" fill="#d7e7f5" stroke="#a2c6e5" stroke-width="1.0"/>
<circle cx="990.20" cy="425.80" r="4.0" fill="#cce1f2" stroke="#88b6dd" stroke-width="1.0"/>
<circle cx="1006.20" cy="420.20" r="4.0" fill="#c0daee" stroke="#669dcf" stroke-width="1.0"/>
<circle cx="1022.20" cy="405.00" r="4.0" fill="#adcae7" stroke="#397ab9" stroke-width="1.0"/>
<circle cx="1037.90" cy="393.60" r="4.0" fill="#94b5da" stroke="#2863a3" stroke-width="1.0"/>
<circle cx="1053.10" cy="377.70" r="4.0" fill="#7398c6" stroke="#1f518e" stroke-width="1.0"/>
<rect x="955.10" y="367.20" width="8.0" height="8.0" fill="#e1edf8" stroke="#bdd7ed" stroke-width="1.0"/>
<rect x="970.70" y="381.20" width="8.0" height="8.0" fill="#d7e7f5" stroke="#a3c6e5" stroke-width="1.0"/>
<rect x="986.40" y="392.40" width="8.0" height="8.0" fill="#cce1f2" stroke="#88b6dd" stroke-width="1.0"/>
<rect x="1002.30" y="409.30" width="8.0" height="8.0" fill="#c0daee" stroke="#659dcf" stroke-width="1.0"/>
<rect x="1018.20" y="424.00" width="8.0" height="8.0" fill="#adcae7" stroke="#397ab9" stroke-width="1.0"/>
<rect x="1033.90" y="438.10" width="8.0" height="8.0" fill="#94b5da" stroke="#2863a3" stroke-width="1.0"/>
<rect x="1049.40" y="451.30" width="8.0" height="8.0" fill="#7297c5" stroke="#1f518d" stroke-width="1.0"/>
</g>
<rect x="952.3" y="301.8" width="105.00" height="206.90" fill="none" stroke="#555555" stroke-width="1.2"/>
<line x1="952.3" y1="320.00" x2="956.8" y2="320.00" stroke="#555555" stroke-width="1"/>
<text x="946.70" y="324.30" font-size="12" text-anchor="end">30</text>
<line x1="952.3" y1="356.30" x2="956.8" y2="356.30" stroke="#555555" stroke-width="1"/>
<text x="946.70" y="360.60" font-size="12" text-anchor="end">20</text>
<line x1="952.3" y1="392.60" x2="956.8" y2="392.60" stroke="#555555" stroke-width="1"/>
<text x="946.70" y="396.90" font-size="12" text-anchor="end">10</text>
<line x1="952.3" y1="428.90" x2="956.8" y2="428.90" stroke="#555555" stroke-width="1"/>
<text x="946.70" y="433.20" font-size="12" text-anchor="end">0</text>
<line x1="952.3" y1="465.20" x2="956.8" y2="465.20" stroke="#555555" stroke-width="1"/>
<text x="946.70" y="469.50" font-size="12" text-anchor="end">–10</text>
<line x1="952.3" y1="501.50" x2="956.8" y2="501.50" stroke="#555555" stroke-width="1"/>
<text x="946.70" y="505.80" font-size="12" text-anchor="end">–20</text>
<line x1="952.30" y1="508.7" x2="952.30" y2="504.2" stroke="#555555" stroke-width="1"/>
<text x="952.30" y="525.60" font-size="12" text-anchor="middle">0</text>
<line x1="987.30" y1="508.7" x2="987.30" y2="504.2" stroke="#555555" stroke-width="1"/>
<text x="987.30" y="525.60" font-size="12" text-anchor="middle">0.5</text>
<line x1="1022.30" y1="508.7" x2="1022.30" y2="504.2" stroke="#555555" stroke-width="1"/>
<text x="1022.30" y="525.60" font-size="12" text-anchor="middle">1.0</text>
<line x1="1057.30" y1="508.7" x2="1057.30" y2="504.2" stroke="#555555" stroke-width="1"/>
<text x="1057.30" y="525.60" font-size="12" text-anchor="middle">1.5</text>
<circle cx="968.40" cy="316.90" r="4.1" fill="#a9c8e6" stroke="#3d82bf" stroke-width="1.0"/>
<rect x="964.20" y="330.70" width="8.4" height="8.4" fill="#b8d3ec" stroke="#5a96ca" stroke-width="1.0"/>
<text x="981" y="321.1" font-size="12.8" fill="#231f20" textLength="48" lengthAdjust="spacingAndGlyphs"><tspan font-style="italic">θ</tspan> = 3π/4</text>
<text x="981" y="339.6" font-size="12.8" fill="#231f20" textLength="40.5" lengthAdjust="spacingAndGlyphs"><tspan font-style="italic">θ</tspan> = π/4</text>
<g transform="translate(910,405.6) rotate(-90)"><text x="0" y="0" font-size="14.2" text-anchor="middle" fill="#231f20"><tspan font-style="italic">ξ</tspan><tspan font-size="9.6" font-style="italic" dy="3.6">θ</tspan><tspan font-size="9.6" dx="-4.2" dy="-11.8">2</tspan><tspan dy="8.2"> (dB)</tspan></text></g>
<text x="1004.8" y="545.9" font-size="12.6" text-anchor="middle" fill="#231f20" font-style="italic">t<tspan font-size="8.5" font-style="normal" dy="3">2</tspan><tspan dy="-3">/t</tspan><tspan font-size="8.5" font-style="normal" dy="3">1</tspan></text>
</svg></body></html>
